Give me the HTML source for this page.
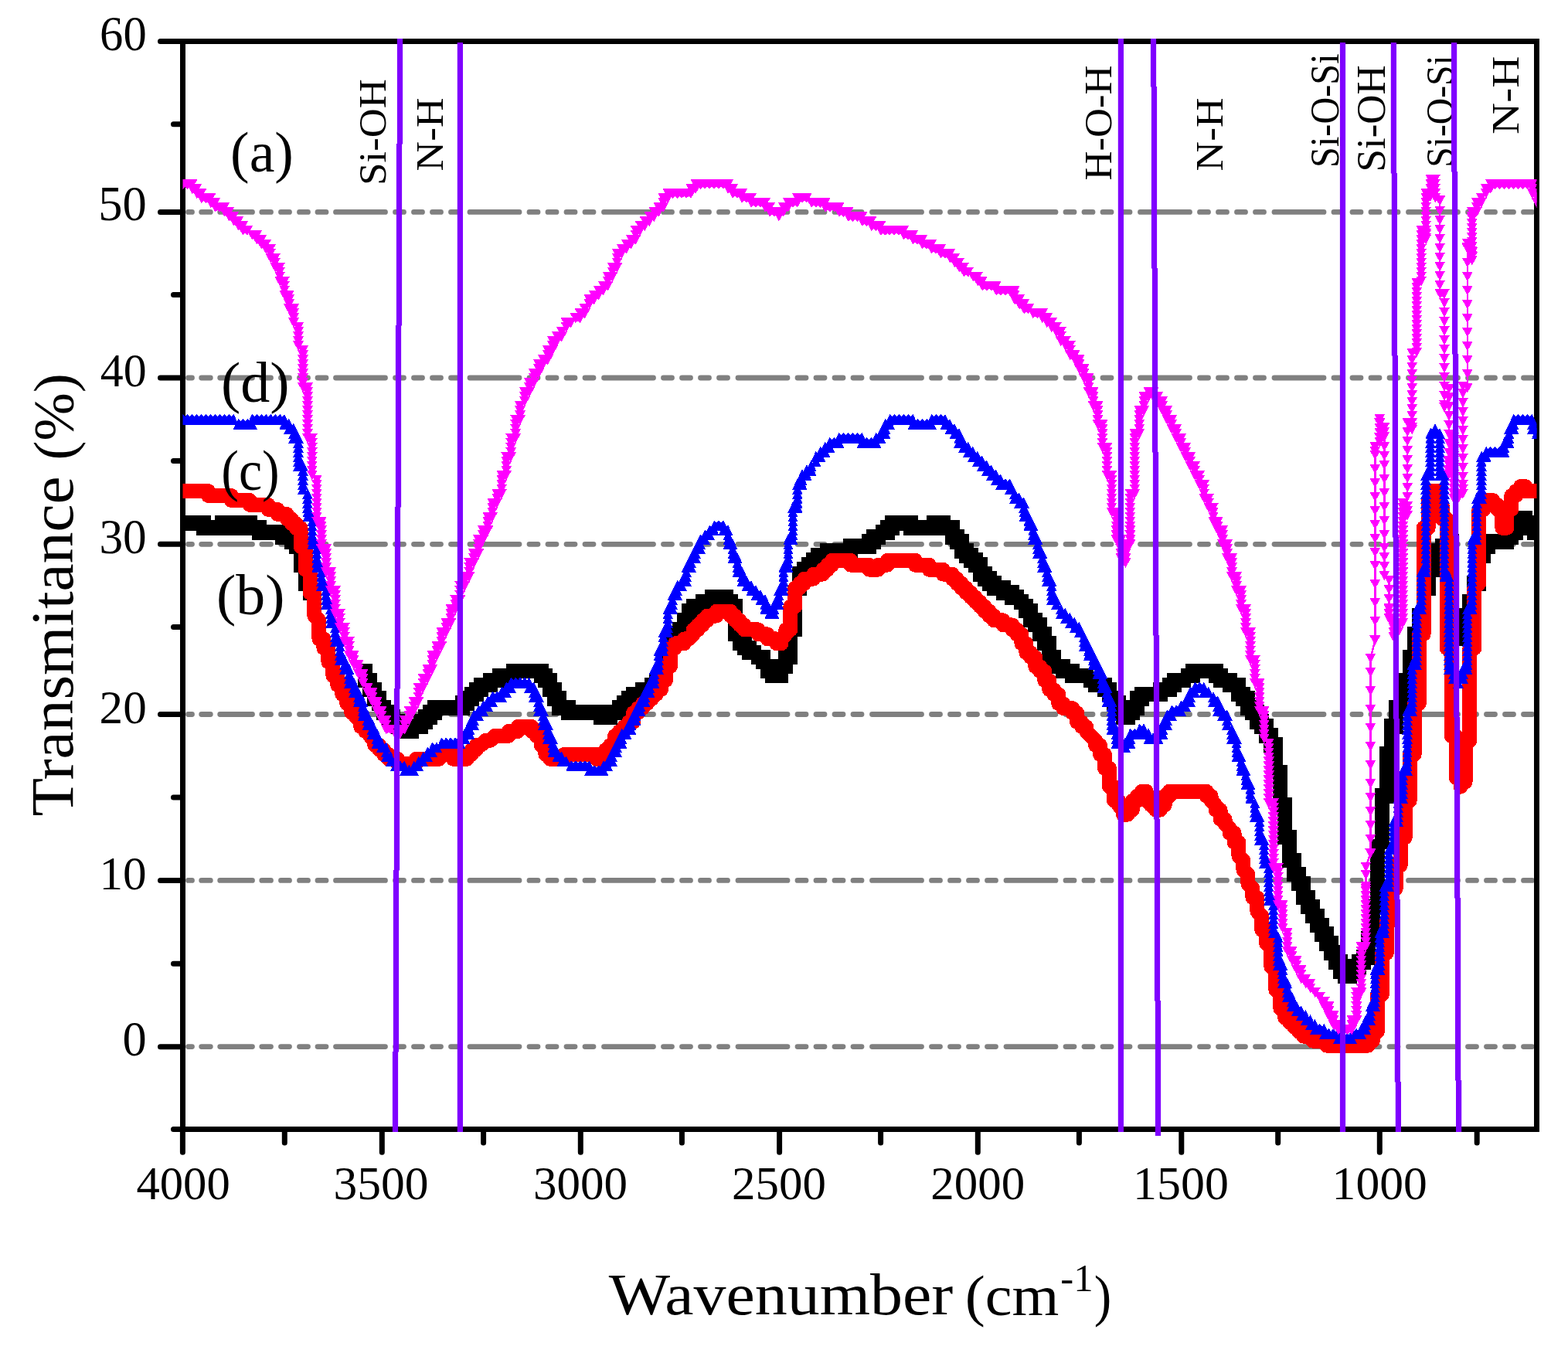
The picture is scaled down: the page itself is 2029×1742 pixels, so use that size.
<!DOCTYPE html>
<html lang="en"><head><meta charset="utf-8"><title>FTIR transmittance spectra</title>
<style>html,body{margin:0;padding:0;background:#fff}svg{display:block}text{font-family:"Liberation Serif","DejaVu Serif",serif;fill:#000}</style></head><body>
<svg xmlns="http://www.w3.org/2000/svg" width="2029" height="1742" viewBox="0 0 2029 1742">
<rect width="2029" height="1742" fill="#fff"/>
<defs><clipPath id="pc"><rect x="236.5" y="53.5" width="1752" height="1408"/></clipPath></defs>
<g clip-path="url(#pc)"><path d="M243.5,274.4H248.5M260.7,274.4H272.3M284.7,274.4H326.5M338.8,274.4H350.5M363.5,274.4H374.5M387.5,274.4H398.5M411,274.4H422M434.5,274.4H498.5M511.5,274.4H522.5M535.5,274.4H546.5M559.5,274.4H570.5M583.5,274.4H594.5M608,274.4H672M685,274.4H696M709,274.4H720M733,274.4H744M757,274.4H768M781.5,274.4H845.5M858.5,274.4H869.5M882.5,274.4H893.5M906.5,274.4H917.5M930.5,274.4H941.5M955,274.4H1019M1032,274.4H1043M1056,274.4H1067M1080,274.4H1091M1104,274.4H1115M1128.5,274.4H1192.5M1205.5,274.4H1216.5M1229.5,274.4H1240.5M1253.5,274.4H1264.5M1277.5,274.4H1288.5M1302,274.4H1366M1379,274.4H1390M1403,274.4H1414M1427,274.4H1438M1451,274.4H1462M1475.5,274.4H1539.5M1552.5,274.4H1563.5M1576.5,274.4H1587.5M1600.5,274.4H1611.5M1624.5,274.4H1635.5M1649,274.4H1713M1726,274.4H1737M1750,274.4H1761M1774,274.4H1785M1798,274.4H1809M1822.5,274.4H1886.5M1899.5,274.4H1910.5M1923.5,274.4H1934.5M1947.5,274.4H1958.5M1971.5,274.4H1982.5M243.5,489H248.5M260.7,489H272.3M284.7,489H326.5M338.8,489H350.5M363.5,489H374.5M387.5,489H398.5M411,489H422M434.5,489H498.5M511.5,489H522.5M535.5,489H546.5M559.5,489H570.5M583.5,489H594.5M608,489H672M685,489H696M709,489H720M733,489H744M757,489H768M781.5,489H845.5M858.5,489H869.5M882.5,489H893.5M906.5,489H917.5M930.5,489H941.5M955,489H1019M1032,489H1043M1056,489H1067M1080,489H1091M1104,489H1115M1128.5,489H1192.5M1205.5,489H1216.5M1229.5,489H1240.5M1253.5,489H1264.5M1277.5,489H1288.5M1302,489H1366M1379,489H1390M1403,489H1414M1427,489H1438M1451,489H1462M1475.5,489H1539.5M1552.5,489H1563.5M1576.5,489H1587.5M1600.5,489H1611.5M1624.5,489H1635.5M1649,489H1713M1726,489H1737M1750,489H1761M1774,489H1785M1798,489H1809M1822.5,489H1886.5M1899.5,489H1910.5M1923.5,489H1934.5M1947.5,489H1958.5M1971.5,489H1982.5M243.5,704.3H248.5M260.7,704.3H272.3M284.7,704.3H326.5M338.8,704.3H350.5M363.5,704.3H374.5M387.5,704.3H398.5M411,704.3H422M434.5,704.3H498.5M511.5,704.3H522.5M535.5,704.3H546.5M559.5,704.3H570.5M583.5,704.3H594.5M608,704.3H672M685,704.3H696M709,704.3H720M733,704.3H744M757,704.3H768M781.5,704.3H845.5M858.5,704.3H869.5M882.5,704.3H893.5M906.5,704.3H917.5M930.5,704.3H941.5M955,704.3H1019M1032,704.3H1043M1056,704.3H1067M1080,704.3H1091M1104,704.3H1115M1128.5,704.3H1192.5M1205.5,704.3H1216.5M1229.5,704.3H1240.5M1253.5,704.3H1264.5M1277.5,704.3H1288.5M1302,704.3H1366M1379,704.3H1390M1403,704.3H1414M1427,704.3H1438M1451,704.3H1462M1475.5,704.3H1539.5M1552.5,704.3H1563.5M1576.5,704.3H1587.5M1600.5,704.3H1611.5M1624.5,704.3H1635.5M1649,704.3H1713M1726,704.3H1737M1750,704.3H1761M1774,704.3H1785M1798,704.3H1809M1822.5,704.3H1886.5M1899.5,704.3H1910.5M1923.5,704.3H1934.5M1947.5,704.3H1958.5M1971.5,704.3H1982.5M243.5,924.5H248.5M260.7,924.5H272.3M284.7,924.5H326.5M338.8,924.5H350.5M363.5,924.5H374.5M387.5,924.5H398.5M411,924.5H422M434.5,924.5H498.5M511.5,924.5H522.5M535.5,924.5H546.5M559.5,924.5H570.5M583.5,924.5H594.5M608,924.5H672M685,924.5H696M709,924.5H720M733,924.5H744M757,924.5H768M781.5,924.5H845.5M858.5,924.5H869.5M882.5,924.5H893.5M906.5,924.5H917.5M930.5,924.5H941.5M955,924.5H1019M1032,924.5H1043M1056,924.5H1067M1080,924.5H1091M1104,924.5H1115M1128.5,924.5H1192.5M1205.5,924.5H1216.5M1229.5,924.5H1240.5M1253.5,924.5H1264.5M1277.5,924.5H1288.5M1302,924.5H1366M1379,924.5H1390M1403,924.5H1414M1427,924.5H1438M1451,924.5H1462M1475.5,924.5H1539.5M1552.5,924.5H1563.5M1576.5,924.5H1587.5M1600.5,924.5H1611.5M1624.5,924.5H1635.5M1649,924.5H1713M1726,924.5H1737M1750,924.5H1761M1774,924.5H1785M1798,924.5H1809M1822.5,924.5H1886.5M1899.5,924.5H1910.5M1923.5,924.5H1934.5M1947.5,924.5H1958.5M1971.5,924.5H1982.5M243.5,1139.4H248.5M260.7,1139.4H272.3M284.7,1139.4H326.5M338.8,1139.4H350.5M363.5,1139.4H374.5M387.5,1139.4H398.5M411,1139.4H422M434.5,1139.4H498.5M511.5,1139.4H522.5M535.5,1139.4H546.5M559.5,1139.4H570.5M583.5,1139.4H594.5M608,1139.4H672M685,1139.4H696M709,1139.4H720M733,1139.4H744M757,1139.4H768M781.5,1139.4H845.5M858.5,1139.4H869.5M882.5,1139.4H893.5M906.5,1139.4H917.5M930.5,1139.4H941.5M955,1139.4H1019M1032,1139.4H1043M1056,1139.4H1067M1080,1139.4H1091M1104,1139.4H1115M1128.5,1139.4H1192.5M1205.5,1139.4H1216.5M1229.5,1139.4H1240.5M1253.5,1139.4H1264.5M1277.5,1139.4H1288.5M1302,1139.4H1366M1379,1139.4H1390M1403,1139.4H1414M1427,1139.4H1438M1451,1139.4H1462M1475.5,1139.4H1539.5M1552.5,1139.4H1563.5M1576.5,1139.4H1587.5M1600.5,1139.4H1611.5M1624.5,1139.4H1635.5M1649,1139.4H1713M1726,1139.4H1737M1750,1139.4H1761M1774,1139.4H1785M1798,1139.4H1809M1822.5,1139.4H1886.5M1899.5,1139.4H1910.5M1923.5,1139.4H1934.5M1947.5,1139.4H1958.5M1971.5,1139.4H1982.5M243.5,1354.6H248.5M260.7,1354.6H272.3M284.7,1354.6H326.5M338.8,1354.6H350.5M363.5,1354.6H374.5M387.5,1354.6H398.5M411,1354.6H422M434.5,1354.6H498.5M511.5,1354.6H522.5M535.5,1354.6H546.5M559.5,1354.6H570.5M583.5,1354.6H594.5M608,1354.6H672M685,1354.6H696M709,1354.6H720M733,1354.6H744M757,1354.6H768M781.5,1354.6H845.5M858.5,1354.6H869.5M882.5,1354.6H893.5M906.5,1354.6H917.5M930.5,1354.6H941.5M955,1354.6H1019M1032,1354.6H1043M1056,1354.6H1067M1080,1354.6H1091M1104,1354.6H1115M1128.5,1354.6H1192.5M1205.5,1354.6H1216.5M1229.5,1354.6H1240.5M1253.5,1354.6H1264.5M1277.5,1354.6H1288.5M1302,1354.6H1366M1379,1354.6H1390M1403,1354.6H1414M1427,1354.6H1438M1451,1354.6H1462M1475.5,1354.6H1539.5M1552.5,1354.6H1563.5M1576.5,1354.6H1587.5M1600.5,1354.6H1611.5M1624.5,1354.6H1635.5M1649,1354.6H1713M1726,1354.6H1737M1750,1354.6H1761M1774,1354.6H1785M1798,1354.6H1809M1822.5,1354.6H1886.5M1899.5,1354.6H1910.5M1923.5,1354.6H1934.5M1947.5,1354.6H1958.5M1971.5,1354.6H1982.5" stroke="#808080" stroke-width="6.8" stroke-linecap="round" fill="none"/></g>
<g stroke="#000" stroke-width="7" fill="none" stroke-linecap="round">
<rect x="236.5" y="53.5" width="1752" height="1408" stroke-linejoin="miter"/>
<path d="M207.5,53.6H236.5M207.5,274.4H236.5M207.5,489H236.5M207.5,704.3H236.5M207.5,924.5H236.5M207.5,1139.5H236.5M207.5,1354.7H236.5M224.5,160.7H236.5M224.5,381.5H236.5M224.5,596.5H236.5M224.5,811.5H236.5M224.5,1032.1H236.5M224.5,1247.3H236.5M224.5,1461.6H236.5M236.4,1461.5V1491.3M494.3,1461.5V1491.3M751.3,1461.5V1491.3M1008.6,1461.5V1491.3M1265.3,1461.5V1491.3M1528.8,1461.5V1491.3M1785.3,1461.5V1491.3M368.3,1461.5V1479M625.6,1461.5V1479M882.4,1461.5V1479M1139.6,1461.5V1479M1396.4,1461.5V1479M1653.7,1461.5V1479M1911.2,1461.5V1479"/>
</g>
<g clip-path="url(#pc)" shape-rendering="crispEdges">
<path d="M224,667.2h19v19.6h-19zM230,667.2h19v19.6h-19zM236,667.2h19v19.6h-19zM242,667.2h19v19.6h-19zM247.9,667.2h19v19.6h-19zM253.9,667.2h19v19.6h-19zM253.9,673.2h19v19.6h-19zM259.9,673.2h19v19.6h-19zM265.9,673.2h19v19.6h-19zM271.9,673.2h19v19.6h-19zM277.8,673.2h19v19.6h-19zM277.8,667.2h19v19.6h-19zM283.8,667.2h19v19.6h-19zM289.8,667.2h19v19.6h-19zM289.8,673.2h19v19.6h-19zM295.8,673.2h19v19.6h-19zM295.8,667.2h19v19.6h-19zM301.8,667.2h19v19.6h-19zM307.7,667.2h19v19.6h-19zM313.7,667.2h19v19.6h-19zM313.7,673.2h19v19.6h-19zM319.7,673.2h19v19.6h-19zM325.7,673.2h19v19.6h-19zM325.7,679.2h19v19.6h-19zM331.7,679.2h19v19.6h-19zM337.6,679.2h19v19.6h-19zM343.6,679.2h19v19.6h-19zM349.6,679.2h19v19.6h-19zM355.6,679.2h19v19.6h-19zM355.6,685.1h19v19.6h-19zM361.6,685.1h19v19.6h-19zM367.5,685.1h19v19.6h-19zM367.5,691.1h19v19.6h-19zM373.5,691.1h19v19.6h-19zM373.5,697.1h19v19.6h-19zM379.5,697.1h19v19.6h-19zM379.5,703.1h19v19.6h-19zM379.5,709.1h19v19.6h-19zM379.5,715h19v19.6h-19zM379.5,721h19v19.6h-19zM385.5,721h19v19.6h-19zM385.5,727h19v19.6h-19zM385.5,733h19v19.6h-19zM385.5,739h19v19.6h-19zM385.5,744.9h19v19.6h-19zM391.5,744.9h19v19.6h-19zM391.5,750.9h19v19.6h-19zM391.5,756.9h19v19.6h-19zM463.2,858.6h19v19.6h-19zM463.2,864.5h19v19.6h-19zM463.2,870.5h19v19.6h-19zM469.2,870.5h19v19.6h-19zM469.2,876.5h19v19.6h-19zM469.2,882.5h19v19.6h-19zM475.2,882.5h19v19.6h-19zM475.2,888.5h19v19.6h-19zM475.2,894.4h19v19.6h-19zM481.2,894.4h19v19.6h-19zM481.2,900.4h19v19.6h-19zM487.1,906.4h19v19.6h-19zM487.1,912.4h19v19.6h-19zM493.1,912.4h19v19.6h-19zM493.1,918.4h19v19.6h-19zM499.1,918.4h19v19.6h-19zM499.1,924.3h19v19.6h-19zM505.1,924.3h19v19.6h-19zM505.1,930.3h19v19.6h-19zM511,930.3h19v19.6h-19zM517,930.3h19v19.6h-19zM517,936.3h19v19.6h-19zM523,936.3h19v19.6h-19zM523,930.3h19v19.6h-19zM529,930.3h19v19.6h-19zM535,930.3h19v19.6h-19zM535,924.3h19v19.6h-19zM541,924.3h19v19.6h-19zM541,918.4h19v19.6h-19zM546.9,918.4h19v19.6h-19zM546.9,912.4h19v19.6h-19zM552.9,912.4h19v19.6h-19zM552.9,906.4h19v19.6h-19zM558.9,906.4h19v19.6h-19zM564.9,906.4h19v19.6h-19zM570.9,906.4h19v19.6h-19zM576.8,906.4h19v19.6h-19zM582.8,906.4h19v19.6h-19zM588.8,906.4h19v19.6h-19zM588.8,900.4h19v19.6h-19zM594.8,900.4h19v19.6h-19zM594.8,894.4h19v19.6h-19zM600.8,894.4h19v19.6h-19zM600.8,888.5h19v19.6h-19zM606.7,888.5h19v19.6h-19zM606.7,882.5h19v19.6h-19zM612.7,882.5h19v19.6h-19zM612.7,876.5h19v19.6h-19zM618.7,876.5h19v19.6h-19zM624.7,876.5h19v19.6h-19zM624.7,870.5h19v19.6h-19zM630.7,870.5h19v19.6h-19zM636.6,870.5h19v19.6h-19zM636.6,864.5h19v19.6h-19zM642.6,864.5h19v19.6h-19zM648.6,864.5h19v19.6h-19zM654.6,864.5h19v19.6h-19zM654.6,858.6h19v19.6h-19zM660.6,858.6h19v19.6h-19zM666.5,858.6h19v19.6h-19zM672.5,858.6h19v19.6h-19zM678.5,858.6h19v19.6h-19zM684.5,858.6h19v19.6h-19zM690.5,858.6h19v19.6h-19zM690.5,864.5h19v19.6h-19zM696.4,864.5h19v19.6h-19zM696.4,870.5h19v19.6h-19zM702.4,870.5h19v19.6h-19zM702.4,876.5h19v19.6h-19zM702.4,882.5h19v19.6h-19zM708.4,882.5h19v19.6h-19zM708.4,888.5h19v19.6h-19zM708.4,894.4h19v19.6h-19zM714.4,894.4h19v19.6h-19zM714.4,900.4h19v19.6h-19zM714.4,906.4h19v19.6h-19zM720.4,906.4h19v19.6h-19zM726.3,906.4h19v19.6h-19zM726.3,912.4h19v19.6h-19zM732.3,912.4h19v19.6h-19zM738.3,912.4h19v19.6h-19zM744.3,912.4h19v19.6h-19zM750.2,912.4h19v19.6h-19zM756.2,912.4h19v19.6h-19zM762.2,912.4h19v19.6h-19zM768.2,912.4h19v19.6h-19zM768.2,918.4h19v19.6h-19zM774.2,918.4h19v19.6h-19zM780.2,918.4h19v19.6h-19zM780.2,912.4h19v19.6h-19zM786.1,912.4h19v19.6h-19zM792.1,912.4h19v19.6h-19zM792.1,906.4h19v19.6h-19zM798.1,906.4h19v19.6h-19zM798.1,900.4h19v19.6h-19zM804.1,900.4h19v19.6h-19zM804.1,894.4h19v19.6h-19zM810.1,894.4h19v19.6h-19zM810.1,888.5h19v19.6h-19zM816,888.5h19v19.6h-19zM822,888.5h19v19.6h-19zM822,882.5h19v19.6h-19zM828,882.5h19v19.6h-19zM834,882.5h19v19.6h-19zM834,876.5h19v19.6h-19zM840,876.5h19v19.6h-19zM840,870.5h19v19.6h-19zM845.9,870.5h19v19.6h-19zM845.9,864.5h19v19.6h-19zM845.9,858.6h19v19.6h-19zM851.9,858.6h19v19.6h-19zM851.9,852.6h19v19.6h-19zM851.9,846.6h19v19.6h-19zM851.9,840.6h19v19.6h-19zM857.9,840.6h19v19.6h-19zM857.9,834.6h19v19.6h-19zM857.9,828.7h19v19.6h-19zM857.9,822.7h19v19.6h-19zM863.9,822.7h19v19.6h-19zM863.9,816.7h19v19.6h-19zM863.9,810.7h19v19.6h-19zM869.9,810.7h19v19.6h-19zM869.9,804.7h19v19.6h-19zM875.8,804.7h19v19.6h-19zM875.8,798.8h19v19.6h-19zM875.8,792.8h19v19.6h-19zM881.8,792.8h19v19.6h-19zM881.8,786.8h19v19.6h-19zM881.8,780.8h19v19.6h-19zM887.8,780.8h19v19.6h-19zM887.8,774.8h19v19.6h-19zM893.8,774.8h19v19.6h-19zM899.8,774.8h19v19.6h-19zM899.8,768.9h19v19.6h-19zM905.7,768.9h19v19.6h-19zM911.7,768.9h19v19.6h-19zM911.7,762.9h19v19.6h-19zM917.7,762.9h19v19.6h-19zM923.7,762.9h19v19.6h-19zM929.7,762.9h19v19.6h-19zM929.7,768.9h19v19.6h-19zM935.6,768.9h19v19.6h-19zM935.6,774.8h19v19.6h-19zM941.6,774.8h19v19.6h-19zM941.6,780.8h19v19.6h-19zM941.6,786.8h19v19.6h-19zM941.6,792.8h19v19.6h-19zM941.6,798.8h19v19.6h-19zM941.6,804.7h19v19.6h-19zM941.6,810.7h19v19.6h-19zM947.6,810.7h19v19.6h-19zM947.6,816.7h19v19.6h-19zM947.6,822.7h19v19.6h-19zM953.6,822.7h19v19.6h-19zM953.6,828.7h19v19.6h-19zM959.6,828.7h19v19.6h-19zM959.6,834.6h19v19.6h-19zM965.5,834.6h19v19.6h-19zM971.5,840.6h19v19.6h-19zM977.5,840.6h19v19.6h-19zM977.5,846.6h19v19.6h-19zM983.5,852.6h19v19.6h-19zM983.5,858.6h19v19.6h-19zM989.5,858.6h19v19.6h-19zM989.5,864.5h19v19.6h-19zM995.4,864.5h19v19.6h-19zM1001.4,864.5h19v19.6h-19zM1001.4,858.6h19v19.6h-19zM1001.4,852.6h19v19.6h-19zM1007.4,852.6h19v19.6h-19zM1007.4,846.6h19v19.6h-19zM1007.4,840.6h19v19.6h-19zM1013.4,840.6h19v19.6h-19zM1013.4,834.6h19v19.6h-19zM1013.4,828.7h19v19.6h-19zM1013.4,822.7h19v19.6h-19zM1013.4,816.7h19v19.6h-19zM1013.4,810.7h19v19.6h-19zM1013.4,804.7h19v19.6h-19zM1019.3,804.7h19v19.6h-19zM1019.3,798.8h19v19.6h-19zM1019.3,792.8h19v19.6h-19zM1019.3,786.8h19v19.6h-19zM1019.3,780.8h19v19.6h-19zM1019.3,774.8h19v19.6h-19zM1019.3,768.9h19v19.6h-19zM1019.3,762.9h19v19.6h-19zM1019.3,756.9h19v19.6h-19zM1025.3,750.9h19v19.6h-19zM1025.3,744.9h19v19.6h-19zM1025.3,739h19v19.6h-19zM1025.3,733h19v19.6h-19zM1031.3,733h19v19.6h-19zM1031.3,727h19v19.6h-19zM1037.3,727h19v19.6h-19zM1037.3,721h19v19.6h-19zM1043.3,721h19v19.6h-19zM1043.3,715h19v19.6h-19zM1049.2,715h19v19.6h-19zM1049.2,709.1h19v19.6h-19zM1055.2,709.1h19v19.6h-19zM1061.2,709.1h19v19.6h-19zM1061.2,703.1h19v19.6h-19zM1067.2,703.1h19v19.6h-19zM1073.2,703.1h19v19.6h-19zM1079.2,703.1h19v19.6h-19zM1085.1,703.1h19v19.6h-19zM1091.1,703.1h19v19.6h-19zM1091.1,697.1h19v19.6h-19zM1097.1,697.1h19v19.6h-19zM1103.1,697.1h19v19.6h-19zM1109.1,697.1h19v19.6h-19zM1115,697.1h19v19.6h-19zM1115,691.1h19v19.6h-19zM1121,691.1h19v19.6h-19zM1121,685.1h19v19.6h-19zM1127,685.1h19v19.6h-19zM1133,679.2h19v19.6h-19zM1139,679.2h19v19.6h-19zM1139,673.2h19v19.6h-19zM1144.9,673.2h19v19.6h-19zM1144.9,667.2h19v19.6h-19zM1150.9,667.2h19v19.6h-19zM1156.9,667.2h19v19.6h-19zM1162.9,667.2h19v19.6h-19zM1168.8,667.2h19v19.6h-19zM1168.8,673.2h19v19.6h-19zM1174.8,673.2h19v19.6h-19zM1180.8,673.2h19v19.6h-19zM1186.8,673.2h19v19.6h-19zM1192.8,673.2h19v19.6h-19zM1198.8,673.2h19v19.6h-19zM1198.8,667.2h19v19.6h-19zM1204.7,667.2h19v19.6h-19zM1210.7,667.2h19v19.6h-19zM1210.7,673.2h19v19.6h-19zM1216.7,673.2h19v19.6h-19zM1222.7,673.2h19v19.6h-19zM1222.7,679.2h19v19.6h-19zM1222.7,685.1h19v19.6h-19zM1228.7,685.1h19v19.6h-19zM1228.7,691.1h19v19.6h-19zM1234.6,691.1h19v19.6h-19zM1234.6,697.1h19v19.6h-19zM1234.6,703.1h19v19.6h-19zM1240.6,703.1h19v19.6h-19zM1240.6,709.1h19v19.6h-19zM1246.6,709.1h19v19.6h-19zM1246.6,715h19v19.6h-19zM1252.6,715h19v19.6h-19zM1252.6,721h19v19.6h-19zM1258.6,721h19v19.6h-19zM1258.6,727h19v19.6h-19zM1258.6,733h19v19.6h-19zM1264.5,733h19v19.6h-19zM1264.5,739h19v19.6h-19zM1270.5,739h19v19.6h-19zM1270.5,744.9h19v19.6h-19zM1276.5,744.9h19v19.6h-19zM1276.5,750.9h19v19.6h-19zM1282.5,750.9h19v19.6h-19zM1288.5,750.9h19v19.6h-19zM1288.5,756.9h19v19.6h-19zM1294.4,756.9h19v19.6h-19zM1300.4,756.9h19v19.6h-19zM1300.4,762.9h19v19.6h-19zM1306.4,762.9h19v19.6h-19zM1312.4,768.9h19v19.6h-19zM1318.4,774.8h19v19.6h-19zM1318.4,780.8h19v19.6h-19zM1324.3,780.8h19v19.6h-19zM1324.3,786.8h19v19.6h-19zM1324.3,792.8h19v19.6h-19zM1330.3,792.8h19v19.6h-19zM1330.3,798.8h19v19.6h-19zM1336.3,798.8h19v19.6h-19zM1336.3,804.7h19v19.6h-19zM1336.3,810.7h19v19.6h-19zM1342.3,810.7h19v19.6h-19zM1342.3,816.7h19v19.6h-19zM1342.3,822.7h19v19.6h-19zM1348.2,822.7h19v19.6h-19zM1348.2,828.7h19v19.6h-19zM1348.2,834.6h19v19.6h-19zM1348.2,840.6h19v19.6h-19zM1354.2,840.6h19v19.6h-19zM1354.2,846.6h19v19.6h-19zM1354.2,852.6h19v19.6h-19zM1360.2,852.6h19v19.6h-19zM1366.2,852.6h19v19.6h-19zM1366.2,858.6h19v19.6h-19zM1372.2,858.6h19v19.6h-19zM1378.2,858.6h19v19.6h-19zM1378.2,864.5h19v19.6h-19zM1384.1,864.5h19v19.6h-19zM1390.1,864.5h19v19.6h-19zM1396.1,864.5h19v19.6h-19zM1402.1,870.5h19v19.6h-19zM1408.1,870.5h19v19.6h-19zM1408.1,876.5h19v19.6h-19zM1414,876.5h19v19.6h-19zM1420,876.5h19v19.6h-19zM1420,882.5h19v19.6h-19zM1426,882.5h19v19.6h-19zM1426,888.5h19v19.6h-19zM1432,894.4h19v19.6h-19zM1432,900.4h19v19.6h-19zM1438,900.4h19v19.6h-19zM1438,906.4h19v19.6h-19zM1438,912.4h19v19.6h-19zM1443.9,912.4h19v19.6h-19zM1443.9,918.4h19v19.6h-19zM1449.9,918.4h19v19.6h-19zM1449.9,912.4h19v19.6h-19zM1455.9,912.4h19v19.6h-19zM1455.9,906.4h19v19.6h-19zM1461.9,906.4h19v19.6h-19zM1461.9,900.4h19v19.6h-19zM1461.9,894.4h19v19.6h-19zM1467.9,894.4h19v19.6h-19zM1467.9,888.5h19v19.6h-19zM1473.8,888.5h19v19.6h-19zM1479.8,888.5h19v19.6h-19zM1485.8,888.5h19v19.6h-19zM1491.8,888.5h19v19.6h-19zM1491.8,882.5h19v19.6h-19zM1497.8,882.5h19v19.6h-19zM1503.7,882.5h19v19.6h-19zM1503.7,876.5h19v19.6h-19zM1509.7,876.5h19v19.6h-19zM1509.7,870.5h19v19.6h-19zM1515.7,870.5h19v19.6h-19zM1521.7,870.5h19v19.6h-19zM1527.7,864.5h19v19.6h-19zM1533.6,864.5h19v19.6h-19zM1533.6,858.6h19v19.6h-19zM1539.6,858.6h19v19.6h-19zM1545.6,858.6h19v19.6h-19zM1551.6,858.6h19v19.6h-19zM1557.6,858.6h19v19.6h-19zM1563.5,858.6h19v19.6h-19zM1563.5,864.5h19v19.6h-19zM1569.5,864.5h19v19.6h-19zM1569.5,870.5h19v19.6h-19zM1575.5,870.5h19v19.6h-19zM1581.5,870.5h19v19.6h-19zM1581.5,876.5h19v19.6h-19zM1587.5,876.5h19v19.6h-19zM1593.4,876.5h19v19.6h-19zM1593.4,882.5h19v19.6h-19zM1593.4,888.5h19v19.6h-19zM1599.4,888.5h19v19.6h-19zM1599.4,894.4h19v19.6h-19zM1605.4,894.4h19v19.6h-19zM1605.4,900.4h19v19.6h-19zM1605.4,906.4h19v19.6h-19zM1611.4,906.4h19v19.6h-19zM1611.4,912.4h19v19.6h-19zM1617.4,912.4h19v19.6h-19zM1617.4,918.4h19v19.6h-19zM1617.4,924.3h19v19.6h-19zM1623.3,924.3h19v19.6h-19zM1623.3,930.3h19v19.6h-19zM1629.3,930.3h19v19.6h-19zM1629.3,936.3h19v19.6h-19zM1629.3,942.3h19v19.6h-19zM1635.3,942.3h19v19.6h-19zM1635.3,948.3h19v19.6h-19zM1635.3,954.2h19v19.6h-19zM1641.3,954.2h19v19.6h-19zM1641.3,960.2h19v19.6h-19zM1641.3,966.2h19v19.6h-19zM1641.3,972.2h19v19.6h-19zM1641.3,978.2h19v19.6h-19zM1641.3,984.1h19v19.6h-19zM1647.2,990.1h19v19.6h-19zM1647.2,996.1h19v19.6h-19zM1647.2,1002.1h19v19.6h-19zM1647.2,1008.1h19v19.6h-19zM1647.2,1014h19v19.6h-19zM1647.2,1020h19v19.6h-19zM1647.2,1026h19v19.6h-19zM1647.2,1032h19v19.6h-19zM1653.2,1032h19v19.6h-19zM1653.2,1038h19v19.6h-19zM1653.2,1043.9h19v19.6h-19zM1653.2,1049.9h19v19.6h-19zM1653.2,1055.9h19v19.6h-19zM1653.2,1061.9h19v19.6h-19zM1653.2,1067.9h19v19.6h-19zM1653.2,1073.8h19v19.6h-19zM1659.2,1073.8h19v19.6h-19zM1659.2,1079.8h19v19.6h-19zM1659.2,1085.8h19v19.6h-19zM1659.2,1091.8h19v19.6h-19zM1659.2,1097.8h19v19.6h-19zM1659.2,1103.7h19v19.6h-19zM1665.2,1103.7h19v19.6h-19zM1665.2,1109.7h19v19.6h-19zM1665.2,1115.7h19v19.6h-19zM1665.2,1121.7h19v19.6h-19zM1671.2,1121.7h19v19.6h-19zM1671.2,1127.7h19v19.6h-19zM1671.2,1133.6h19v19.6h-19zM1677.2,1133.6h19v19.6h-19zM1677.2,1139.6h19v19.6h-19zM1677.2,1145.6h19v19.6h-19zM1677.2,1151.6h19v19.6h-19zM1683.1,1151.6h19v19.6h-19zM1683.1,1157.6h19v19.6h-19zM1683.1,1163.5h19v19.6h-19zM1689.1,1163.5h19v19.6h-19zM1689.1,1169.5h19v19.6h-19zM1689.1,1175.5h19v19.6h-19zM1695.1,1175.5h19v19.6h-19zM1695.1,1181.5h19v19.6h-19zM1695.1,1187.5h19v19.6h-19zM1701.1,1187.5h19v19.6h-19zM1701.1,1193.4h19v19.6h-19zM1701.1,1199.4h19v19.6h-19zM1707.1,1199.4h19v19.6h-19zM1707.1,1205.4h19v19.6h-19zM1707.1,1211.4h19v19.6h-19zM1713,1211.4h19v19.6h-19zM1713,1217.4h19v19.6h-19zM1713,1223.3h19v19.6h-19zM1719,1223.3h19v19.6h-19zM1719,1229.3h19v19.6h-19zM1719,1235.3h19v19.6h-19zM1725,1235.3h19v19.6h-19zM1725,1241.3h19v19.6h-19zM1725,1247.3h19v19.6h-19zM1731,1247.3h19v19.6h-19zM1731,1253.2h19v19.6h-19zM1737,1253.2h19v19.6h-19zM1737,1247.3h19v19.6h-19zM1742.9,1247.3h19v19.6h-19zM1742.9,1241.3h19v19.6h-19zM1748.9,1241.3h19v19.6h-19zM1748.9,1235.3h19v19.6h-19zM1754.9,1235.3h19v19.6h-19zM1754.9,1229.3h19v19.6h-19zM1760.9,1229.3h19v19.6h-19zM1760.9,1223.3h19v19.6h-19zM1760.9,1217.4h19v19.6h-19zM1760.9,1211.4h19v19.6h-19zM1760.9,1205.4h19v19.6h-19zM1766.9,1205.4h19v19.6h-19zM1766.9,1199.4h19v19.6h-19zM1766.9,1193.4h19v19.6h-19zM1766.9,1187.5h19v19.6h-19zM1766.9,1181.5h19v19.6h-19zM1766.9,1175.5h19v19.6h-19zM1766.9,1169.5h19v19.6h-19zM1766.9,1163.5h19v19.6h-19zM1772.8,1163.5h19v19.6h-19zM1772.8,1157.6h19v19.6h-19zM1772.8,1151.6h19v19.6h-19zM1772.8,1145.6h19v19.6h-19zM1772.8,1139.6h19v19.6h-19zM1772.8,1133.6h19v19.6h-19zM1772.8,1127.7h19v19.6h-19zM1772.8,1121.7h19v19.6h-19zM1772.8,1115.7h19v19.6h-19zM1772.8,1109.7h19v19.6h-19zM1772.8,1103.7h19v19.6h-19zM1772.8,1097.8h19v19.6h-19zM1772.8,1091.8h19v19.6h-19zM1772.8,1085.8h19v19.6h-19zM1778.8,1079.8h19v19.6h-19zM1778.8,1073.8h19v19.6h-19zM1778.8,1067.9h19v19.6h-19zM1778.8,1061.9h19v19.6h-19zM1778.8,1055.9h19v19.6h-19zM1778.8,1049.9h19v19.6h-19zM1778.8,1043.9h19v19.6h-19zM1778.8,1038h19v19.6h-19zM1778.8,1032h19v19.6h-19zM1778.8,1026h19v19.6h-19zM1778.8,1020h19v19.6h-19zM1784.8,1020h19v19.6h-19zM1784.8,1014h19v19.6h-19zM1784.8,1008.1h19v19.6h-19zM1784.8,1002.1h19v19.6h-19zM1784.8,996.1h19v19.6h-19zM1784.8,990.1h19v19.6h-19zM1784.8,984.1h19v19.6h-19zM1784.8,978.2h19v19.6h-19zM1784.8,972.2h19v19.6h-19zM1784.8,966.2h19v19.6h-19zM1790.8,966.2h19v19.6h-19zM1790.8,960.2h19v19.6h-19zM1790.8,954.2h19v19.6h-19zM1790.8,948.3h19v19.6h-19zM1790.8,942.3h19v19.6h-19zM1790.8,936.3h19v19.6h-19zM1790.8,930.3h19v19.6h-19zM1796.8,930.3h19v19.6h-19zM1796.8,924.3h19v19.6h-19zM1796.8,918.4h19v19.6h-19zM1796.8,912.4h19v19.6h-19zM1796.8,906.4h19v19.6h-19zM1802.7,906.4h19v19.6h-19zM1802.7,900.4h19v19.6h-19zM1802.7,894.4h19v19.6h-19zM1802.7,888.5h19v19.6h-19zM1808.7,888.5h19v19.6h-19zM1808.7,882.5h19v19.6h-19zM1808.7,876.5h19v19.6h-19zM1808.7,870.5h19v19.6h-19zM1814.7,870.5h19v19.6h-19zM1814.7,864.5h19v19.6h-19zM1814.7,858.6h19v19.6h-19zM1814.7,852.6h19v19.6h-19zM1814.7,846.6h19v19.6h-19zM1814.7,840.6h19v19.6h-19zM1820.7,840.6h19v19.6h-19zM1820.7,834.6h19v19.6h-19zM1820.7,828.7h19v19.6h-19zM1820.7,822.7h19v19.6h-19zM1820.7,816.7h19v19.6h-19zM1820.7,810.7h19v19.6h-19zM1826.7,810.7h19v19.6h-19zM1826.7,804.7h19v19.6h-19zM1826.7,798.8h19v19.6h-19zM1826.7,792.8h19v19.6h-19zM1826.7,786.8h19v19.6h-19zM1832.6,780.8h19v19.6h-19zM1832.6,774.8h19v19.6h-19zM1832.6,768.9h19v19.6h-19zM1832.6,762.9h19v19.6h-19zM1832.6,756.9h19v19.6h-19zM1832.6,750.9h19v19.6h-19zM1838.6,750.9h19v19.6h-19zM1838.6,744.9h19v19.6h-19zM1838.6,739h19v19.6h-19zM1838.6,733h19v19.6h-19zM1838.6,727h19v19.6h-19zM1844.6,727h19v19.6h-19zM1844.6,721h19v19.6h-19zM1844.6,715h19v19.6h-19zM1844.6,709.1h19v19.6h-19zM1850.6,709.1h19v19.6h-19zM1850.6,703.1h19v19.6h-19zM1856.6,703.1h19v19.6h-19zM1856.6,697.1h19v19.6h-19zM1862.5,697.1h19v19.6h-19zM1862.5,691.1h19v19.6h-19zM1868.5,691.1h19v19.6h-19zM1868.5,697.1h19v19.6h-19zM1868.5,703.1h19v19.6h-19zM1868.5,709.1h19v19.6h-19zM1868.5,715h19v19.6h-19zM1868.5,721h19v19.6h-19zM1868.5,727h19v19.6h-19zM1868.5,733h19v19.6h-19zM1868.5,739h19v19.6h-19zM1868.5,744.9h19v19.6h-19zM1868.5,750.9h19v19.6h-19zM1868.5,756.9h19v19.6h-19zM1868.5,762.9h19v19.6h-19zM1868.5,768.9h19v19.6h-19zM1868.5,774.8h19v19.6h-19zM1868.5,780.8h19v19.6h-19zM1868.5,786.8h19v19.6h-19zM1868.5,792.8h19v19.6h-19zM1868.5,798.8h19v19.6h-19zM1868.5,804.7h19v19.6h-19zM1868.5,810.7h19v19.6h-19zM1874.5,810.7h19v19.6h-19zM1874.5,816.7h19v19.6h-19zM1880.5,816.7h19v19.6h-19zM1886.5,816.7h19v19.6h-19zM1886.5,810.7h19v19.6h-19zM1886.5,804.7h19v19.6h-19zM1886.5,798.8h19v19.6h-19zM1886.5,792.8h19v19.6h-19zM1886.5,786.8h19v19.6h-19zM1892.4,780.8h19v19.6h-19zM1892.4,774.8h19v19.6h-19zM1892.4,768.9h19v19.6h-19zM1898.4,768.9h19v19.6h-19zM1898.4,762.9h19v19.6h-19zM1898.4,756.9h19v19.6h-19zM1898.4,750.9h19v19.6h-19zM1898.4,744.9h19v19.6h-19zM1904.4,744.9h19v19.6h-19zM1904.4,739h19v19.6h-19zM1904.4,733h19v19.6h-19zM1904.4,727h19v19.6h-19zM1904.4,721h19v19.6h-19zM1904.4,715h19v19.6h-19zM1904.4,709.1h19v19.6h-19zM1910.4,709.1h19v19.6h-19zM1910.4,703.1h19v19.6h-19zM1910.4,697.1h19v19.6h-19zM1916.4,697.1h19v19.6h-19zM1916.4,691.1h19v19.6h-19zM1922.3,691.1h19v19.6h-19zM1928.3,691.1h19v19.6h-19zM1934.3,691.1h19v19.6h-19zM1940.3,691.1h19v19.6h-19zM1940.3,685.1h19v19.6h-19zM1946.3,685.1h19v19.6h-19zM1952.2,679.2h19v19.6h-19zM1952.2,673.2h19v19.6h-19zM1952.2,667.2h19v19.6h-19zM1958.2,667.2h19v19.6h-19zM1958.2,661.2h19v19.6h-19zM1964.2,661.2h19v19.6h-19zM1964.2,667.2h19v19.6h-19zM1970.2,667.2h19v19.6h-19zM1970.2,673.2h19v19.6h-19zM1976.2,673.2h19v19.6h-19zM1976.2,679.2h19v19.6h-19z" fill="#000"/>
<polyline points="233.5,635.5 239.5,635.5 245.5,635.5 251.5,635.5 257.4,635.5 263.4,635.5 269.4,635.5 269.4,641.5 275.4,641.5 281.4,641.5 287.3,641.5 293.3,641.5 299.3,641.5 299.3,647.5 305.3,647.5 311.2,647.5 317.2,647.5 323.2,647.5 323.2,653.4 329.2,653.4 335.2,653.4 341.2,653.4 347.1,653.4 347.1,659.4 353.1,659.4 359.1,659.4 359.1,665.4 365.1,665.4 371.1,665.4 371.1,671.4 377,671.4 377,677.4 383,677.4 383,683.3 389,683.3 389,689.3 389,695.3 389,701.3 389,707.3 395,707.3 395,713.2 395,719.2 395,725.2 395,731.2 395,737.2 401,737.2 401,743.1 401,749.1 401,755.1 401,761.1 401,767.1 406.9,767.1 406.9,773 406.9,779 406.9,785 406.9,791 406.9,797 412.9,802.9 412.9,808.9 412.9,814.9 412.9,820.9 412.9,826.9 418.9,826.9 418.9,832.8 418.9,838.8 424.9,838.8 424.9,844.8 424.9,850.8 424.9,856.8 430.9,856.8 430.9,862.7 430.9,868.7 430.9,874.7 436.8,874.7 436.8,880.7 436.8,886.7 442.8,886.7 442.8,892.6 442.8,898.6 448.8,898.6 448.8,904.6 448.8,910.6 454.8,910.6 454.8,916.6 454.8,922.5 460.8,922.5 460.8,928.5 466.7,928.5 466.7,934.5 466.7,940.5 472.7,940.5 472.7,946.5 478.7,946.5 478.7,952.4 484.7,958.4 484.7,964.4 490.7,964.4 490.7,970.4 496.6,970.4 496.6,976.4 502.6,976.4 502.6,982.3 508.6,982.3 514.6,982.3 514.6,988.3 520.5,988.3 526.5,988.3 532.5,988.3 538.5,988.3 538.5,982.3 544.5,982.3 550.5,982.3 556.4,982.3 562.4,982.3 568.4,982.3 568.4,976.4 574.4,976.4 580.4,976.4 586.3,976.4 586.3,982.3 592.3,982.3 598.3,982.3 604.3,982.3 604.3,976.4 610.2,976.4 610.2,970.4 616.2,970.4 616.2,964.4 622.2,964.4 628.2,958.4 634.2,958.4 640.2,952.4 646.1,952.4 652.1,952.4 658.1,952.4 658.1,946.5 664.1,946.5 670.1,946.5 670.1,940.5 676,940.5 682,940.5 688,940.5 688,946.5 694,946.5 694,952.4 700,952.4 700,958.4 700,964.4 705.9,964.4 705.9,970.4 705.9,976.4 711.9,976.4 711.9,982.3 717.9,982.3 723.9,982.3 729.9,982.3 729.9,976.4 735.8,976.4 741.8,976.4 747.8,976.4 753.8,976.4 759.8,976.4 765.7,976.4 771.7,976.4 771.7,982.3 777.7,982.3 783.7,982.3 783.7,976.4 783.7,970.4 789.7,970.4 789.7,964.4 795.6,964.4 795.6,958.4 795.6,952.4 801.6,952.4 801.6,946.5 807.6,946.5 807.6,940.5 813.6,940.5 813.6,934.5 819.6,934.5 819.6,928.5 819.6,922.5 825.5,922.5 825.5,916.6 831.5,916.6 831.5,910.6 837.5,910.6 837.5,904.6 843.5,904.6 843.5,898.6 849.5,898.6 849.5,892.6 855.4,892.6 855.4,886.7 855.4,880.7 861.4,880.7 861.4,874.7 861.4,868.7 861.4,862.7 867.4,862.7 867.4,856.8 867.4,850.8 867.4,844.8 867.4,838.8 873.4,838.8 873.4,832.8 879.4,832.8 885.3,832.8 885.3,826.9 891.3,826.9 897.3,820.9 897.3,814.9 903.3,814.9 903.3,808.9 909.2,808.9 909.2,802.9 915.2,802.9 915.2,797 921.2,797 927.2,797 927.2,791 933.2,791 939.2,791 945.1,791 945.1,797 951.1,797 951.1,802.9 957.1,802.9 957.1,808.9 963.1,808.9 963.1,814.9 969.1,814.9 975,814.9 981,814.9 981,820.9 987,820.9 993,820.9 993,826.9 999,826.9 1004.9,826.9 1004.9,832.8 1010.9,832.8 1010.9,826.9 1016.9,820.9 1016.9,814.9 1022.9,814.9 1022.9,808.9 1022.9,802.9 1022.9,797 1022.9,791 1022.9,785 1028.8,785 1028.8,779 1028.8,773 1028.8,767.1 1028.8,761.1 1034.8,761.1 1034.8,755.1 1040.8,755.1 1040.8,749.1 1046.8,749.1 1052.8,749.1 1052.8,743.1 1058.8,743.1 1064.7,743.1 1064.7,737.2 1070.7,737.2 1070.7,731.2 1076.7,731.2 1076.7,725.2 1082.7,725.2 1088.7,725.2 1094.6,725.2 1100.6,725.2 1100.6,731.2 1106.6,731.2 1112.6,731.2 1118.6,731.2 1124.5,731.2 1124.5,737.2 1130.5,737.2 1136.5,737.2 1136.5,731.2 1142.5,731.2 1148.5,731.2 1148.5,725.2 1154.4,725.2 1160.4,725.2 1166.4,725.2 1172.4,725.2 1178.3,725.2 1184.3,725.2 1184.3,731.2 1190.3,731.2 1196.3,731.2 1202.3,731.2 1202.3,737.2 1208.2,737.2 1214.2,737.2 1220.2,737.2 1220.2,743.1 1226.2,743.1 1232.2,743.1 1232.2,749.1 1238.2,749.1 1238.2,755.1 1244.1,755.1 1244.1,761.1 1250.1,761.1 1250.1,767.1 1256.1,767.1 1256.1,773 1262.1,773 1262.1,779 1268.1,779 1268.1,785 1274,785 1274,791 1280,791 1280,797 1286,797 1286,802.9 1292,802.9 1298,802.9 1298,808.9 1303.9,808.9 1309.9,808.9 1309.9,814.9 1315.9,814.9 1315.9,820.9 1321.9,820.9 1321.9,826.9 1321.9,832.8 1327.9,832.8 1327.9,838.8 1327.9,844.8 1333.8,844.8 1333.8,850.8 1339.8,850.8 1339.8,856.8 1339.8,862.7 1345.8,862.7 1345.8,868.7 1351.8,868.7 1351.8,874.7 1351.8,880.7 1357.8,880.7 1357.8,886.7 1357.8,892.6 1363.7,892.6 1363.7,898.6 1369.7,898.6 1369.7,904.6 1369.7,910.6 1375.7,910.6 1375.7,916.6 1381.7,916.6 1387.7,916.6 1387.7,922.5 1393.6,922.5 1393.6,928.5 1393.6,934.5 1399.6,934.5 1399.6,940.5 1405.6,940.5 1405.6,946.5 1411.6,952.4 1417.6,958.4 1417.6,964.4 1423.5,964.4 1423.5,970.4 1423.5,976.4 1429.5,976.4 1429.5,982.3 1429.5,988.3 1429.5,994.3 1435.5,994.3 1435.5,1000.3 1435.5,1006.3 1435.5,1012.2 1435.5,1018.2 1441.5,1018.2 1441.5,1024.2 1441.5,1030.2 1441.5,1036.2 1447.5,1036.2 1447.5,1042.1 1453.4,1048.1 1453.4,1054.1 1459.4,1054.1 1459.4,1048.1 1465.4,1048.1 1465.4,1042.1 1465.4,1036.2 1471.4,1036.2 1471.4,1030.2 1477.4,1030.2 1477.4,1024.2 1483.3,1024.2 1483.3,1030.2 1483.3,1036.2 1489.3,1036.2 1489.3,1042.1 1495.3,1042.1 1495.3,1048.1 1501.3,1048.1 1501.3,1042.1 1507.2,1042.1 1507.2,1036.2 1507.2,1030.2 1513.2,1030.2 1513.2,1024.2 1519.2,1024.2 1525.2,1024.2 1531.2,1024.2 1537.2,1024.2 1543.1,1024.2 1549.1,1024.2 1555.1,1024.2 1561.1,1024.2 1561.1,1030.2 1567.1,1030.2 1567.1,1036.2 1573,1042.1 1573,1048.1 1579,1048.1 1579,1054.1 1579,1060.1 1585,1060.1 1585,1066.1 1591,1072 1591,1078 1597,1078 1597,1084 1597,1090 1602.9,1090 1602.9,1096 1602.9,1101.9 1602.9,1107.9 1608.9,1113.9 1608.9,1119.9 1608.9,1125.9 1614.9,1131.8 1614.9,1137.8 1614.9,1143.8 1620.9,1149.8 1620.9,1155.8 1620.9,1161.7 1626.9,1161.7 1626.9,1167.7 1626.9,1173.7 1626.9,1179.7 1632.8,1185.7 1632.8,1191.6 1632.8,1197.6 1632.8,1203.6 1638.8,1203.6 1638.8,1209.6 1638.8,1215.6 1638.8,1221.5 1644.8,1221.5 1644.8,1227.5 1644.8,1233.5 1644.8,1239.5 1644.8,1245.5 1644.8,1251.4 1650.8,1251.4 1650.8,1257.4 1650.8,1263.4 1650.8,1269.4 1650.8,1275.4 1650.8,1281.3 1656.8,1281.3 1656.8,1287.3 1656.8,1293.3 1656.8,1299.3 1656.8,1305.3 1662.7,1305.3 1662.7,1311.2 1662.7,1317.2 1668.7,1317.2 1668.7,1323.2 1674.7,1323.2 1674.7,1329.2 1680.7,1329.2 1680.7,1335.2 1686.7,1335.2 1686.7,1341.1 1692.6,1341.1 1698.6,1341.1 1698.6,1347.1 1704.6,1347.1 1710.6,1347.1 1716.6,1347.1 1716.6,1353.1 1722.5,1353.1 1728.5,1353.1 1734.5,1353.1 1740.5,1353.1 1746.5,1353.1 1752.4,1353.1 1758.4,1353.1 1764.4,1353.1 1770.4,1353.1 1770.4,1347.1 1776.4,1347.1 1776.4,1341.1 1776.4,1335.2 1782.3,1335.2 1782.3,1329.2 1782.3,1323.2 1782.3,1317.2 1782.3,1311.2 1782.3,1305.3 1782.3,1299.3 1782.3,1293.3 1782.3,1287.3 1788.3,1287.3 1788.3,1281.3 1788.3,1275.4 1788.3,1269.4 1788.3,1263.4 1788.3,1257.4 1788.3,1251.4 1788.3,1245.5 1788.3,1239.5 1788.3,1233.5 1794.3,1233.5 1794.3,1227.5 1794.3,1221.5 1794.3,1215.6 1794.3,1209.6 1794.3,1203.6 1794.3,1197.6 1794.3,1191.6 1800.3,1191.6 1800.3,1185.7 1800.3,1179.7 1800.3,1173.7 1800.3,1167.7 1800.3,1161.7 1800.3,1155.8 1800.3,1149.8 1806.3,1149.8 1806.3,1143.8 1806.3,1137.8 1806.3,1131.8 1806.3,1125.9 1806.3,1119.9 1812.2,1119.9 1812.2,1113.9 1812.2,1107.9 1812.2,1101.9 1812.2,1096 1812.2,1090 1812.2,1084 1818.2,1084 1818.2,1078 1818.2,1072 1818.2,1066.1 1818.2,1060.1 1818.2,1054.1 1818.2,1048.1 1818.2,1042.1 1818.2,1036.2 1824.2,1036.2 1824.2,1030.2 1824.2,1024.2 1824.2,1018.2 1824.2,1012.2 1824.2,1006.3 1824.2,1000.3 1824.2,994.3 1824.2,988.3 1824.2,982.3 1824.2,976.4 1830.2,976.4 1830.2,970.4 1830.2,964.4 1830.2,958.4 1830.2,952.4 1830.2,946.5 1830.2,940.5 1830.2,934.5 1830.2,928.5 1830.2,922.5 1830.2,916.6 1830.2,910.6 1836.2,910.6 1836.2,904.6 1836.2,898.6 1836.2,892.6 1836.2,886.7 1836.2,880.7 1836.2,874.7 1836.2,868.7 1836.2,862.7 1836.2,856.8 1836.2,850.8 1836.2,844.8 1836.2,838.8 1836.2,832.8 1836.2,826.9 1836.2,820.9 1842.1,820.9 1842.1,814.9 1842.1,808.9 1842.1,802.9 1842.1,797 1842.1,791 1842.1,785 1842.1,779 1842.1,773 1842.1,767.1 1842.1,761.1 1842.1,755.1 1842.1,749.1 1842.1,743.1 1842.1,737.2 1842.1,731.2 1842.1,725.2 1842.1,719.2 1842.1,713.2 1842.1,707.3 1842.1,701.3 1842.1,695.3 1842.1,689.3 1842.1,683.3 1848.1,683.3 1848.1,677.4 1848.1,671.4 1848.1,665.4 1848.1,659.4 1848.1,653.4 1848.1,647.5 1854.1,647.5 1854.1,641.5 1854.1,635.5 1860.1,635.5 1860.1,641.5 1860.1,647.5 1866.1,653.4 1866.1,659.4 1866.1,665.4 1866.1,671.4 1872,671.4 1872,677.4 1872,683.3 1872,689.3 1872,695.3 1872,701.3 1872,707.3 1872,713.2 1872,719.2 1872,725.2 1872,731.2 1872,737.2 1872,743.1 1872,749.1 1872,755.1 1872,761.1 1872,767.1 1872,773 1872,779 1872,785 1872,791 1872,797 1872,802.9 1872,808.9 1872,814.9 1872,820.9 1872,826.9 1872,832.8 1872,838.8 1878,838.8 1878,844.8 1878,850.8 1878,856.8 1878,862.7 1878,868.7 1878,874.7 1878,880.7 1878,886.7 1878,892.6 1878,898.6 1878,904.6 1878,910.6 1878,916.6 1878,922.5 1878,928.5 1878,934.5 1878,940.5 1878,946.5 1878,952.4 1884,952.4 1884,958.4 1884,964.4 1884,970.4 1884,976.4 1884,982.3 1884,988.3 1884,994.3 1884,1000.3 1884,1006.3 1890,1006.3 1890,1012.2 1890,1018.2 1890,1012.2 1896,1012.2 1896,1006.3 1896,1000.3 1896,994.3 1896,988.3 1896,982.3 1896,976.4 1896,970.4 1896,964.4 1896,958.4 1901.9,958.4 1901.9,952.4 1901.9,946.5 1901.9,940.5 1901.9,934.5 1901.9,928.5 1901.9,922.5 1901.9,916.6 1901.9,910.6 1901.9,904.6 1901.9,898.6 1901.9,892.6 1901.9,886.7 1901.9,880.7 1901.9,874.7 1901.9,868.7 1901.9,862.7 1901.9,856.8 1901.9,850.8 1901.9,844.8 1901.9,838.8 1907.9,838.8 1907.9,832.8 1907.9,826.9 1907.9,820.9 1907.9,814.9 1907.9,808.9 1907.9,802.9 1907.9,797 1907.9,791 1907.9,785 1907.9,779 1907.9,773 1907.9,767.1 1907.9,761.1 1913.9,755.1 1913.9,749.1 1913.9,743.1 1913.9,737.2 1913.9,731.2 1913.9,725.2 1913.9,719.2 1913.9,713.2 1913.9,707.3 1913.9,701.3 1913.9,695.3 1913.9,689.3 1913.9,683.3 1913.9,677.4 1913.9,671.4 1913.9,665.4 1913.9,659.4 1919.9,659.4 1919.9,653.4 1925.9,647.5 1931.8,647.5 1931.8,653.4 1937.8,653.4 1937.8,659.4 1943.8,659.4 1943.8,665.4 1943.8,671.4 1943.8,677.4 1943.8,683.3 1949.8,683.3 1949.8,677.4 1949.8,671.4 1949.8,665.4 1949.8,659.4 1955.8,659.4 1955.8,653.4 1955.8,647.5 1955.8,641.5 1961.7,641.5 1961.7,635.5 1967.7,635.5 1967.7,629.5 1973.7,629.5 1973.7,635.5 1979.7,635.5 1985.7,635.5" fill="none" stroke="#f00" stroke-width="19" stroke-linejoin="round" stroke-linecap="round"/>
<polyline points="236.5,542.9 242.5,542.9 248.5,542.9 254.4,542.9 260.4,542.9 266.4,542.9 272.4,542.9 278.4,542.9 284.3,542.9 290.3,542.9 296.3,542.9 302.3,542.9 308.3,548.9 314.2,548.9 320.2,548.9 326.2,548.9 326.2,542.9 332.2,542.9 338.2,542.9 344.1,542.9 350.1,542.9 356.1,542.9 362.1,542.9 368.1,542.9 368.1,548.9 374,548.9 374,554.9 380,554.9 380,560.8 380,566.8 386,566.8 386,572.8 386,578.8 386,584.8 386,590.7 386,596.7 386,602.7 392,602.7 392,608.7 392,614.7 392,620.6 392,626.6 392,632.6 398,638.6 398,644.6 398,650.5 398,656.5 398,662.5 398,668.5 403.9,668.5 403.9,674.5 403.9,680.4 403.9,686.4 403.9,692.4 403.9,698.4 403.9,704.4 409.9,704.4 409.9,710.3 409.9,716.3 409.9,722.3 409.9,728.3 409.9,734.3 415.9,734.3 415.9,740.2 415.9,746.2 415.9,752.2 415.9,758.2 421.9,758.2 421.9,764.2 421.9,770.1 421.9,776.1 421.9,782.1 427.9,782.1 427.9,788.1 427.9,794.1 427.9,800 427.9,806 433.8,806 433.8,812 433.8,818 433.8,824 433.8,829.9 439.8,829.9 439.8,835.9 439.8,841.9 439.8,847.9 439.8,853.9 445.8,853.9 445.8,859.8 445.8,865.8 451.8,865.8 451.8,871.8 451.8,877.8 451.8,883.8 457.8,883.8 457.8,889.7 457.8,895.7 463.7,895.7 463.7,901.7 463.7,907.7 469.7,907.7 469.7,913.7 469.7,919.6 469.7,925.6 475.7,925.6 475.7,931.6 475.7,937.6 481.7,937.6 481.7,943.6 481.7,949.5 487.7,949.5 487.7,955.5 487.7,961.5 493.6,961.5 493.6,967.5 499.6,967.5 499.6,973.5 499.6,979.4 505.6,979.4 505.6,985.4 511.6,985.4 511.6,991.4 517.6,991.4 523.5,991.4 523.5,997.4 529.5,997.4 535.5,997.4 535.5,991.4 541.5,991.4 541.5,985.4 547.5,985.4 547.5,979.4 553.4,979.4 553.4,973.5 559.4,973.5 559.4,967.5 565.4,967.5 571.4,961.5 577.4,961.5 583.3,961.5 589.3,961.5 595.3,961.5 595.3,955.5 601.3,955.5 601.3,949.5 607.3,949.5 607.3,943.6 607.3,937.6 613.2,937.6 613.2,931.6 613.2,925.6 619.2,925.6 619.2,919.6 625.2,919.6 625.2,913.7 631.2,913.7 631.2,907.7 637.2,907.7 637.2,901.7 643.1,901.7 649.1,901.7 649.1,895.7 655.1,895.7 655.1,889.7 661.1,889.7 661.1,883.8 667.1,883.8 673,883.8 679,883.8 685,883.8 685,889.7 691,889.7 691,895.7 691,901.7 697,901.7 697,907.7 697,913.7 697,919.6 702.9,919.6 702.9,925.6 702.9,931.6 702.9,937.6 708.9,937.6 708.9,943.6 708.9,949.5 708.9,955.5 714.9,955.5 714.9,961.5 714.9,967.5 714.9,973.5 720.9,973.5 720.9,979.4 726.9,979.4 726.9,985.4 732.8,985.4 738.8,991.4 744.8,991.4 750.8,991.4 756.8,991.4 762.7,991.4 762.7,997.4 768.7,997.4 774.7,997.4 780.7,997.4 780.7,991.4 786.7,991.4 786.7,985.4 792.6,985.4 792.6,979.4 792.6,973.5 798.6,973.5 798.6,967.5 798.6,961.5 804.6,961.5 804.6,955.5 804.6,949.5 810.6,949.5 810.6,943.6 816.6,943.6 816.6,937.6 816.6,931.6 822.5,931.6 822.5,925.6 822.5,919.6 828.5,919.6 828.5,913.7 828.5,907.7 834.5,907.7 834.5,901.7 834.5,895.7 840.5,895.7 840.5,889.7 840.5,883.8 846.5,883.8 846.5,877.8 846.5,871.8 846.5,865.8 852.4,865.8 852.4,859.8 852.4,853.9 852.4,847.9 852.4,841.9 858.4,841.9 858.4,835.9 858.4,829.9 858.4,824 858.4,818 864.4,818 864.4,812 864.4,806 864.4,800 864.4,794.1 864.4,788.1 870.4,788.1 870.4,782.1 870.4,776.1 870.4,770.1 876.4,770.1 876.4,764.2 876.4,758.2 882.3,758.2 882.3,752.2 888.3,752.2 888.3,746.2 888.3,740.2 888.3,734.3 894.3,734.3 894.3,728.3 894.3,722.3 900.3,722.3 900.3,716.3 900.3,710.3 906.3,710.3 906.3,704.4 906.3,698.4 912.2,698.4 912.2,692.4 918.2,692.4 918.2,686.4 924.2,686.4 924.2,680.4 930.2,680.4 936.2,680.4 936.2,686.4 942.1,686.4 942.1,692.4 942.1,698.4 942.1,704.4 948.1,704.4 948.1,710.3 948.1,716.3 948.1,722.3 954.1,722.3 954.1,728.3 954.1,734.3 954.1,740.2 960.1,740.2 960.1,746.2 960.1,752.2 966.1,752.2 966.1,758.2 972,758.2 972,764.2 978,764.2 978,770.1 984,770.1 984,776.1 990,776.1 990,782.1 990,788.1 996,788.1 996,794.1 1001.9,794.1 1001.9,788.1 1001.9,782.1 1007.9,782.1 1007.9,776.1 1007.9,770.1 1007.9,764.2 1013.9,764.2 1013.9,758.2 1013.9,752.2 1013.9,746.2 1013.9,740.2 1013.9,734.3 1019.9,734.3 1019.9,728.3 1019.9,722.3 1019.9,716.3 1019.9,710.3 1019.9,704.4 1019.9,698.4 1025.9,698.4 1025.9,692.4 1025.9,686.4 1025.9,680.4 1025.9,674.5 1025.9,668.5 1025.9,662.5 1025.9,656.5 1031.8,656.5 1031.8,650.5 1031.8,644.6 1031.8,638.6 1031.8,632.6 1031.8,626.6 1037.8,626.6 1037.8,620.6 1037.8,614.7 1043.8,614.7 1043.8,608.7 1049.8,608.7 1049.8,602.7 1055.8,596.7 1055.8,590.7 1061.7,590.7 1061.7,584.8 1067.7,584.8 1067.7,578.8 1073.7,578.8 1073.7,572.8 1079.7,572.8 1085.7,572.8 1085.7,566.8 1091.6,566.8 1097.6,566.8 1103.6,566.8 1109.6,566.8 1115.6,566.8 1115.6,572.8 1121.5,572.8 1127.5,572.8 1133.5,572.8 1133.5,566.8 1139.5,566.8 1139.5,560.8 1145.5,560.8 1145.5,554.9 1145.5,548.9 1151.4,548.9 1151.4,542.9 1157.4,542.9 1163.4,542.9 1169.4,542.9 1175.4,542.9 1181.3,542.9 1181.3,548.9 1187.3,548.9 1193.3,548.9 1199.3,548.9 1205.3,548.9 1205.3,542.9 1211.2,542.9 1217.2,542.9 1223.2,542.9 1223.2,548.9 1229.2,548.9 1229.2,554.9 1235.2,554.9 1235.2,560.8 1241.1,560.8 1241.1,566.8 1241.1,572.8 1247.1,572.8 1247.1,578.8 1253.1,578.8 1253.1,584.8 1259.1,584.8 1259.1,590.7 1265.1,590.7 1265.1,596.7 1271,596.7 1271,602.7 1277,602.7 1277,608.7 1283,608.7 1283,614.7 1289,614.7 1289,620.6 1295,620.6 1295,626.6 1300.9,626.6 1306.9,626.6 1306.9,632.6 1312.9,638.6 1312.9,644.6 1318.9,644.6 1318.9,650.5 1324.9,650.5 1324.9,656.5 1324.9,662.5 1324.9,668.5 1330.8,668.5 1330.8,674.5 1330.8,680.4 1336.8,680.4 1336.8,686.4 1336.8,692.4 1336.8,698.4 1342.8,698.4 1342.8,704.4 1342.8,710.3 1342.8,716.3 1348.8,716.3 1348.8,722.3 1348.8,728.3 1348.8,734.3 1354.8,734.3 1354.8,740.2 1354.8,746.2 1354.8,752.2 1360.7,752.2 1360.7,758.2 1360.7,764.2 1360.7,770.1 1360.7,776.1 1366.7,776.1 1366.7,782.1 1372.7,788.1 1372.7,794.1 1378.7,794.1 1378.7,800 1384.7,800 1384.7,806 1390.6,806 1390.6,812 1396.6,812 1396.6,818 1402.6,824 1402.6,829.9 1402.6,835.9 1408.6,835.9 1408.6,841.9 1408.6,847.9 1414.6,847.9 1414.6,853.9 1414.6,859.8 1420.5,859.8 1420.5,865.8 1420.5,871.8 1426.5,871.8 1426.5,877.8 1426.5,883.8 1426.5,889.7 1432.5,889.7 1432.5,895.7 1432.5,901.7 1432.5,907.7 1438.5,907.7 1438.5,913.7 1438.5,919.6 1438.5,925.6 1438.5,931.6 1438.5,937.6 1438.5,943.6 1444.5,943.6 1444.5,949.5 1444.5,955.5 1444.5,961.5 1450.4,961.5 1456.4,961.5 1456.4,967.5 1456.4,961.5 1462.4,961.5 1462.4,955.5 1462.4,949.5 1468.4,949.5 1474.4,949.5 1474.4,943.6 1480.3,943.6 1480.3,949.5 1486.3,949.5 1486.3,955.5 1492.3,955.5 1498.3,955.5 1498.3,949.5 1504.3,949.5 1504.3,943.6 1504.3,937.6 1510.2,937.6 1510.2,931.6 1510.2,925.6 1516.2,925.6 1516.2,919.6 1522.2,919.6 1528.2,919.6 1528.2,913.7 1534.2,913.7 1534.2,907.7 1540.1,907.7 1540.1,901.7 1540.1,895.7 1546.1,895.7 1546.1,889.7 1552.1,889.7 1558.1,889.7 1558.1,895.7 1564.1,895.7 1570,901.7 1570,907.7 1576,907.7 1576,913.7 1576,919.6 1582,919.6 1582,925.6 1588,925.6 1588,931.6 1588,937.6 1594,943.6 1594,949.5 1594,955.5 1599.9,955.5 1599.9,961.5 1599.9,967.5 1599.9,973.5 1599.9,979.4 1605.9,979.4 1605.9,985.4 1605.9,991.4 1605.9,997.4 1611.9,997.4 1611.9,1003.4 1611.9,1009.3 1611.9,1015.3 1617.9,1015.3 1617.9,1021.3 1617.9,1027.3 1617.9,1033.3 1623.9,1039.2 1623.9,1045.2 1623.9,1051.2 1623.9,1057.2 1629.8,1057.2 1629.8,1063.2 1629.8,1069.1 1629.8,1075.1 1629.8,1081.1 1629.8,1087.1 1635.8,1087.1 1635.8,1093.1 1635.8,1099 1635.8,1105 1635.8,1111 1635.8,1117 1641.8,1117 1641.8,1123 1641.8,1128.9 1641.8,1134.9 1641.8,1140.9 1641.8,1146.9 1641.8,1152.9 1641.8,1158.8 1641.8,1164.8 1647.8,1164.8 1647.8,1170.8 1647.8,1176.8 1647.8,1182.8 1647.8,1188.7 1647.8,1194.7 1647.8,1200.7 1647.8,1206.7 1653.8,1212.7 1653.8,1218.6 1653.8,1224.6 1653.8,1230.6 1653.8,1236.6 1653.8,1242.6 1653.8,1248.5 1659.7,1248.5 1659.7,1254.5 1659.7,1260.5 1659.7,1266.5 1659.7,1272.5 1665.7,1272.5 1665.7,1278.4 1665.7,1284.4 1665.7,1290.4 1671.7,1290.4 1671.7,1296.4 1671.7,1302.4 1677.7,1302.4 1677.7,1308.3 1683.7,1308.3 1683.7,1314.3 1689.6,1314.3 1689.6,1320.3 1695.6,1320.3 1695.6,1326.3 1701.6,1326.3 1701.6,1332.3 1707.6,1332.3 1713.6,1332.3 1713.6,1338.2 1719.5,1338.2 1725.5,1338.2 1731.5,1338.2 1731.5,1344.2 1737.5,1344.2 1743.5,1344.2 1749.4,1344.2 1749.4,1338.2 1755.4,1338.2 1761.4,1338.2 1761.4,1332.3 1767.4,1332.3 1767.4,1326.3 1767.4,1320.3 1773.4,1320.3 1773.4,1314.3 1773.4,1308.3 1773.4,1302.4 1779.3,1302.4 1779.3,1296.4 1779.3,1290.4 1779.3,1284.4 1779.3,1278.4 1779.3,1272.5 1779.3,1266.5 1779.3,1260.5 1779.3,1254.5 1785.3,1254.5 1785.3,1248.5 1785.3,1242.6 1785.3,1236.6 1785.3,1230.6 1785.3,1224.6 1785.3,1218.6 1785.3,1212.7 1785.3,1206.7 1791.3,1206.7 1791.3,1200.7 1791.3,1194.7 1791.3,1188.7 1791.3,1182.8 1791.3,1176.8 1791.3,1170.8 1791.3,1164.8 1791.3,1158.8 1791.3,1152.9 1791.3,1146.9 1797.3,1146.9 1797.3,1140.9 1797.3,1134.9 1797.3,1128.9 1797.3,1123 1797.3,1117 1797.3,1111 1797.3,1105 1797.3,1099 1803.3,1099 1803.3,1093.1 1803.3,1087.1 1803.3,1081.1 1803.3,1075.1 1803.3,1069.1 1803.3,1063.2 1809.2,1063.2 1809.2,1057.2 1809.2,1051.2 1809.2,1045.2 1809.2,1039.2 1809.2,1033.3 1815.2,1033.3 1815.2,1027.3 1815.2,1021.3 1815.2,1015.3 1815.2,1009.3 1815.2,1003.4 1815.2,997.4 1821.2,997.4 1821.2,991.4 1821.2,985.4 1821.2,979.4 1821.2,973.5 1821.2,967.5 1821.2,961.5 1821.2,955.5 1821.2,949.5 1821.2,943.6 1821.2,937.6 1821.2,931.6 1821.2,925.6 1821.2,919.6 1827.2,919.6 1827.2,913.7 1827.2,907.7 1827.2,901.7 1827.2,895.7 1827.2,889.7 1827.2,883.8 1827.2,877.8 1827.2,871.8 1827.2,865.8 1827.2,859.8 1833.2,859.8 1833.2,853.9 1833.2,847.9 1833.2,841.9 1833.2,835.9 1833.2,829.9 1833.2,824 1833.2,818 1833.2,812 1833.2,806 1833.2,800 1833.2,794.1 1833.2,788.1 1839.1,788.1 1839.1,782.1 1839.1,776.1 1839.1,770.1 1839.1,764.2 1839.1,758.2 1839.1,752.2 1839.1,746.2 1839.1,740.2 1845.1,740.2 1845.1,734.3 1845.1,728.3 1845.1,722.3 1845.1,716.3 1845.1,710.3 1845.1,704.4 1845.1,698.4 1845.1,692.4 1845.1,686.4 1845.1,680.4 1845.1,674.5 1845.1,668.5 1845.1,662.5 1845.1,656.5 1845.1,650.5 1845.1,644.6 1845.1,638.6 1845.1,632.6 1845.1,626.6 1845.1,620.6 1845.1,614.7 1851.1,614.7 1851.1,608.7 1851.1,602.7 1851.1,596.7 1851.1,590.7 1851.1,584.8 1851.1,578.8 1851.1,572.8 1851.1,566.8 1851.1,560.8 1857.1,560.8 1857.1,554.9 1857.1,560.8 1863.1,560.8 1863.1,566.8 1863.1,572.8 1863.1,578.8 1863.1,584.8 1863.1,590.7 1863.1,596.7 1863.1,602.7 1863.1,608.7 1863.1,614.7 1869,614.7 1869,620.6 1869,626.6 1869,632.6 1869,638.6 1869,644.6 1869,650.5 1869,656.5 1869,662.5 1869,668.5 1869,674.5 1869,680.4 1869,686.4 1869,692.4 1869,698.4 1869,704.4 1869,710.3 1869,716.3 1869,722.3 1869,728.3 1869,734.3 1869,740.2 1869,746.2 1875,746.2 1875,752.2 1875,758.2 1875,764.2 1875,770.1 1875,776.1 1875,782.1 1875,788.1 1875,794.1 1875,800 1875,806 1875,812 1875,818 1875,824 1875,829.9 1875,835.9 1875,841.9 1875,847.9 1875,853.9 1875,859.8 1875,865.8 1881,865.8 1881,871.8 1881,877.8 1887,877.8 1887,883.8 1887,877.8 1893,877.8 1893,871.8 1893,865.8 1898.9,865.8 1898.9,859.8 1898.9,853.9 1898.9,847.9 1898.9,841.9 1898.9,835.9 1898.9,829.9 1898.9,824 1898.9,818 1898.9,812 1898.9,806 1898.9,800 1898.9,794.1 1898.9,788.1 1904.9,788.1 1904.9,782.1 1904.9,776.1 1904.9,770.1 1904.9,764.2 1904.9,758.2 1904.9,752.2 1904.9,746.2 1904.9,740.2 1904.9,734.3 1904.9,728.3 1904.9,722.3 1904.9,716.3 1904.9,710.3 1904.9,704.4 1904.9,698.4 1910.9,698.4 1910.9,692.4 1910.9,686.4 1910.9,680.4 1910.9,674.5 1910.9,668.5 1910.9,662.5 1910.9,656.5 1910.9,650.5 1910.9,644.6 1916.9,644.6 1916.9,638.6 1916.9,632.6 1916.9,626.6 1916.9,620.6 1916.9,614.7 1916.9,608.7 1916.9,602.7 1916.9,596.7 1916.9,590.7 1922.9,590.7 1922.9,584.8 1928.8,584.8 1934.8,584.8 1940.8,584.8 1946.8,584.8 1946.8,578.8 1946.8,572.8 1952.8,572.8 1952.8,566.8 1952.8,560.8 1952.8,554.9 1958.7,554.9 1958.7,548.9 1958.7,542.9 1964.7,542.9 1970.7,542.9 1976.7,542.9 1982.7,542.9 1982.7,548.9 1982.7,554.9 1988.6,554.9 1988.6,560.8" fill="none" stroke="#00f" stroke-width="2.5"/>
<path d="M236.5,535.9l6.7,13.9h-13.4zM242.5,535.9l6.7,13.9h-13.4zM248.5,535.9l6.7,13.9h-13.4zM254.4,535.9l6.7,13.9h-13.4zM260.4,535.9l6.7,13.9h-13.4zM266.4,535.9l6.7,13.9h-13.4zM272.4,535.9l6.7,13.9h-13.4zM278.4,535.9l6.7,13.9h-13.4zM284.3,535.9l6.7,13.9h-13.4zM290.3,535.9l6.7,13.9h-13.4zM296.3,535.9l6.7,13.9h-13.4zM302.3,535.9l6.7,13.9h-13.4zM308.3,541.9l6.7,13.9h-13.4zM314.2,541.9l6.7,13.9h-13.4zM320.2,541.9l6.7,13.9h-13.4zM326.2,541.9l6.7,13.9h-13.4zM326.2,535.9l6.7,13.9h-13.4zM332.2,535.9l6.7,13.9h-13.4zM338.2,535.9l6.7,13.9h-13.4zM344.1,535.9l6.7,13.9h-13.4zM350.1,535.9l6.7,13.9h-13.4zM356.1,535.9l6.7,13.9h-13.4zM362.1,535.9l6.7,13.9h-13.4zM368.1,535.9l6.7,13.9h-13.4zM368.1,541.9l6.7,13.9h-13.4zM374,541.9l6.7,13.9h-13.4zM374,547.9l6.7,13.9h-13.4zM380,547.9l6.7,13.9h-13.4zM380,553.9l6.7,13.9h-13.4zM380,559.9l6.7,13.9h-13.4zM386,559.9l6.7,13.9h-13.4zM386,565.8l6.7,13.9h-13.4zM386,571.8l6.7,13.9h-13.4zM386,577.8l6.7,13.9h-13.4zM386,583.8l6.7,13.9h-13.4zM386,589.8l6.7,13.9h-13.4zM386,595.7l6.7,13.9h-13.4zM392,595.7l6.7,13.9h-13.4zM392,601.7l6.7,13.9h-13.4zM392,607.7l6.7,13.9h-13.4zM392,613.7l6.7,13.9h-13.4zM392,619.7l6.7,13.9h-13.4zM392,625.6l6.7,13.9h-13.4zM398,631.6l6.7,13.9h-13.4zM398,637.6l6.7,13.9h-13.4zM398,643.6l6.7,13.9h-13.4zM398,649.6l6.7,13.9h-13.4zM398,655.5l6.7,13.9h-13.4zM398,661.5l6.7,13.9h-13.4zM403.9,661.5l6.7,13.9h-13.4zM403.9,667.5l6.7,13.9h-13.4zM403.9,673.5l6.7,13.9h-13.4zM403.9,679.5l6.7,13.9h-13.4zM403.9,685.4l6.7,13.9h-13.4zM403.9,691.4l6.7,13.9h-13.4zM403.9,697.4l6.7,13.9h-13.4zM409.9,697.4l6.7,13.9h-13.4zM409.9,703.4l6.7,13.9h-13.4zM409.9,709.4l6.7,13.9h-13.4zM409.9,715.3l6.7,13.9h-13.4zM409.9,721.3l6.7,13.9h-13.4zM409.9,727.3l6.7,13.9h-13.4zM415.9,727.3l6.7,13.9h-13.4zM415.9,733.3l6.7,13.9h-13.4zM415.9,739.3l6.7,13.9h-13.4zM415.9,745.2l6.7,13.9h-13.4zM415.9,751.2l6.7,13.9h-13.4zM421.9,751.2l6.7,13.9h-13.4zM421.9,757.2l6.7,13.9h-13.4zM421.9,763.2l6.7,13.9h-13.4zM421.9,769.2l6.7,13.9h-13.4zM421.9,775.1l6.7,13.9h-13.4zM427.9,775.1l6.7,13.9h-13.4zM427.9,781.1l6.7,13.9h-13.4zM427.9,787.1l6.7,13.9h-13.4zM427.9,793.1l6.7,13.9h-13.4zM427.9,799.1l6.7,13.9h-13.4zM433.8,799.1l6.7,13.9h-13.4zM433.8,805l6.7,13.9h-13.4zM433.8,811l6.7,13.9h-13.4zM433.8,817l6.7,13.9h-13.4zM433.8,823l6.7,13.9h-13.4zM439.8,823l6.7,13.9h-13.4zM439.8,829l6.7,13.9h-13.4zM439.8,834.9l6.7,13.9h-13.4zM439.8,840.9l6.7,13.9h-13.4zM439.8,846.9l6.7,13.9h-13.4zM445.8,846.9l6.7,13.9h-13.4zM445.8,852.9l6.7,13.9h-13.4zM445.8,858.9l6.7,13.9h-13.4zM451.8,858.9l6.7,13.9h-13.4zM451.8,864.8l6.7,13.9h-13.4zM451.8,870.8l6.7,13.9h-13.4zM451.8,876.8l6.7,13.9h-13.4zM457.8,876.8l6.7,13.9h-13.4zM457.8,882.8l6.7,13.9h-13.4zM457.8,888.8l6.7,13.9h-13.4zM463.7,888.8l6.7,13.9h-13.4zM463.7,894.8l6.7,13.9h-13.4zM463.7,900.7l6.7,13.9h-13.4zM469.7,900.7l6.7,13.9h-13.4zM469.7,906.7l6.7,13.9h-13.4zM469.7,912.7l6.7,13.9h-13.4zM469.7,918.7l6.7,13.9h-13.4zM475.7,918.7l6.7,13.9h-13.4zM475.7,924.6l6.7,13.9h-13.4zM475.7,930.6l6.7,13.9h-13.4zM481.7,930.6l6.7,13.9h-13.4zM481.7,936.6l6.7,13.9h-13.4zM481.7,942.6l6.7,13.9h-13.4zM487.7,942.6l6.7,13.9h-13.4zM487.7,948.6l6.7,13.9h-13.4zM487.7,954.5l6.7,13.9h-13.4zM493.6,954.5l6.7,13.9h-13.4zM493.6,960.5l6.7,13.9h-13.4zM499.6,960.5l6.7,13.9h-13.4zM499.6,966.5l6.7,13.9h-13.4zM499.6,972.5l6.7,13.9h-13.4zM505.6,972.5l6.7,13.9h-13.4zM505.6,978.5l6.7,13.9h-13.4zM511.6,978.5l6.7,13.9h-13.4zM511.6,984.5l6.7,13.9h-13.4zM517.6,984.5l6.7,13.9h-13.4zM523.5,984.5l6.7,13.9h-13.4zM523.5,990.4l6.7,13.9h-13.4zM529.5,990.4l6.7,13.9h-13.4zM535.5,990.4l6.7,13.9h-13.4zM535.5,984.5l6.7,13.9h-13.4zM541.5,984.5l6.7,13.9h-13.4zM541.5,978.5l6.7,13.9h-13.4zM547.5,978.5l6.7,13.9h-13.4zM547.5,972.5l6.7,13.9h-13.4zM553.4,972.5l6.7,13.9h-13.4zM553.4,966.5l6.7,13.9h-13.4zM559.4,966.5l6.7,13.9h-13.4zM559.4,960.5l6.7,13.9h-13.4zM565.4,960.5l6.7,13.9h-13.4zM571.4,954.5l6.7,13.9h-13.4zM577.4,954.5l6.7,13.9h-13.4zM583.3,954.5l6.7,13.9h-13.4zM589.3,954.5l6.7,13.9h-13.4zM595.3,954.5l6.7,13.9h-13.4zM595.3,948.6l6.7,13.9h-13.4zM601.3,948.6l6.7,13.9h-13.4zM601.3,942.6l6.7,13.9h-13.4zM607.3,942.6l6.7,13.9h-13.4zM607.3,936.6l6.7,13.9h-13.4zM607.3,930.6l6.7,13.9h-13.4zM613.2,930.6l6.7,13.9h-13.4zM613.2,924.6l6.7,13.9h-13.4zM613.2,918.7l6.7,13.9h-13.4zM619.2,918.7l6.7,13.9h-13.4zM619.2,912.7l6.7,13.9h-13.4zM625.2,912.7l6.7,13.9h-13.4zM625.2,906.7l6.7,13.9h-13.4zM631.2,906.7l6.7,13.9h-13.4zM631.2,900.7l6.7,13.9h-13.4zM637.2,900.7l6.7,13.9h-13.4zM637.2,894.8l6.7,13.9h-13.4zM643.1,894.8l6.7,13.9h-13.4zM649.1,894.8l6.7,13.9h-13.4zM649.1,888.8l6.7,13.9h-13.4zM655.1,888.8l6.7,13.9h-13.4zM655.1,882.8l6.7,13.9h-13.4zM661.1,882.8l6.7,13.9h-13.4zM661.1,876.8l6.7,13.9h-13.4zM667.1,876.8l6.7,13.9h-13.4zM673,876.8l6.7,13.9h-13.4zM679,876.8l6.7,13.9h-13.4zM685,876.8l6.7,13.9h-13.4zM685,882.8l6.7,13.9h-13.4zM691,882.8l6.7,13.9h-13.4zM691,888.8l6.7,13.9h-13.4zM691,894.8l6.7,13.9h-13.4zM697,894.8l6.7,13.9h-13.4zM697,900.7l6.7,13.9h-13.4zM697,906.7l6.7,13.9h-13.4zM697,912.7l6.7,13.9h-13.4zM702.9,912.7l6.7,13.9h-13.4zM702.9,918.7l6.7,13.9h-13.4zM702.9,924.6l6.7,13.9h-13.4zM702.9,930.6l6.7,13.9h-13.4zM708.9,930.6l6.7,13.9h-13.4zM708.9,936.6l6.7,13.9h-13.4zM708.9,942.6l6.7,13.9h-13.4zM708.9,948.6l6.7,13.9h-13.4zM714.9,948.6l6.7,13.9h-13.4zM714.9,954.5l6.7,13.9h-13.4zM714.9,960.5l6.7,13.9h-13.4zM714.9,966.5l6.7,13.9h-13.4zM720.9,966.5l6.7,13.9h-13.4zM720.9,972.5l6.7,13.9h-13.4zM726.9,972.5l6.7,13.9h-13.4zM726.9,978.5l6.7,13.9h-13.4zM732.8,978.5l6.7,13.9h-13.4zM738.8,984.5l6.7,13.9h-13.4zM744.8,984.5l6.7,13.9h-13.4zM750.8,984.5l6.7,13.9h-13.4zM756.8,984.5l6.7,13.9h-13.4zM762.7,984.5l6.7,13.9h-13.4zM762.7,990.4l6.7,13.9h-13.4zM768.7,990.4l6.7,13.9h-13.4zM774.7,990.4l6.7,13.9h-13.4zM780.7,990.4l6.7,13.9h-13.4zM780.7,984.5l6.7,13.9h-13.4zM786.7,984.5l6.7,13.9h-13.4zM786.7,978.5l6.7,13.9h-13.4zM792.6,978.5l6.7,13.9h-13.4zM792.6,972.5l6.7,13.9h-13.4zM792.6,966.5l6.7,13.9h-13.4zM798.6,966.5l6.7,13.9h-13.4zM798.6,960.5l6.7,13.9h-13.4zM798.6,954.5l6.7,13.9h-13.4zM804.6,954.5l6.7,13.9h-13.4zM804.6,948.6l6.7,13.9h-13.4zM804.6,942.6l6.7,13.9h-13.4zM810.6,942.6l6.7,13.9h-13.4zM810.6,936.6l6.7,13.9h-13.4zM816.6,936.6l6.7,13.9h-13.4zM816.6,930.6l6.7,13.9h-13.4zM816.6,924.6l6.7,13.9h-13.4zM822.5,924.6l6.7,13.9h-13.4zM822.5,918.7l6.7,13.9h-13.4zM822.5,912.7l6.7,13.9h-13.4zM828.5,912.7l6.7,13.9h-13.4zM828.5,906.7l6.7,13.9h-13.4zM828.5,900.7l6.7,13.9h-13.4zM834.5,900.7l6.7,13.9h-13.4zM834.5,894.8l6.7,13.9h-13.4zM834.5,888.8l6.7,13.9h-13.4zM840.5,888.8l6.7,13.9h-13.4zM840.5,882.8l6.7,13.9h-13.4zM840.5,876.8l6.7,13.9h-13.4zM846.5,876.8l6.7,13.9h-13.4zM846.5,870.8l6.7,13.9h-13.4zM846.5,864.8l6.7,13.9h-13.4zM846.5,858.9l6.7,13.9h-13.4zM852.4,858.9l6.7,13.9h-13.4zM852.4,852.9l6.7,13.9h-13.4zM852.4,846.9l6.7,13.9h-13.4zM852.4,840.9l6.7,13.9h-13.4zM852.4,834.9l6.7,13.9h-13.4zM858.4,834.9l6.7,13.9h-13.4zM858.4,829l6.7,13.9h-13.4zM858.4,823l6.7,13.9h-13.4zM858.4,817l6.7,13.9h-13.4zM858.4,811l6.7,13.9h-13.4zM864.4,811l6.7,13.9h-13.4zM864.4,805l6.7,13.9h-13.4zM864.4,799.1l6.7,13.9h-13.4zM864.4,793.1l6.7,13.9h-13.4zM864.4,787.1l6.7,13.9h-13.4zM864.4,781.1l6.7,13.9h-13.4zM870.4,781.1l6.7,13.9h-13.4zM870.4,775.1l6.7,13.9h-13.4zM870.4,769.2l6.7,13.9h-13.4zM870.4,763.2l6.7,13.9h-13.4zM876.4,763.2l6.7,13.9h-13.4zM876.4,757.2l6.7,13.9h-13.4zM876.4,751.2l6.7,13.9h-13.4zM882.3,751.2l6.7,13.9h-13.4zM882.3,745.2l6.7,13.9h-13.4zM888.3,745.2l6.7,13.9h-13.4zM888.3,739.3l6.7,13.9h-13.4zM888.3,733.3l6.7,13.9h-13.4zM888.3,727.3l6.7,13.9h-13.4zM894.3,727.3l6.7,13.9h-13.4zM894.3,721.3l6.7,13.9h-13.4zM894.3,715.3l6.7,13.9h-13.4zM900.3,715.3l6.7,13.9h-13.4zM900.3,709.4l6.7,13.9h-13.4zM900.3,703.4l6.7,13.9h-13.4zM906.3,703.4l6.7,13.9h-13.4zM906.3,697.4l6.7,13.9h-13.4zM906.3,691.4l6.7,13.9h-13.4zM912.2,691.4l6.7,13.9h-13.4zM912.2,685.4l6.7,13.9h-13.4zM918.2,685.4l6.7,13.9h-13.4zM918.2,679.5l6.7,13.9h-13.4zM924.2,679.5l6.7,13.9h-13.4zM924.2,673.5l6.7,13.9h-13.4zM930.2,673.5l6.7,13.9h-13.4zM936.2,673.5l6.7,13.9h-13.4zM936.2,679.5l6.7,13.9h-13.4zM942.1,679.5l6.7,13.9h-13.4zM942.1,685.4l6.7,13.9h-13.4zM942.1,691.4l6.7,13.9h-13.4zM942.1,697.4l6.7,13.9h-13.4zM948.1,697.4l6.7,13.9h-13.4zM948.1,703.4l6.7,13.9h-13.4zM948.1,709.4l6.7,13.9h-13.4zM948.1,715.3l6.7,13.9h-13.4zM954.1,715.3l6.7,13.9h-13.4zM954.1,721.3l6.7,13.9h-13.4zM954.1,727.3l6.7,13.9h-13.4zM954.1,733.3l6.7,13.9h-13.4zM960.1,733.3l6.7,13.9h-13.4zM960.1,739.3l6.7,13.9h-13.4zM960.1,745.2l6.7,13.9h-13.4zM966.1,745.2l6.7,13.9h-13.4zM966.1,751.2l6.7,13.9h-13.4zM972,751.2l6.7,13.9h-13.4zM972,757.2l6.7,13.9h-13.4zM978,757.2l6.7,13.9h-13.4zM978,763.2l6.7,13.9h-13.4zM984,763.2l6.7,13.9h-13.4zM984,769.2l6.7,13.9h-13.4zM990,769.2l6.7,13.9h-13.4zM990,775.1l6.7,13.9h-13.4zM990,781.1l6.7,13.9h-13.4zM996,781.1l6.7,13.9h-13.4zM996,787.1l6.7,13.9h-13.4zM1001.9,787.1l6.7,13.9h-13.4zM1001.9,781.1l6.7,13.9h-13.4zM1001.9,775.1l6.7,13.9h-13.4zM1007.9,775.1l6.7,13.9h-13.4zM1007.9,769.2l6.7,13.9h-13.4zM1007.9,763.2l6.7,13.9h-13.4zM1007.9,757.2l6.7,13.9h-13.4zM1013.9,757.2l6.7,13.9h-13.4zM1013.9,751.2l6.7,13.9h-13.4zM1013.9,745.2l6.7,13.9h-13.4zM1013.9,739.3l6.7,13.9h-13.4zM1013.9,733.3l6.7,13.9h-13.4zM1013.9,727.3l6.7,13.9h-13.4zM1019.9,727.3l6.7,13.9h-13.4zM1019.9,721.3l6.7,13.9h-13.4zM1019.9,715.3l6.7,13.9h-13.4zM1019.9,709.4l6.7,13.9h-13.4zM1019.9,703.4l6.7,13.9h-13.4zM1019.9,697.4l6.7,13.9h-13.4zM1019.9,691.4l6.7,13.9h-13.4zM1025.9,691.4l6.7,13.9h-13.4zM1025.9,685.4l6.7,13.9h-13.4zM1025.9,679.5l6.7,13.9h-13.4zM1025.9,673.5l6.7,13.9h-13.4zM1025.9,667.5l6.7,13.9h-13.4zM1025.9,661.5l6.7,13.9h-13.4zM1025.9,655.5l6.7,13.9h-13.4zM1025.9,649.6l6.7,13.9h-13.4zM1031.8,649.6l6.7,13.9h-13.4zM1031.8,643.6l6.7,13.9h-13.4zM1031.8,637.6l6.7,13.9h-13.4zM1031.8,631.6l6.7,13.9h-13.4zM1031.8,625.6l6.7,13.9h-13.4zM1031.8,619.7l6.7,13.9h-13.4zM1037.8,619.7l6.7,13.9h-13.4zM1037.8,613.7l6.7,13.9h-13.4zM1037.8,607.7l6.7,13.9h-13.4zM1043.8,607.7l6.7,13.9h-13.4zM1043.8,601.7l6.7,13.9h-13.4zM1049.8,601.7l6.7,13.9h-13.4zM1049.8,595.7l6.7,13.9h-13.4zM1055.8,589.8l6.7,13.9h-13.4zM1055.8,583.8l6.7,13.9h-13.4zM1061.7,583.8l6.7,13.9h-13.4zM1061.7,577.8l6.7,13.9h-13.4zM1067.7,577.8l6.7,13.9h-13.4zM1067.7,571.8l6.7,13.9h-13.4zM1073.7,571.8l6.7,13.9h-13.4zM1073.7,565.8l6.7,13.9h-13.4zM1079.7,565.8l6.7,13.9h-13.4zM1085.7,565.8l6.7,13.9h-13.4zM1085.7,559.9l6.7,13.9h-13.4zM1091.6,559.9l6.7,13.9h-13.4zM1097.6,559.9l6.7,13.9h-13.4zM1103.6,559.9l6.7,13.9h-13.4zM1109.6,559.9l6.7,13.9h-13.4zM1115.6,559.9l6.7,13.9h-13.4zM1115.6,565.8l6.7,13.9h-13.4zM1121.5,565.8l6.7,13.9h-13.4zM1127.5,565.8l6.7,13.9h-13.4zM1133.5,565.8l6.7,13.9h-13.4zM1133.5,559.9l6.7,13.9h-13.4zM1139.5,559.9l6.7,13.9h-13.4zM1139.5,553.9l6.7,13.9h-13.4zM1145.5,553.9l6.7,13.9h-13.4zM1145.5,547.9l6.7,13.9h-13.4zM1145.5,541.9l6.7,13.9h-13.4zM1151.4,541.9l6.7,13.9h-13.4zM1151.4,535.9l6.7,13.9h-13.4zM1157.4,535.9l6.7,13.9h-13.4zM1163.4,535.9l6.7,13.9h-13.4zM1169.4,535.9l6.7,13.9h-13.4zM1175.4,535.9l6.7,13.9h-13.4zM1181.3,535.9l6.7,13.9h-13.4zM1181.3,541.9l6.7,13.9h-13.4zM1187.3,541.9l6.7,13.9h-13.4zM1193.3,541.9l6.7,13.9h-13.4zM1199.3,541.9l6.7,13.9h-13.4zM1205.3,541.9l6.7,13.9h-13.4zM1205.3,535.9l6.7,13.9h-13.4zM1211.2,535.9l6.7,13.9h-13.4zM1217.2,535.9l6.7,13.9h-13.4zM1223.2,535.9l6.7,13.9h-13.4zM1223.2,541.9l6.7,13.9h-13.4zM1229.2,541.9l6.7,13.9h-13.4zM1229.2,547.9l6.7,13.9h-13.4zM1235.2,547.9l6.7,13.9h-13.4zM1235.2,553.9l6.7,13.9h-13.4zM1241.1,553.9l6.7,13.9h-13.4zM1241.1,559.9l6.7,13.9h-13.4zM1241.1,565.8l6.7,13.9h-13.4zM1247.1,565.8l6.7,13.9h-13.4zM1247.1,571.8l6.7,13.9h-13.4zM1253.1,571.8l6.7,13.9h-13.4zM1253.1,577.8l6.7,13.9h-13.4zM1259.1,577.8l6.7,13.9h-13.4zM1259.1,583.8l6.7,13.9h-13.4zM1265.1,583.8l6.7,13.9h-13.4zM1265.1,589.8l6.7,13.9h-13.4zM1271,589.8l6.7,13.9h-13.4zM1271,595.7l6.7,13.9h-13.4zM1277,595.7l6.7,13.9h-13.4zM1277,601.7l6.7,13.9h-13.4zM1283,601.7l6.7,13.9h-13.4zM1283,607.7l6.7,13.9h-13.4zM1289,607.7l6.7,13.9h-13.4zM1289,613.7l6.7,13.9h-13.4zM1295,613.7l6.7,13.9h-13.4zM1295,619.7l6.7,13.9h-13.4zM1300.9,619.7l6.7,13.9h-13.4zM1306.9,619.7l6.7,13.9h-13.4zM1306.9,625.6l6.7,13.9h-13.4zM1312.9,631.6l6.7,13.9h-13.4zM1312.9,637.6l6.7,13.9h-13.4zM1318.9,637.6l6.7,13.9h-13.4zM1318.9,643.6l6.7,13.9h-13.4zM1324.9,643.6l6.7,13.9h-13.4zM1324.9,649.6l6.7,13.9h-13.4zM1324.9,655.5l6.7,13.9h-13.4zM1324.9,661.5l6.7,13.9h-13.4zM1330.8,661.5l6.7,13.9h-13.4zM1330.8,667.5l6.7,13.9h-13.4zM1330.8,673.5l6.7,13.9h-13.4zM1336.8,673.5l6.7,13.9h-13.4zM1336.8,679.5l6.7,13.9h-13.4zM1336.8,685.4l6.7,13.9h-13.4zM1336.8,691.4l6.7,13.9h-13.4zM1342.8,691.4l6.7,13.9h-13.4zM1342.8,697.4l6.7,13.9h-13.4zM1342.8,703.4l6.7,13.9h-13.4zM1342.8,709.4l6.7,13.9h-13.4zM1348.8,709.4l6.7,13.9h-13.4zM1348.8,715.3l6.7,13.9h-13.4zM1348.8,721.3l6.7,13.9h-13.4zM1348.8,727.3l6.7,13.9h-13.4zM1354.8,727.3l6.7,13.9h-13.4zM1354.8,733.3l6.7,13.9h-13.4zM1354.8,739.3l6.7,13.9h-13.4zM1354.8,745.2l6.7,13.9h-13.4zM1360.7,745.2l6.7,13.9h-13.4zM1360.7,751.2l6.7,13.9h-13.4zM1360.7,757.2l6.7,13.9h-13.4zM1360.7,763.2l6.7,13.9h-13.4zM1360.7,769.2l6.7,13.9h-13.4zM1366.7,769.2l6.7,13.9h-13.4zM1366.7,775.1l6.7,13.9h-13.4zM1372.7,781.1l6.7,13.9h-13.4zM1372.7,787.1l6.7,13.9h-13.4zM1378.7,787.1l6.7,13.9h-13.4zM1378.7,793.1l6.7,13.9h-13.4zM1384.7,793.1l6.7,13.9h-13.4zM1384.7,799.1l6.7,13.9h-13.4zM1390.6,799.1l6.7,13.9h-13.4zM1390.6,805l6.7,13.9h-13.4zM1396.6,805l6.7,13.9h-13.4zM1396.6,811l6.7,13.9h-13.4zM1402.6,817l6.7,13.9h-13.4zM1402.6,823l6.7,13.9h-13.4zM1402.6,829l6.7,13.9h-13.4zM1408.6,829l6.7,13.9h-13.4zM1408.6,834.9l6.7,13.9h-13.4zM1408.6,840.9l6.7,13.9h-13.4zM1414.6,840.9l6.7,13.9h-13.4zM1414.6,846.9l6.7,13.9h-13.4zM1414.6,852.9l6.7,13.9h-13.4zM1420.5,852.9l6.7,13.9h-13.4zM1420.5,858.9l6.7,13.9h-13.4zM1420.5,864.8l6.7,13.9h-13.4zM1426.5,864.8l6.7,13.9h-13.4zM1426.5,870.8l6.7,13.9h-13.4zM1426.5,876.8l6.7,13.9h-13.4zM1426.5,882.8l6.7,13.9h-13.4zM1432.5,882.8l6.7,13.9h-13.4zM1432.5,888.8l6.7,13.9h-13.4zM1432.5,894.8l6.7,13.9h-13.4zM1432.5,900.7l6.7,13.9h-13.4zM1438.5,900.7l6.7,13.9h-13.4zM1438.5,906.7l6.7,13.9h-13.4zM1438.5,912.7l6.7,13.9h-13.4zM1438.5,918.7l6.7,13.9h-13.4zM1438.5,924.6l6.7,13.9h-13.4zM1438.5,930.6l6.7,13.9h-13.4zM1438.5,936.6l6.7,13.9h-13.4zM1444.5,936.6l6.7,13.9h-13.4zM1444.5,942.6l6.7,13.9h-13.4zM1444.5,948.6l6.7,13.9h-13.4zM1444.5,954.5l6.7,13.9h-13.4zM1450.4,954.5l6.7,13.9h-13.4zM1456.4,954.5l6.7,13.9h-13.4zM1456.4,960.5l6.7,13.9h-13.4zM1456.4,954.5l6.7,13.9h-13.4zM1462.4,954.5l6.7,13.9h-13.4zM1462.4,948.6l6.7,13.9h-13.4zM1462.4,942.6l6.7,13.9h-13.4zM1468.4,942.6l6.7,13.9h-13.4zM1474.4,942.6l6.7,13.9h-13.4zM1474.4,936.6l6.7,13.9h-13.4zM1480.3,936.6l6.7,13.9h-13.4zM1480.3,942.6l6.7,13.9h-13.4zM1486.3,942.6l6.7,13.9h-13.4zM1486.3,948.6l6.7,13.9h-13.4zM1492.3,948.6l6.7,13.9h-13.4zM1498.3,948.6l6.7,13.9h-13.4zM1498.3,942.6l6.7,13.9h-13.4zM1504.3,942.6l6.7,13.9h-13.4zM1504.3,936.6l6.7,13.9h-13.4zM1504.3,930.6l6.7,13.9h-13.4zM1510.2,930.6l6.7,13.9h-13.4zM1510.2,924.6l6.7,13.9h-13.4zM1510.2,918.7l6.7,13.9h-13.4zM1516.2,918.7l6.7,13.9h-13.4zM1516.2,912.7l6.7,13.9h-13.4zM1522.2,912.7l6.7,13.9h-13.4zM1528.2,912.7l6.7,13.9h-13.4zM1528.2,906.7l6.7,13.9h-13.4zM1534.2,906.7l6.7,13.9h-13.4zM1534.2,900.7l6.7,13.9h-13.4zM1540.1,900.7l6.7,13.9h-13.4zM1540.1,894.8l6.7,13.9h-13.4zM1540.1,888.8l6.7,13.9h-13.4zM1546.1,888.8l6.7,13.9h-13.4zM1546.1,882.8l6.7,13.9h-13.4zM1552.1,882.8l6.7,13.9h-13.4zM1558.1,882.8l6.7,13.9h-13.4zM1558.1,888.8l6.7,13.9h-13.4zM1564.1,888.8l6.7,13.9h-13.4zM1570,894.8l6.7,13.9h-13.4zM1570,900.7l6.7,13.9h-13.4zM1576,900.7l6.7,13.9h-13.4zM1576,906.7l6.7,13.9h-13.4zM1576,912.7l6.7,13.9h-13.4zM1582,912.7l6.7,13.9h-13.4zM1582,918.7l6.7,13.9h-13.4zM1588,918.7l6.7,13.9h-13.4zM1588,924.6l6.7,13.9h-13.4zM1588,930.6l6.7,13.9h-13.4zM1594,936.6l6.7,13.9h-13.4zM1594,942.6l6.7,13.9h-13.4zM1594,948.6l6.7,13.9h-13.4zM1599.9,948.6l6.7,13.9h-13.4zM1599.9,954.5l6.7,13.9h-13.4zM1599.9,960.5l6.7,13.9h-13.4zM1599.9,966.5l6.7,13.9h-13.4zM1599.9,972.5l6.7,13.9h-13.4zM1605.9,972.5l6.7,13.9h-13.4zM1605.9,978.5l6.7,13.9h-13.4zM1605.9,984.5l6.7,13.9h-13.4zM1605.9,990.4l6.7,13.9h-13.4zM1611.9,990.4l6.7,13.9h-13.4zM1611.9,996.4l6.7,13.9h-13.4zM1611.9,1002.4l6.7,13.9h-13.4zM1611.9,1008.4l6.7,13.9h-13.4zM1617.9,1008.4l6.7,13.9h-13.4zM1617.9,1014.3l6.7,13.9h-13.4zM1617.9,1020.3l6.7,13.9h-13.4zM1617.9,1026.3l6.7,13.9h-13.4zM1623.9,1032.3l6.7,13.9h-13.4zM1623.9,1038.3l6.7,13.9h-13.4zM1623.9,1044.2l6.7,13.9h-13.4zM1623.9,1050.2l6.7,13.9h-13.4zM1629.8,1050.2l6.7,13.9h-13.4zM1629.8,1056.2l6.7,13.9h-13.4zM1629.8,1062.2l6.7,13.9h-13.4zM1629.8,1068.2l6.7,13.9h-13.4zM1629.8,1074.1l6.7,13.9h-13.4zM1629.8,1080.1l6.7,13.9h-13.4zM1635.8,1080.1l6.7,13.9h-13.4zM1635.8,1086.1l6.7,13.9h-13.4zM1635.8,1092.1l6.7,13.9h-13.4zM1635.8,1098.1l6.7,13.9h-13.4zM1635.8,1104l6.7,13.9h-13.4zM1635.8,1110l6.7,13.9h-13.4zM1641.8,1110l6.7,13.9h-13.4zM1641.8,1116l6.7,13.9h-13.4zM1641.8,1122l6.7,13.9h-13.4zM1641.8,1128l6.7,13.9h-13.4zM1641.8,1134l6.7,13.9h-13.4zM1641.8,1139.9l6.7,13.9h-13.4zM1641.8,1145.9l6.7,13.9h-13.4zM1641.8,1151.9l6.7,13.9h-13.4zM1641.8,1157.9l6.7,13.9h-13.4zM1647.8,1157.9l6.7,13.9h-13.4zM1647.8,1163.9l6.7,13.9h-13.4zM1647.8,1169.8l6.7,13.9h-13.4zM1647.8,1175.8l6.7,13.9h-13.4zM1647.8,1181.8l6.7,13.9h-13.4zM1647.8,1187.8l6.7,13.9h-13.4zM1647.8,1193.8l6.7,13.9h-13.4zM1647.8,1199.7l6.7,13.9h-13.4zM1653.8,1205.7l6.7,13.9h-13.4zM1653.8,1211.7l6.7,13.9h-13.4zM1653.8,1217.7l6.7,13.9h-13.4zM1653.8,1223.6l6.7,13.9h-13.4zM1653.8,1229.6l6.7,13.9h-13.4zM1653.8,1235.6l6.7,13.9h-13.4zM1653.8,1241.6l6.7,13.9h-13.4zM1659.7,1241.6l6.7,13.9h-13.4zM1659.7,1247.6l6.7,13.9h-13.4zM1659.7,1253.5l6.7,13.9h-13.4zM1659.7,1259.5l6.7,13.9h-13.4zM1659.7,1265.5l6.7,13.9h-13.4zM1665.7,1265.5l6.7,13.9h-13.4zM1665.7,1271.5l6.7,13.9h-13.4zM1665.7,1277.5l6.7,13.9h-13.4zM1665.7,1283.5l6.7,13.9h-13.4zM1671.7,1283.5l6.7,13.9h-13.4zM1671.7,1289.4l6.7,13.9h-13.4zM1671.7,1295.4l6.7,13.9h-13.4zM1677.7,1295.4l6.7,13.9h-13.4zM1677.7,1301.4l6.7,13.9h-13.4zM1683.7,1301.4l6.7,13.9h-13.4zM1683.7,1307.4l6.7,13.9h-13.4zM1689.6,1307.4l6.7,13.9h-13.4zM1689.6,1313.4l6.7,13.9h-13.4zM1695.6,1313.4l6.7,13.9h-13.4zM1695.6,1319.3l6.7,13.9h-13.4zM1701.6,1319.3l6.7,13.9h-13.4zM1701.6,1325.3l6.7,13.9h-13.4zM1707.6,1325.3l6.7,13.9h-13.4zM1713.6,1325.3l6.7,13.9h-13.4zM1713.6,1331.3l6.7,13.9h-13.4zM1719.5,1331.3l6.7,13.9h-13.4zM1725.5,1331.3l6.7,13.9h-13.4zM1731.5,1331.3l6.7,13.9h-13.4zM1731.5,1337.3l6.7,13.9h-13.4zM1737.5,1337.3l6.7,13.9h-13.4zM1743.5,1337.3l6.7,13.9h-13.4zM1749.4,1337.3l6.7,13.9h-13.4zM1749.4,1331.3l6.7,13.9h-13.4zM1755.4,1331.3l6.7,13.9h-13.4zM1761.4,1331.3l6.7,13.9h-13.4zM1761.4,1325.3l6.7,13.9h-13.4zM1767.4,1325.3l6.7,13.9h-13.4zM1767.4,1319.3l6.7,13.9h-13.4zM1767.4,1313.4l6.7,13.9h-13.4zM1773.4,1313.4l6.7,13.9h-13.4zM1773.4,1307.4l6.7,13.9h-13.4zM1773.4,1301.4l6.7,13.9h-13.4zM1773.4,1295.4l6.7,13.9h-13.4zM1779.3,1295.4l6.7,13.9h-13.4zM1779.3,1289.4l6.7,13.9h-13.4zM1779.3,1283.5l6.7,13.9h-13.4zM1779.3,1277.5l6.7,13.9h-13.4zM1779.3,1271.5l6.7,13.9h-13.4zM1779.3,1265.5l6.7,13.9h-13.4zM1779.3,1259.5l6.7,13.9h-13.4zM1779.3,1253.5l6.7,13.9h-13.4zM1779.3,1247.6l6.7,13.9h-13.4zM1785.3,1247.6l6.7,13.9h-13.4zM1785.3,1241.6l6.7,13.9h-13.4zM1785.3,1235.6l6.7,13.9h-13.4zM1785.3,1229.6l6.7,13.9h-13.4zM1785.3,1223.6l6.7,13.9h-13.4zM1785.3,1217.7l6.7,13.9h-13.4zM1785.3,1211.7l6.7,13.9h-13.4zM1785.3,1205.7l6.7,13.9h-13.4zM1785.3,1199.7l6.7,13.9h-13.4zM1791.3,1199.7l6.7,13.9h-13.4zM1791.3,1193.8l6.7,13.9h-13.4zM1791.3,1187.8l6.7,13.9h-13.4zM1791.3,1181.8l6.7,13.9h-13.4zM1791.3,1175.8l6.7,13.9h-13.4zM1791.3,1169.8l6.7,13.9h-13.4zM1791.3,1163.9l6.7,13.9h-13.4zM1791.3,1157.9l6.7,13.9h-13.4zM1791.3,1151.9l6.7,13.9h-13.4zM1791.3,1145.9l6.7,13.9h-13.4zM1791.3,1139.9l6.7,13.9h-13.4zM1797.3,1139.9l6.7,13.9h-13.4zM1797.3,1134l6.7,13.9h-13.4zM1797.3,1128l6.7,13.9h-13.4zM1797.3,1122l6.7,13.9h-13.4zM1797.3,1116l6.7,13.9h-13.4zM1797.3,1110l6.7,13.9h-13.4zM1797.3,1104l6.7,13.9h-13.4zM1797.3,1098.1l6.7,13.9h-13.4zM1797.3,1092.1l6.7,13.9h-13.4zM1803.3,1092.1l6.7,13.9h-13.4zM1803.3,1086.1l6.7,13.9h-13.4zM1803.3,1080.1l6.7,13.9h-13.4zM1803.3,1074.1l6.7,13.9h-13.4zM1803.3,1068.2l6.7,13.9h-13.4zM1803.3,1062.2l6.7,13.9h-13.4zM1803.3,1056.2l6.7,13.9h-13.4zM1809.2,1056.2l6.7,13.9h-13.4zM1809.2,1050.2l6.7,13.9h-13.4zM1809.2,1044.2l6.7,13.9h-13.4zM1809.2,1038.3l6.7,13.9h-13.4zM1809.2,1032.3l6.7,13.9h-13.4zM1809.2,1026.3l6.7,13.9h-13.4zM1815.2,1026.3l6.7,13.9h-13.4zM1815.2,1020.3l6.7,13.9h-13.4zM1815.2,1014.3l6.7,13.9h-13.4zM1815.2,1008.4l6.7,13.9h-13.4zM1815.2,1002.4l6.7,13.9h-13.4zM1815.2,996.4l6.7,13.9h-13.4zM1815.2,990.4l6.7,13.9h-13.4zM1821.2,990.4l6.7,13.9h-13.4zM1821.2,984.5l6.7,13.9h-13.4zM1821.2,978.5l6.7,13.9h-13.4zM1821.2,972.5l6.7,13.9h-13.4zM1821.2,966.5l6.7,13.9h-13.4zM1821.2,960.5l6.7,13.9h-13.4zM1821.2,954.5l6.7,13.9h-13.4zM1821.2,948.6l6.7,13.9h-13.4zM1821.2,942.6l6.7,13.9h-13.4zM1821.2,936.6l6.7,13.9h-13.4zM1821.2,930.6l6.7,13.9h-13.4zM1821.2,924.6l6.7,13.9h-13.4zM1821.2,918.7l6.7,13.9h-13.4zM1821.2,912.7l6.7,13.9h-13.4zM1827.2,912.7l6.7,13.9h-13.4zM1827.2,906.7l6.7,13.9h-13.4zM1827.2,900.7l6.7,13.9h-13.4zM1827.2,894.8l6.7,13.9h-13.4zM1827.2,888.8l6.7,13.9h-13.4zM1827.2,882.8l6.7,13.9h-13.4zM1827.2,876.8l6.7,13.9h-13.4zM1827.2,870.8l6.7,13.9h-13.4zM1827.2,864.8l6.7,13.9h-13.4zM1827.2,858.9l6.7,13.9h-13.4zM1827.2,852.9l6.7,13.9h-13.4zM1833.2,852.9l6.7,13.9h-13.4zM1833.2,846.9l6.7,13.9h-13.4zM1833.2,840.9l6.7,13.9h-13.4zM1833.2,834.9l6.7,13.9h-13.4zM1833.2,829l6.7,13.9h-13.4zM1833.2,823l6.7,13.9h-13.4zM1833.2,817l6.7,13.9h-13.4zM1833.2,811l6.7,13.9h-13.4zM1833.2,805l6.7,13.9h-13.4zM1833.2,799.1l6.7,13.9h-13.4zM1833.2,793.1l6.7,13.9h-13.4zM1833.2,787.1l6.7,13.9h-13.4zM1833.2,781.1l6.7,13.9h-13.4zM1839.1,781.1l6.7,13.9h-13.4zM1839.1,775.1l6.7,13.9h-13.4zM1839.1,769.2l6.7,13.9h-13.4zM1839.1,763.2l6.7,13.9h-13.4zM1839.1,757.2l6.7,13.9h-13.4zM1839.1,751.2l6.7,13.9h-13.4zM1839.1,745.2l6.7,13.9h-13.4zM1839.1,739.3l6.7,13.9h-13.4zM1839.1,733.3l6.7,13.9h-13.4zM1845.1,733.3l6.7,13.9h-13.4zM1845.1,727.3l6.7,13.9h-13.4zM1845.1,721.3l6.7,13.9h-13.4zM1845.1,715.3l6.7,13.9h-13.4zM1845.1,709.4l6.7,13.9h-13.4zM1845.1,703.4l6.7,13.9h-13.4zM1845.1,697.4l6.7,13.9h-13.4zM1845.1,691.4l6.7,13.9h-13.4zM1845.1,685.4l6.7,13.9h-13.4zM1845.1,679.5l6.7,13.9h-13.4zM1845.1,673.5l6.7,13.9h-13.4zM1845.1,667.5l6.7,13.9h-13.4zM1845.1,661.5l6.7,13.9h-13.4zM1845.1,655.5l6.7,13.9h-13.4zM1845.1,649.6l6.7,13.9h-13.4zM1845.1,643.6l6.7,13.9h-13.4zM1845.1,637.6l6.7,13.9h-13.4zM1845.1,631.6l6.7,13.9h-13.4zM1845.1,625.6l6.7,13.9h-13.4zM1845.1,619.7l6.7,13.9h-13.4zM1845.1,613.7l6.7,13.9h-13.4zM1845.1,607.7l6.7,13.9h-13.4zM1851.1,607.7l6.7,13.9h-13.4zM1851.1,601.7l6.7,13.9h-13.4zM1851.1,595.7l6.7,13.9h-13.4zM1851.1,589.8l6.7,13.9h-13.4zM1851.1,583.8l6.7,13.9h-13.4zM1851.1,577.8l6.7,13.9h-13.4zM1851.1,571.8l6.7,13.9h-13.4zM1851.1,565.8l6.7,13.9h-13.4zM1851.1,559.9l6.7,13.9h-13.4zM1851.1,553.9l6.7,13.9h-13.4zM1857.1,553.9l6.7,13.9h-13.4zM1857.1,547.9l6.7,13.9h-13.4zM1857.1,553.9l6.7,13.9h-13.4zM1863.1,553.9l6.7,13.9h-13.4zM1863.1,559.9l6.7,13.9h-13.4zM1863.1,565.8l6.7,13.9h-13.4zM1863.1,571.8l6.7,13.9h-13.4zM1863.1,577.8l6.7,13.9h-13.4zM1863.1,583.8l6.7,13.9h-13.4zM1863.1,589.8l6.7,13.9h-13.4zM1863.1,595.7l6.7,13.9h-13.4zM1863.1,601.7l6.7,13.9h-13.4zM1863.1,607.7l6.7,13.9h-13.4zM1869,607.7l6.7,13.9h-13.4zM1869,613.7l6.7,13.9h-13.4zM1869,619.7l6.7,13.9h-13.4zM1869,625.6l6.7,13.9h-13.4zM1869,631.6l6.7,13.9h-13.4zM1869,637.6l6.7,13.9h-13.4zM1869,643.6l6.7,13.9h-13.4zM1869,649.6l6.7,13.9h-13.4zM1869,655.5l6.7,13.9h-13.4zM1869,661.5l6.7,13.9h-13.4zM1869,667.5l6.7,13.9h-13.4zM1869,673.5l6.7,13.9h-13.4zM1869,679.5l6.7,13.9h-13.4zM1869,685.4l6.7,13.9h-13.4zM1869,691.4l6.7,13.9h-13.4zM1869,697.4l6.7,13.9h-13.4zM1869,703.4l6.7,13.9h-13.4zM1869,709.4l6.7,13.9h-13.4zM1869,715.3l6.7,13.9h-13.4zM1869,721.3l6.7,13.9h-13.4zM1869,727.3l6.7,13.9h-13.4zM1869,733.3l6.7,13.9h-13.4zM1869,739.3l6.7,13.9h-13.4zM1875,739.3l6.7,13.9h-13.4zM1875,745.2l6.7,13.9h-13.4zM1875,751.2l6.7,13.9h-13.4zM1875,757.2l6.7,13.9h-13.4zM1875,763.2l6.7,13.9h-13.4zM1875,769.2l6.7,13.9h-13.4zM1875,775.1l6.7,13.9h-13.4zM1875,781.1l6.7,13.9h-13.4zM1875,787.1l6.7,13.9h-13.4zM1875,793.1l6.7,13.9h-13.4zM1875,799.1l6.7,13.9h-13.4zM1875,805l6.7,13.9h-13.4zM1875,811l6.7,13.9h-13.4zM1875,817l6.7,13.9h-13.4zM1875,823l6.7,13.9h-13.4zM1875,829l6.7,13.9h-13.4zM1875,834.9l6.7,13.9h-13.4zM1875,840.9l6.7,13.9h-13.4zM1875,846.9l6.7,13.9h-13.4zM1875,852.9l6.7,13.9h-13.4zM1875,858.9l6.7,13.9h-13.4zM1881,858.9l6.7,13.9h-13.4zM1881,864.8l6.7,13.9h-13.4zM1881,870.8l6.7,13.9h-13.4zM1887,870.8l6.7,13.9h-13.4zM1887,876.8l6.7,13.9h-13.4zM1887,870.8l6.7,13.9h-13.4zM1893,870.8l6.7,13.9h-13.4zM1893,864.8l6.7,13.9h-13.4zM1893,858.9l6.7,13.9h-13.4zM1898.9,858.9l6.7,13.9h-13.4zM1898.9,852.9l6.7,13.9h-13.4zM1898.9,846.9l6.7,13.9h-13.4zM1898.9,840.9l6.7,13.9h-13.4zM1898.9,834.9l6.7,13.9h-13.4zM1898.9,829l6.7,13.9h-13.4zM1898.9,823l6.7,13.9h-13.4zM1898.9,817l6.7,13.9h-13.4zM1898.9,811l6.7,13.9h-13.4zM1898.9,805l6.7,13.9h-13.4zM1898.9,799.1l6.7,13.9h-13.4zM1898.9,793.1l6.7,13.9h-13.4zM1898.9,787.1l6.7,13.9h-13.4zM1898.9,781.1l6.7,13.9h-13.4zM1904.9,781.1l6.7,13.9h-13.4zM1904.9,775.1l6.7,13.9h-13.4zM1904.9,769.2l6.7,13.9h-13.4zM1904.9,763.2l6.7,13.9h-13.4zM1904.9,757.2l6.7,13.9h-13.4zM1904.9,751.2l6.7,13.9h-13.4zM1904.9,745.2l6.7,13.9h-13.4zM1904.9,739.3l6.7,13.9h-13.4zM1904.9,733.3l6.7,13.9h-13.4zM1904.9,727.3l6.7,13.9h-13.4zM1904.9,721.3l6.7,13.9h-13.4zM1904.9,715.3l6.7,13.9h-13.4zM1904.9,709.4l6.7,13.9h-13.4zM1904.9,703.4l6.7,13.9h-13.4zM1904.9,697.4l6.7,13.9h-13.4zM1904.9,691.4l6.7,13.9h-13.4zM1910.9,691.4l6.7,13.9h-13.4zM1910.9,685.4l6.7,13.9h-13.4zM1910.9,679.5l6.7,13.9h-13.4zM1910.9,673.5l6.7,13.9h-13.4zM1910.9,667.5l6.7,13.9h-13.4zM1910.9,661.5l6.7,13.9h-13.4zM1910.9,655.5l6.7,13.9h-13.4zM1910.9,649.6l6.7,13.9h-13.4zM1910.9,643.6l6.7,13.9h-13.4zM1910.9,637.6l6.7,13.9h-13.4zM1916.9,637.6l6.7,13.9h-13.4zM1916.9,631.6l6.7,13.9h-13.4zM1916.9,625.6l6.7,13.9h-13.4zM1916.9,619.7l6.7,13.9h-13.4zM1916.9,613.7l6.7,13.9h-13.4zM1916.9,607.7l6.7,13.9h-13.4zM1916.9,601.7l6.7,13.9h-13.4zM1916.9,595.7l6.7,13.9h-13.4zM1916.9,589.8l6.7,13.9h-13.4zM1916.9,583.8l6.7,13.9h-13.4zM1922.9,583.8l6.7,13.9h-13.4zM1922.9,577.8l6.7,13.9h-13.4zM1928.8,577.8l6.7,13.9h-13.4zM1934.8,577.8l6.7,13.9h-13.4zM1940.8,577.8l6.7,13.9h-13.4zM1946.8,577.8l6.7,13.9h-13.4zM1946.8,571.8l6.7,13.9h-13.4zM1946.8,565.8l6.7,13.9h-13.4zM1952.8,565.8l6.7,13.9h-13.4zM1952.8,559.9l6.7,13.9h-13.4zM1952.8,553.9l6.7,13.9h-13.4zM1952.8,547.9l6.7,13.9h-13.4zM1958.7,547.9l6.7,13.9h-13.4zM1958.7,541.9l6.7,13.9h-13.4zM1958.7,535.9l6.7,13.9h-13.4zM1964.7,535.9l6.7,13.9h-13.4zM1970.7,535.9l6.7,13.9h-13.4zM1976.7,535.9l6.7,13.9h-13.4zM1982.7,535.9l6.7,13.9h-13.4zM1982.7,541.9l6.7,13.9h-13.4zM1982.7,547.9l6.7,13.9h-13.4zM1988.6,547.9l6.7,13.9h-13.4zM1988.6,553.9l6.7,13.9h-13.4zM236.5,535.9L249.2,549.9H229.8zM242.5,535.9L249.2,549.9H229.8zM242.5,535.9L255.2,549.9H235.8zM248.5,535.9L255.2,549.9H235.8zM248.5,535.9L261.1,549.9H241.8zM254.4,535.9L261.1,549.9H241.8zM254.4,535.9L267.1,549.9H247.7zM260.4,535.9L267.1,549.9H247.7zM260.4,535.9L273.1,549.9H253.7zM266.4,535.9L273.1,549.9H253.7zM266.4,535.9L279.1,549.9H259.7zM272.4,535.9L279.1,549.9H259.7zM272.4,535.9L285.1,549.9H265.7zM278.4,535.9L285.1,549.9H265.7zM278.4,535.9L291,549.9H271.7zM284.3,535.9L291,549.9H271.7zM284.3,535.9L297,549.9H277.6zM290.3,535.9L297,549.9H277.6zM290.3,535.9L303,549.9H283.6zM296.3,535.9L303,549.9H283.6zM296.3,535.9L309,549.9H289.6zM302.3,535.9L309,549.9H289.6zM308.3,541.9L320.9,555.8H301.6zM314.2,541.9L320.9,555.8H301.6zM314.2,541.9L326.9,555.8H307.5zM320.2,541.9L326.9,555.8H307.5zM320.2,541.9L332.9,555.8H313.5zM326.2,541.9L332.9,555.8H313.5zM326.2,535.9L338.9,549.9H319.5zM332.2,535.9L338.9,549.9H319.5zM332.2,535.9L344.9,549.9H325.5zM338.2,535.9L344.9,549.9H325.5zM338.2,535.9L350.8,549.9H331.5zM344.1,535.9L350.8,549.9H331.5zM344.1,535.9L356.8,549.9H337.4zM350.1,535.9L356.8,549.9H337.4zM350.1,535.9L362.8,549.9H343.4zM356.1,535.9L362.8,549.9H343.4zM356.1,535.9L368.8,549.9H349.4zM362.1,535.9L368.8,549.9H349.4zM362.1,535.9L374.8,549.9H355.4zM368.1,535.9L374.8,549.9H355.4zM368.1,541.9L380.7,555.8H361.4zM374,541.9L380.7,555.8H361.4zM374,547.9L386.7,561.8H367.3zM380,547.9L386.7,561.8H367.3zM380,559.9L392.7,573.8H373.3zM386,559.9L392.7,573.8H373.3zM386,595.7L398.7,609.6H379.3zM392,595.7L398.7,609.6H379.3zM398,661.5L410.6,675.4H391.3zM403.9,661.5L410.6,675.4H391.3zM403.9,697.4L416.6,711.3H397.2zM409.9,697.4L416.6,711.3H397.2zM409.9,727.3L422.6,741.2H403.2zM415.9,727.3L422.6,741.2H403.2zM415.9,751.2L428.6,765.1H409.2zM421.9,751.2L428.6,765.1H409.2zM421.9,775.1L434.6,789.1H415.2zM427.9,775.1L434.6,789.1H415.2zM427.9,799.1L440.5,813H421.2zM433.8,799.1L440.5,813H421.2zM433.8,823L446.5,836.9H427.1zM439.8,823L446.5,836.9H427.1zM439.8,846.9L452.5,860.8H433.1zM445.8,846.9L452.5,860.8H433.1zM445.8,858.9L458.5,872.8H439.1zM451.8,858.9L458.5,872.8H439.1zM451.8,876.8L464.5,890.7H445.1zM457.8,876.8L464.5,890.7H445.1zM457.8,888.8L470.4,902.7H451.1zM463.7,888.8L470.4,902.7H451.1zM463.7,900.7L476.4,914.6H457zM469.7,900.7L476.4,914.6H457zM469.7,918.7L482.4,932.6H463zM475.7,918.7L482.4,932.6H463zM475.7,930.6L488.4,944.5H469zM481.7,930.6L488.4,944.5H469zM481.7,942.6L494.4,956.5H475zM487.7,942.6L494.4,956.5H475zM487.7,954.5L500.3,968.5H481zM493.6,954.5L500.3,968.5H481zM493.6,960.5L506.3,974.4H486.9zM499.6,960.5L506.3,974.4H486.9zM499.6,972.5L512.3,986.4H492.9zM505.6,972.5L512.3,986.4H492.9zM505.6,978.5L518.3,992.4H498.9zM511.6,978.5L518.3,992.4H498.9zM511.6,984.5L524.3,998.4H504.9zM517.6,984.5L524.3,998.4H504.9zM517.6,984.5L530.2,998.4H510.9zM523.5,984.5L530.2,998.4H510.9zM523.5,990.4L536.2,1004.3H516.8zM529.5,990.4L536.2,1004.3H516.8zM529.5,990.4L542.2,1004.3H522.8zM535.5,990.4L542.2,1004.3H522.8zM535.5,984.5L548.2,998.4H528.8zM541.5,984.5L548.2,998.4H528.8zM541.5,978.5L554.2,992.4H534.8zM547.5,978.5L554.2,992.4H534.8zM547.5,972.5L560.1,986.4H540.8zM553.4,972.5L560.1,986.4H540.8zM553.4,966.5L566.1,980.4H546.7zM559.4,966.5L566.1,980.4H546.7zM559.4,960.5L572.1,974.4H552.7zM565.4,960.5L572.1,974.4H552.7zM571.4,954.5L584.1,968.5H564.7zM577.4,954.5L584.1,968.5H564.7zM577.4,954.5L590,968.5H570.7zM583.3,954.5L590,968.5H570.7zM583.3,954.5L596,968.5H576.6zM589.3,954.5L596,968.5H576.6zM589.3,954.5L602,968.5H582.6zM595.3,954.5L602,968.5H582.6zM595.3,948.6L608,962.5H588.6zM601.3,948.6L608,962.5H588.6zM601.3,942.6L614,956.5H594.6zM607.3,942.6L614,956.5H594.6zM607.3,930.6L619.9,944.5H600.6zM613.2,930.6L619.9,944.5H600.6zM613.2,918.7L625.9,932.6H606.5zM619.2,918.7L625.9,932.6H606.5zM619.2,912.7L631.9,926.6H612.5zM625.2,912.7L631.9,926.6H612.5zM625.2,906.7L637.9,920.6H618.5zM631.2,906.7L637.9,920.6H618.5zM631.2,900.7L643.9,914.6H624.5zM637.2,900.7L643.9,914.6H624.5zM637.2,894.8L649.8,908.7H630.5zM643.1,894.8L649.8,908.7H630.5zM643.1,894.8L655.8,908.7H636.4zM649.1,894.8L655.8,908.7H636.4zM649.1,888.8L661.8,902.7H642.4zM655.1,888.8L661.8,902.7H642.4zM655.1,882.8L667.8,896.7H648.4zM661.1,882.8L667.8,896.7H648.4zM661.1,876.8L673.8,890.7H654.4zM667.1,876.8L673.8,890.7H654.4zM667.1,876.8L679.7,890.7H660.4zM673,876.8L679.7,890.7H660.4zM673,876.8L685.7,890.7H666.3zM679,876.8L685.7,890.7H666.3zM679,876.8L691.7,890.7H672.3zM685,876.8L691.7,890.7H672.3zM685,882.8L697.7,896.7H678.3zM691,882.8L697.7,896.7H678.3zM691,894.8L703.7,908.7H684.3zM697,894.8L703.7,908.7H684.3zM697,912.7L709.6,926.6H690.3zM702.9,912.7L709.6,926.6H690.3zM702.9,930.6L715.6,944.5H696.2zM708.9,930.6L715.6,944.5H696.2zM708.9,948.6L721.6,962.5H702.2zM714.9,948.6L721.6,962.5H702.2zM714.9,966.5L727.6,980.4H708.2zM720.9,966.5L727.6,980.4H708.2zM720.9,972.5L733.6,986.4H714.2zM726.9,972.5L733.6,986.4H714.2zM726.9,978.5L739.5,992.4H720.2zM732.8,978.5L739.5,992.4H720.2zM738.8,984.5L751.5,998.4H732.1zM744.8,984.5L751.5,998.4H732.1zM744.8,984.5L757.5,998.4H738.1zM750.8,984.5L757.5,998.4H738.1zM750.8,984.5L763.5,998.4H744.1zM756.8,984.5L763.5,998.4H744.1zM756.8,984.5L769.4,998.4H750.1zM762.7,984.5L769.4,998.4H750.1zM762.7,990.4L775.4,1004.3H756zM768.7,990.4L775.4,1004.3H756zM768.7,990.4L781.4,1004.3H762zM774.7,990.4L781.4,1004.3H762zM774.7,990.4L787.4,1004.3H768zM780.7,990.4L787.4,1004.3H768zM780.7,984.5L793.4,998.4H774zM786.7,984.5L793.4,998.4H774zM786.7,978.5L799.3,992.4H780zM792.6,978.5L799.3,992.4H780zM792.6,966.5L805.3,980.4H785.9zM798.6,966.5L805.3,980.4H785.9zM798.6,954.5L811.3,968.5H791.9zM804.6,954.5L811.3,968.5H791.9zM804.6,942.6L817.3,956.5H797.9zM810.6,942.6L817.3,956.5H797.9zM810.6,936.6L823.3,950.5H803.9zM816.6,936.6L823.3,950.5H803.9zM816.6,924.6L829.2,938.6H809.9zM822.5,924.6L829.2,938.6H809.9zM822.5,912.7L835.2,926.6H815.8zM828.5,912.7L835.2,926.6H815.8zM828.5,900.7L841.2,914.6H821.8zM834.5,900.7L841.2,914.6H821.8zM834.5,888.8L847.2,902.7H827.8zM840.5,888.8L847.2,902.7H827.8zM840.5,876.8L853.2,890.7H833.8zM846.5,876.8L853.2,890.7H833.8zM846.5,858.9L859.1,872.8H839.8zM852.4,858.9L859.1,872.8H839.8zM852.4,834.9L865.1,848.9H845.7zM858.4,834.9L865.1,848.9H845.7zM858.4,811L871.1,824.9H851.7zM864.4,811L871.1,824.9H851.7zM864.4,781.1L877.1,795H857.7zM870.4,781.1L877.1,795H857.7zM870.4,763.2L883.1,777.1H863.7zM876.4,763.2L883.1,777.1H863.7zM876.4,751.2L889,765.1H869.7zM882.3,751.2L889,765.1H869.7zM882.3,745.2L895,759.2H875.6zM888.3,745.2L895,759.2H875.6zM888.3,727.3L901,741.2H881.6zM894.3,727.3L901,741.2H881.6zM894.3,715.3L907,729.2H887.6zM900.3,715.3L907,729.2H887.6zM900.3,703.4L913,717.3H893.6zM906.3,703.4L913,717.3H893.6zM906.3,691.4L918.9,705.3H899.6zM912.2,691.4L918.9,705.3H899.6zM912.2,685.4L924.9,699.4H905.5zM918.2,685.4L924.9,699.4H905.5zM918.2,679.5L930.9,693.4H911.5zM924.2,679.5L930.9,693.4H911.5zM924.2,673.5L936.9,687.4H917.5zM930.2,673.5L936.9,687.4H917.5zM930.2,673.5L942.9,687.4H923.5zM936.2,673.5L942.9,687.4H923.5zM936.2,679.5L948.8,693.4H929.5zM942.1,679.5L948.8,693.4H929.5zM942.1,697.4L954.8,711.3H935.4zM948.1,697.4L954.8,711.3H935.4zM948.1,715.3L960.8,729.2H941.4zM954.1,715.3L960.8,729.2H941.4zM954.1,733.3L966.8,747.2H947.4zM960.1,733.3L966.8,747.2H947.4zM960.1,745.2L972.8,759.2H953.4zM966.1,745.2L972.8,759.2H953.4zM966.1,751.2L978.7,765.1H959.4zM972,751.2L978.7,765.1H959.4zM972,757.2L984.7,771.1H965.3zM978,757.2L984.7,771.1H965.3zM978,763.2L990.7,777.1H971.3zM984,763.2L990.7,777.1H971.3zM984,769.2L996.7,783.1H977.3zM990,769.2L996.7,783.1H977.3zM990,781.1L1002.7,795H983.3zM996,781.1L1002.7,795H983.3zM996,787.1L1008.6,801H989.3zM1001.9,787.1L1008.6,801H989.3zM1001.9,775.1L1014.6,789.1H995.2zM1007.9,775.1L1014.6,789.1H995.2zM1007.9,757.2L1020.6,771.1H1001.2zM1013.9,757.2L1020.6,771.1H1001.2zM1013.9,727.3L1026.6,741.2H1007.2zM1019.9,727.3L1026.6,741.2H1007.2zM1019.9,691.4L1032.6,705.3H1013.2zM1025.9,691.4L1032.6,705.3H1013.2zM1025.9,649.6L1038.5,663.5H1019.2zM1031.8,649.6L1038.5,663.5H1019.2zM1031.8,619.7L1044.5,633.6H1025.1zM1037.8,619.7L1044.5,633.6H1025.1zM1037.8,607.7L1050.5,621.6H1031.1zM1043.8,607.7L1050.5,621.6H1031.1zM1043.8,601.7L1056.5,615.6H1037.1zM1049.8,601.7L1056.5,615.6H1037.1zM1055.8,583.8L1068.4,597.7H1049.1zM1061.7,583.8L1068.4,597.7H1049.1zM1061.7,577.8L1074.4,591.7H1055zM1067.7,577.8L1074.4,591.7H1055zM1067.7,571.8L1080.4,585.7H1061zM1073.7,571.8L1080.4,585.7H1061zM1073.7,565.8L1086.4,579.8H1067zM1079.7,565.8L1086.4,579.8H1067zM1079.7,565.8L1092.4,579.8H1073zM1085.7,565.8L1092.4,579.8H1073zM1085.7,559.9L1098.3,573.8H1079zM1091.6,559.9L1098.3,573.8H1079zM1091.6,559.9L1104.3,573.8H1084.9zM1097.6,559.9L1104.3,573.8H1084.9zM1097.6,559.9L1110.3,573.8H1090.9zM1103.6,559.9L1110.3,573.8H1090.9zM1103.6,559.9L1116.3,573.8H1096.9zM1109.6,559.9L1116.3,573.8H1096.9zM1109.6,559.9L1122.3,573.8H1102.9zM1115.6,559.9L1122.3,573.8H1102.9zM1115.6,565.8L1128.2,579.8H1108.9zM1121.5,565.8L1128.2,579.8H1108.9zM1121.5,565.8L1134.2,579.8H1114.8zM1127.5,565.8L1134.2,579.8H1114.8zM1127.5,565.8L1140.2,579.8H1120.8zM1133.5,565.8L1140.2,579.8H1120.8zM1133.5,559.9L1146.2,573.8H1126.8zM1139.5,559.9L1146.2,573.8H1126.8zM1139.5,553.9L1152.2,567.8H1132.8zM1145.5,553.9L1152.2,567.8H1132.8zM1145.5,541.9L1158.1,555.8H1138.8zM1151.4,541.9L1158.1,555.8H1138.8zM1151.4,535.9L1164.1,549.9H1144.7zM1157.4,535.9L1164.1,549.9H1144.7zM1157.4,535.9L1170.1,549.9H1150.7zM1163.4,535.9L1170.1,549.9H1150.7zM1163.4,535.9L1176.1,549.9H1156.7zM1169.4,535.9L1176.1,549.9H1156.7zM1169.4,535.9L1182.1,549.9H1162.7zM1175.4,535.9L1182.1,549.9H1162.7zM1175.4,535.9L1188,549.9H1168.7zM1181.3,535.9L1188,549.9H1168.7zM1181.3,541.9L1194,555.8H1174.6zM1187.3,541.9L1194,555.8H1174.6zM1187.3,541.9L1200,555.8H1180.6zM1193.3,541.9L1200,555.8H1180.6zM1193.3,541.9L1206,555.8H1186.6zM1199.3,541.9L1206,555.8H1186.6zM1199.3,541.9L1212,555.8H1192.6zM1205.3,541.9L1212,555.8H1192.6zM1205.3,535.9L1217.9,549.9H1198.6zM1211.2,535.9L1217.9,549.9H1198.6zM1211.2,535.9L1223.9,549.9H1204.5zM1217.2,535.9L1223.9,549.9H1204.5zM1217.2,535.9L1229.9,549.9H1210.5zM1223.2,535.9L1229.9,549.9H1210.5zM1223.2,541.9L1235.9,555.8H1216.5zM1229.2,541.9L1235.9,555.8H1216.5zM1229.2,547.9L1241.9,561.8H1222.5zM1235.2,547.9L1241.9,561.8H1222.5zM1235.2,553.9L1247.8,567.8H1228.5zM1241.1,553.9L1247.8,567.8H1228.5zM1241.1,565.8L1253.8,579.8H1234.4zM1247.1,565.8L1253.8,579.8H1234.4zM1247.1,571.8L1259.8,585.7H1240.4zM1253.1,571.8L1259.8,585.7H1240.4zM1253.1,577.8L1265.8,591.7H1246.4zM1259.1,577.8L1265.8,591.7H1246.4zM1259.1,583.8L1271.8,597.7H1252.4zM1265.1,583.8L1271.8,597.7H1252.4zM1265.1,589.8L1277.7,603.7H1258.4zM1271,589.8L1277.7,603.7H1258.4zM1271,595.7L1283.7,609.6H1264.3zM1277,595.7L1283.7,609.6H1264.3zM1277,601.7L1289.7,615.6H1270.3zM1283,601.7L1289.7,615.6H1270.3zM1283,607.7L1295.7,621.6H1276.3zM1289,607.7L1295.7,621.6H1276.3zM1289,613.7L1301.7,627.6H1282.3zM1295,613.7L1301.7,627.6H1282.3zM1295,619.7L1307.6,633.6H1288.3zM1300.9,619.7L1307.6,633.6H1288.3zM1300.9,619.7L1313.6,633.6H1294.2zM1306.9,619.7L1313.6,633.6H1294.2zM1312.9,637.6L1325.6,651.5H1306.2zM1318.9,637.6L1325.6,651.5H1306.2zM1318.9,643.6L1331.6,657.5H1312.2zM1324.9,643.6L1331.6,657.5H1312.2zM1324.9,661.5L1337.5,675.4H1318.2zM1330.8,661.5L1337.5,675.4H1318.2zM1330.8,673.5L1343.5,687.4H1324.1zM1336.8,673.5L1343.5,687.4H1324.1zM1336.8,691.4L1349.5,705.3H1330.1zM1342.8,691.4L1349.5,705.3H1330.1zM1342.8,709.4L1355.5,723.3H1336.1zM1348.8,709.4L1355.5,723.3H1336.1zM1348.8,727.3L1361.5,741.2H1342.1zM1354.8,727.3L1361.5,741.2H1342.1zM1354.8,745.2L1367.4,759.2H1348.1zM1360.7,745.2L1367.4,759.2H1348.1zM1360.7,769.2L1373.4,783.1H1354zM1366.7,769.2L1373.4,783.1H1354zM1372.7,787.1L1385.4,801H1366zM1378.7,787.1L1385.4,801H1366zM1378.7,793.1L1391.4,807H1372zM1384.7,793.1L1391.4,807H1372zM1384.7,799.1L1397.3,813H1378zM1390.6,799.1L1397.3,813H1378zM1390.6,805L1403.3,819H1383.9zM1396.6,805L1403.3,819H1383.9zM1402.6,829L1415.3,842.9H1395.9zM1408.6,829L1415.3,842.9H1395.9zM1408.6,840.9L1421.3,854.8H1401.9zM1414.6,840.9L1421.3,854.8H1401.9zM1414.6,852.9L1427.2,866.8H1407.9zM1420.5,852.9L1427.2,866.8H1407.9zM1420.5,864.8L1433.2,878.8H1413.8zM1426.5,864.8L1433.2,878.8H1413.8zM1426.5,882.8L1439.2,896.7H1419.8zM1432.5,882.8L1439.2,896.7H1419.8zM1432.5,900.7L1445.2,914.6H1425.8zM1438.5,900.7L1445.2,914.6H1425.8zM1438.5,936.6L1451.2,950.5H1431.8zM1444.5,936.6L1451.2,950.5H1431.8zM1444.5,954.5L1457.1,968.5H1437.8zM1450.4,954.5L1457.1,968.5H1437.8zM1450.4,954.5L1463.1,968.5H1443.7zM1456.4,954.5L1463.1,968.5H1443.7zM1456.4,954.5L1469.1,968.5H1449.7zM1462.4,954.5L1469.1,968.5H1449.7zM1462.4,942.6L1475.1,956.5H1455.7zM1468.4,942.6L1475.1,956.5H1455.7zM1468.4,942.6L1481.1,956.5H1461.7zM1474.4,942.6L1481.1,956.5H1461.7zM1474.4,936.6L1487,950.5H1467.7zM1480.3,936.6L1487,950.5H1467.7zM1480.3,942.6L1493,956.5H1473.6zM1486.3,942.6L1493,956.5H1473.6zM1486.3,948.6L1499,962.5H1479.6zM1492.3,948.6L1499,962.5H1479.6zM1492.3,948.6L1505,962.5H1485.6zM1498.3,948.6L1505,962.5H1485.6zM1498.3,942.6L1511,956.5H1491.6zM1504.3,942.6L1511,956.5H1491.6zM1504.3,930.6L1516.9,944.5H1497.6zM1510.2,930.6L1516.9,944.5H1497.6zM1510.2,918.7L1522.9,932.6H1503.5zM1516.2,918.7L1522.9,932.6H1503.5zM1516.2,912.7L1528.9,926.6H1509.5zM1522.2,912.7L1528.9,926.6H1509.5zM1522.2,912.7L1534.9,926.6H1515.5zM1528.2,912.7L1534.9,926.6H1515.5zM1528.2,906.7L1540.9,920.6H1521.5zM1534.2,906.7L1540.9,920.6H1521.5zM1534.2,900.7L1546.8,914.6H1527.5zM1540.1,900.7L1546.8,914.6H1527.5zM1540.1,888.8L1552.8,902.7H1533.4zM1546.1,888.8L1552.8,902.7H1533.4zM1546.1,882.8L1558.8,896.7H1539.4zM1552.1,882.8L1558.8,896.7H1539.4zM1552.1,882.8L1564.8,896.7H1545.4zM1558.1,882.8L1564.8,896.7H1545.4zM1558.1,888.8L1570.8,902.7H1551.4zM1564.1,888.8L1570.8,902.7H1551.4zM1570,900.7L1582.7,914.6H1563.3zM1576,900.7L1582.7,914.6H1563.3zM1576,912.7L1588.7,926.6H1569.3zM1582,912.7L1588.7,926.6H1569.3zM1582,918.7L1594.7,932.6H1575.3zM1588,918.7L1594.7,932.6H1575.3zM1594,948.6L1606.6,962.5H1587.3zM1599.9,948.6L1606.6,962.5H1587.3zM1599.9,972.5L1612.6,986.4H1593.2zM1605.9,972.5L1612.6,986.4H1593.2zM1605.9,990.4L1618.6,1004.3H1599.2zM1611.9,990.4L1618.6,1004.3H1599.2zM1611.9,1008.4L1624.6,1022.3H1605.2zM1617.9,1008.4L1624.6,1022.3H1605.2zM1623.9,1050.2L1636.5,1064.1H1617.2zM1629.8,1050.2L1636.5,1064.1H1617.2zM1629.8,1080.1L1642.5,1094H1623.1zM1635.8,1080.1L1642.5,1094H1623.1zM1635.8,1110L1648.5,1123.9H1629.1zM1641.8,1110L1648.5,1123.9H1629.1zM1641.8,1157.9L1654.5,1171.8H1635.1zM1647.8,1157.9L1654.5,1171.8H1635.1zM1653.8,1241.6L1666.4,1255.5H1647.1zM1659.7,1241.6L1666.4,1255.5H1647.1zM1659.7,1265.5L1672.4,1279.4H1653zM1665.7,1265.5L1672.4,1279.4H1653zM1665.7,1283.5L1678.4,1297.4H1659zM1671.7,1283.5L1678.4,1297.4H1659zM1671.7,1295.4L1684.4,1309.3H1665zM1677.7,1295.4L1684.4,1309.3H1665zM1677.7,1301.4L1690.4,1315.3H1671zM1683.7,1301.4L1690.4,1315.3H1671zM1683.7,1307.4L1696.3,1321.3H1677zM1689.6,1307.4L1696.3,1321.3H1677zM1689.6,1313.4L1702.3,1327.3H1682.9zM1695.6,1313.4L1702.3,1327.3H1682.9zM1695.6,1319.3L1708.3,1333.2H1688.9zM1701.6,1319.3L1708.3,1333.2H1688.9zM1701.6,1325.3L1714.3,1339.2H1694.9zM1707.6,1325.3L1714.3,1339.2H1694.9zM1707.6,1325.3L1720.3,1339.2H1700.9zM1713.6,1325.3L1720.3,1339.2H1700.9zM1713.6,1331.3L1726.2,1345.2H1706.9zM1719.5,1331.3L1726.2,1345.2H1706.9zM1719.5,1331.3L1732.2,1345.2H1712.8zM1725.5,1331.3L1732.2,1345.2H1712.8zM1725.5,1331.3L1738.2,1345.2H1718.8zM1731.5,1331.3L1738.2,1345.2H1718.8zM1731.5,1337.3L1744.2,1351.2H1724.8zM1737.5,1337.3L1744.2,1351.2H1724.8zM1737.5,1337.3L1750.2,1351.2H1730.8zM1743.5,1337.3L1750.2,1351.2H1730.8zM1743.5,1337.3L1756.1,1351.2H1736.8zM1749.4,1337.3L1756.1,1351.2H1736.8zM1749.4,1331.3L1762.1,1345.2H1742.7zM1755.4,1331.3L1762.1,1345.2H1742.7zM1755.4,1331.3L1768.1,1345.2H1748.7zM1761.4,1331.3L1768.1,1345.2H1748.7zM1761.4,1325.3L1774.1,1339.2H1754.7zM1767.4,1325.3L1774.1,1339.2H1754.7zM1767.4,1313.4L1780.1,1327.3H1760.7zM1773.4,1313.4L1780.1,1327.3H1760.7zM1773.4,1295.4L1786,1309.3H1766.7zM1779.3,1295.4L1786,1309.3H1766.7zM1779.3,1247.6L1792,1261.5H1772.6zM1785.3,1247.6L1792,1261.5H1772.6zM1785.3,1199.7L1798,1213.6H1778.6zM1791.3,1199.7L1798,1213.6H1778.6zM1791.3,1139.9L1804,1153.8H1784.6zM1797.3,1139.9L1804,1153.8H1784.6zM1797.3,1092.1L1810,1106H1790.6zM1803.3,1092.1L1810,1106H1790.6zM1803.3,1056.2L1815.9,1070.1H1796.6zM1809.2,1056.2L1815.9,1070.1H1796.6zM1809.2,1026.3L1821.9,1040.2H1802.5zM1815.2,1026.3L1821.9,1040.2H1802.5zM1815.2,990.4L1827.9,1004.3H1808.5zM1821.2,990.4L1827.9,1004.3H1808.5zM1821.2,912.7L1833.9,926.6H1814.5zM1827.2,912.7L1833.9,926.6H1814.5zM1827.2,852.9L1839.9,866.8H1820.5zM1833.2,852.9L1839.9,866.8H1820.5zM1833.2,781.1L1845.8,795H1826.5zM1839.1,781.1L1845.8,795H1826.5zM1839.1,733.3L1851.8,747.2H1832.4zM1845.1,733.3L1851.8,747.2H1832.4zM1845.1,607.7L1857.8,621.6H1838.4zM1851.1,607.7L1857.8,621.6H1838.4zM1851.1,553.9L1863.8,567.8H1844.4zM1857.1,553.9L1863.8,567.8H1844.4zM1857.1,553.9L1869.8,567.8H1850.4zM1863.1,553.9L1869.8,567.8H1850.4zM1863.1,607.7L1875.7,621.6H1856.4zM1869,607.7L1875.7,621.6H1856.4zM1869,739.3L1881.7,753.2H1862.3zM1875,739.3L1881.7,753.2H1862.3zM1875,858.9L1887.7,872.8H1868.3zM1881,858.9L1887.7,872.8H1868.3zM1881,870.8L1893.7,884.7H1874.3zM1887,870.8L1893.7,884.7H1874.3zM1887,870.8L1899.7,884.7H1880.3zM1893,870.8L1899.7,884.7H1880.3zM1893,858.9L1905.6,872.8H1886.3zM1898.9,858.9L1905.6,872.8H1886.3zM1898.9,781.1L1911.6,795H1892.2zM1904.9,781.1L1911.6,795H1892.2zM1904.9,691.4L1917.6,705.3H1898.2zM1910.9,691.4L1917.6,705.3H1898.2zM1910.9,637.6L1923.6,651.5H1904.2zM1916.9,637.6L1923.6,651.5H1904.2zM1916.9,583.8L1929.6,597.7H1910.2zM1922.9,583.8L1929.6,597.7H1910.2zM1922.9,577.8L1935.5,591.7H1916.2zM1928.8,577.8L1935.5,591.7H1916.2zM1928.8,577.8L1941.5,591.7H1922.1zM1934.8,577.8L1941.5,591.7H1922.1zM1934.8,577.8L1947.5,591.7H1928.1zM1940.8,577.8L1947.5,591.7H1928.1zM1940.8,577.8L1953.5,591.7H1934.1zM1946.8,577.8L1953.5,591.7H1934.1zM1946.8,565.8L1959.5,579.8H1940.1zM1952.8,565.8L1959.5,579.8H1940.1zM1952.8,547.9L1965.4,561.8H1946.1zM1958.7,547.9L1965.4,561.8H1946.1zM1958.7,535.9L1971.4,549.9H1952zM1964.7,535.9L1971.4,549.9H1952zM1964.7,535.9L1977.4,549.9H1958zM1970.7,535.9L1977.4,549.9H1958zM1970.7,535.9L1983.4,549.9H1964zM1976.7,535.9L1983.4,549.9H1964zM1976.7,535.9L1989.4,549.9H1970zM1982.7,535.9L1989.4,549.9H1970zM1982.7,547.9L1995.3,561.8H1976zM1988.6,547.9L1995.3,561.8H1976z" fill="#00f"/>
<polyline points="236.5,238.3 242.5,238.3 248.5,238.3 248.5,244.3 254.4,244.3 254.4,250.3 260.4,250.3 260.4,256.3 266.4,256.3 272.4,256.3 272.4,262.3 278.4,262.3 278.4,268.2 284.3,268.2 290.3,268.2 290.3,274.2 296.3,274.2 296.3,280.2 302.3,280.2 302.3,286.2 308.3,286.2 308.3,292.2 314.2,292.2 314.2,298.1 320.2,298.1 326.2,304.1 332.2,304.1 332.2,310.1 338.2,310.1 338.2,316.1 344.1,316.1 344.1,322.1 350.1,322.1 350.1,328.1 350.1,334 356.1,334 356.1,340 356.1,346 362.1,346 362.1,352 362.1,357.9 362.1,363.9 368.1,363.9 368.1,369.9 368.1,375.9 368.1,381.9 374,381.9 374,387.9 374,393.8 374,399.8 380,399.8 380,405.8 380,411.8 380,417.8 386,423.7 386,429.7 386,435.7 386,441.7 386,447.6 392,453.6 392,459.6 392,465.6 392,471.6 392,477.6 392,483.5 392,489.5 392,495.5 392,501.5 398,501.5 398,507.5 398,513.4 398,519.4 398,525.4 398,531.4 398,537.4 398,543.3 398,549.3 398,555.3 398,561.3 398,567.2 403.9,567.2 403.9,573.2 403.9,579.2 403.9,585.2 403.9,591.2 403.9,597.1 403.9,603.1 403.9,609.1 403.9,615.1 409.9,621.1 409.9,627.1 409.9,633 409.9,639 409.9,645 409.9,651 409.9,657 409.9,662.9 409.9,668.9 409.9,674.9 415.9,674.9 415.9,680.9 415.9,686.9 415.9,692.8 415.9,698.8 415.9,704.8 415.9,710.8 421.9,710.8 421.9,716.8 421.9,722.7 421.9,728.7 421.9,734.7 421.9,740.7 427.9,740.7 427.9,746.6 427.9,752.6 427.9,758.6 427.9,764.6 433.8,764.6 433.8,770.6 433.8,776.6 433.8,782.5 433.8,788.5 433.8,794.5 439.8,794.5 439.8,800.5 439.8,806.5 439.8,812.4 445.8,812.4 445.8,818.4 445.8,824.4 445.8,830.4 451.8,830.4 451.8,836.4 451.8,842.3 451.8,848.3 457.8,848.3 457.8,854.3 457.8,860.3 463.7,860.3 463.7,866.3 463.7,872.2 469.7,872.2 469.7,878.2 469.7,884.2 475.7,890.2 475.7,896.2 481.7,896.2 481.7,902.1 481.7,908.1 487.7,908.1 487.7,914.1 487.7,920.1 493.6,920.1 493.6,926.1 493.6,932 499.6,932 499.6,938 499.6,944 505.6,944 511.6,950 517.6,950 517.6,944 523.5,944 523.5,938 523.5,932 529.5,932 529.5,926.1 529.5,920.1 535.5,920.1 535.5,914.1 535.5,908.1 541.5,908.1 541.5,902.1 541.5,896.2 541.5,890.2 547.5,890.2 547.5,884.2 547.5,878.2 553.4,878.2 553.4,872.2 553.4,866.3 559.4,866.3 559.4,860.3 559.4,854.3 559.4,848.3 565.4,848.3 565.4,842.3 565.4,836.4 571.4,836.4 571.4,830.4 571.4,824.4 571.4,818.4 577.4,818.4 577.4,812.4 577.4,806.5 583.3,806.5 583.3,800.5 583.3,794.5 583.3,788.5 589.3,788.5 589.3,782.5 589.3,776.6 595.3,776.6 595.3,770.6 595.3,764.6 595.3,758.6 601.3,758.6 601.3,752.6 601.3,746.6 607.3,746.6 607.3,740.7 607.3,734.7 607.3,728.7 613.2,728.7 613.2,722.7 613.2,716.8 619.2,716.8 619.2,710.8 619.2,704.8 619.2,698.8 625.2,698.8 625.2,692.8 625.2,686.9 631.2,686.9 631.2,680.9 631.2,674.9 631.2,668.9 637.2,668.9 637.2,662.9 637.2,657 637.2,651 643.1,651 643.1,645 643.1,639 649.1,639 649.1,633 649.1,627.1 649.1,621.1 649.1,615.1 655.1,615.1 655.1,609.1 655.1,603.1 655.1,597.1 655.1,591.2 661.1,591.2 661.1,585.2 661.1,579.2 661.1,573.2 661.1,567.2 667.1,567.2 667.1,561.3 667.1,555.3 667.1,549.3 667.1,543.3 673,543.3 673,537.4 673,531.4 673,525.4 679,519.4 679,513.4 679,507.5 685,507.5 685,501.5 685,495.5 691,495.5 691,489.5 691,483.5 697,483.5 697,477.6 697,471.6 702.9,471.6 702.9,465.6 708.9,465.6 708.9,459.6 708.9,453.6 714.9,453.6 714.9,447.6 714.9,441.7 720.9,441.7 720.9,435.7 726.9,435.7 726.9,429.7 732.8,423.7 732.8,417.8 738.8,417.8 744.8,411.8 750.8,411.8 750.8,405.8 756.8,405.8 756.8,399.8 762.7,393.8 762.7,387.9 768.7,387.9 768.7,381.9 774.7,381.9 774.7,375.9 780.7,375.9 780.7,369.9 786.7,369.9 786.7,363.9 786.7,357.9 792.6,357.9 792.6,352 792.6,346 798.6,346 798.6,340 798.6,334 798.6,328.1 804.6,328.1 804.6,322.1 810.6,322.1 810.6,316.1 816.6,316.1 816.6,310.1 822.5,310.1 822.5,304.1 822.5,298.1 828.5,298.1 828.5,292.2 834.5,292.2 834.5,286.2 840.5,286.2 840.5,280.2 846.5,280.2 846.5,274.2 852.4,274.2 852.4,268.2 858.4,268.2 858.4,262.3 858.4,256.3 864.4,256.3 864.4,250.3 870.4,250.3 876.4,250.3 882.3,250.3 888.3,250.3 894.3,250.3 894.3,244.3 900.3,244.3 900.3,238.3 906.3,238.3 912.2,238.3 918.2,238.3 924.2,238.3 930.2,238.3 936.2,238.3 942.1,238.3 942.1,244.3 948.1,244.3 948.1,250.3 954.1,250.3 960.1,250.3 960.1,256.3 966.1,256.3 972,256.3 972,262.3 978,262.3 984,262.3 990,262.3 990,268.2 996,268.2 996,274.2 1001.9,274.2 1007.9,274.2 1007.9,280.2 1007.9,274.2 1013.9,274.2 1013.9,268.2 1019.9,268.2 1019.9,262.3 1025.9,262.3 1031.8,262.3 1031.8,256.3 1037.8,256.3 1043.8,256.3 1049.8,262.3 1055.8,262.3 1061.7,262.3 1067.7,262.3 1067.7,268.2 1073.7,268.2 1079.7,268.2 1085.7,268.2 1085.7,274.2 1091.6,274.2 1097.6,274.2 1097.6,280.2 1103.6,280.2 1109.6,280.2 1115.6,280.2 1115.6,286.2 1121.5,286.2 1127.5,286.2 1127.5,292.2 1133.5,292.2 1139.5,292.2 1139.5,298.1 1145.5,298.1 1151.4,298.1 1157.4,298.1 1163.4,298.1 1169.4,298.1 1169.4,304.1 1175.4,304.1 1181.3,304.1 1181.3,310.1 1187.3,310.1 1193.3,310.1 1193.3,316.1 1199.3,316.1 1205.3,316.1 1205.3,322.1 1211.2,322.1 1217.2,322.1 1217.2,328.1 1223.2,328.1 1229.2,328.1 1229.2,334 1235.2,334 1235.2,340 1241.1,340 1241.1,346 1247.1,346 1247.1,352 1253.1,352 1259.1,357.9 1265.1,357.9 1265.1,363.9 1271,363.9 1271,369.9 1277,369.9 1283,369.9 1289,369.9 1289,375.9 1295,375.9 1300.9,375.9 1306.9,375.9 1312.9,375.9 1312.9,381.9 1312.9,387.9 1318.9,387.9 1318.9,393.8 1324.9,393.8 1324.9,399.8 1330.8,399.8 1336.8,405.8 1342.8,405.8 1348.8,405.8 1348.8,411.8 1354.8,411.8 1354.8,417.8 1360.7,417.8 1360.7,423.7 1366.7,423.7 1366.7,429.7 1372.7,429.7 1372.7,435.7 1372.7,441.7 1378.7,441.7 1378.7,447.6 1384.7,447.6 1384.7,453.6 1384.7,459.6 1390.6,459.6 1390.6,465.6 1396.6,465.6 1396.6,471.6 1396.6,477.6 1402.6,477.6 1402.6,483.5 1402.6,489.5 1408.6,489.5 1408.6,495.5 1408.6,501.5 1408.6,507.5 1414.6,507.5 1414.6,513.4 1414.6,519.4 1414.6,525.4 1420.5,525.4 1420.5,531.4 1420.5,537.4 1420.5,543.3 1420.5,549.3 1426.5,549.3 1426.5,555.3 1426.5,561.3 1426.5,567.2 1426.5,573.2 1426.5,579.2 1432.5,579.2 1432.5,585.2 1432.5,591.2 1432.5,597.1 1432.5,603.1 1432.5,609.1 1432.5,615.1 1438.5,615.1 1438.5,621.1 1438.5,627.1 1438.5,633 1438.5,639 1438.5,645 1438.5,651 1438.5,657 1438.5,662.9 1444.5,662.9 1444.5,668.9 1444.5,674.9 1444.5,680.9 1444.5,686.9 1444.5,692.8 1444.5,698.8 1450.4,698.8 1450.4,704.8 1450.4,710.8 1450.4,716.8 1450.4,722.7 1456.4,722.7 1456.4,728.7 1456.4,722.7 1456.4,716.8 1456.4,710.8 1456.4,704.8 1462.4,704.8 1462.4,698.8 1462.4,692.8 1462.4,686.9 1462.4,680.9 1462.4,674.9 1462.4,668.9 1462.4,662.9 1462.4,657 1462.4,651 1462.4,645 1462.4,639 1468.4,639 1468.4,633 1468.4,627.1 1468.4,621.1 1468.4,615.1 1468.4,609.1 1468.4,603.1 1468.4,597.1 1468.4,591.2 1468.4,585.2 1468.4,579.2 1468.4,573.2 1468.4,567.2 1468.4,561.3 1474.4,561.3 1474.4,555.3 1474.4,549.3 1474.4,543.3 1474.4,537.4 1474.4,531.4 1480.3,531.4 1480.3,525.4 1480.3,519.4 1480.3,513.4 1486.3,513.4 1486.3,507.5 1492.3,507.5 1492.3,513.4 1498.3,513.4 1498.3,519.4 1504.3,519.4 1504.3,525.4 1504.3,531.4 1510.2,531.4 1510.2,537.4 1510.2,543.3 1516.2,543.3 1516.2,549.3 1516.2,555.3 1522.2,555.3 1522.2,561.3 1522.2,567.2 1528.2,567.2 1528.2,573.2 1528.2,579.2 1534.2,579.2 1534.2,585.2 1534.2,591.2 1540.1,591.2 1540.1,597.1 1540.1,603.1 1546.1,603.1 1546.1,609.1 1546.1,615.1 1552.1,615.1 1552.1,621.1 1552.1,627.1 1558.1,627.1 1558.1,633 1558.1,639 1558.1,645 1564.1,645 1564.1,651 1564.1,657 1570,657 1570,662.9 1570,668.9 1570,674.9 1576,674.9 1576,680.9 1576,686.9 1582,686.9 1582,692.8 1582,698.8 1582,704.8 1588,704.8 1588,710.8 1588,716.8 1588,722.7 1594,722.7 1594,728.7 1594,734.7 1594,740.7 1594,746.6 1599.9,746.6 1599.9,752.6 1599.9,758.6 1599.9,764.6 1605.9,764.6 1605.9,770.6 1605.9,776.6 1605.9,782.5 1605.9,788.5 1611.9,788.5 1611.9,794.5 1611.9,800.5 1611.9,806.5 1611.9,812.4 1611.9,818.4 1617.9,818.4 1617.9,824.4 1617.9,830.4 1617.9,836.4 1617.9,842.3 1617.9,848.3 1617.9,854.3 1623.9,854.3 1623.9,860.3 1623.9,866.3 1623.9,872.2 1623.9,878.2 1623.9,884.2 1629.8,884.2 1629.8,890.2 1629.8,896.2 1629.8,902.1 1629.8,908.1 1629.8,914.1 1629.8,920.1 1635.8,920.1 1635.8,926.1 1635.8,932 1635.8,938 1635.8,944 1635.8,950 1635.8,956 1641.8,961.9 1641.8,967.9 1641.8,973.9 1641.8,979.9 1641.8,985.9 1641.8,991.8 1641.8,997.8 1641.8,1003.8 1641.8,1009.8 1641.8,1015.8 1641.8,1021.7 1641.8,1027.7 1641.8,1033.7 1641.8,1039.7 1647.8,1039.7 1647.8,1045.7 1647.8,1051.6 1647.8,1057.6 1647.8,1063.6 1647.8,1069.6 1647.8,1075.5 1647.8,1081.5 1647.8,1087.5 1647.8,1093.5 1647.8,1099.5 1647.8,1105.5 1647.8,1111.4 1647.8,1117.4 1647.8,1123.4 1653.8,1123.4 1653.8,1129.4 1653.8,1135.4 1653.8,1141.3 1653.8,1147.3 1653.8,1153.3 1653.8,1159.3 1653.8,1165.2 1653.8,1171.2 1659.7,1171.2 1659.7,1177.2 1659.7,1183.2 1659.7,1189.2 1659.7,1195.2 1659.7,1201.1 1665.7,1207.1 1665.7,1213.1 1665.7,1219.1 1665.7,1225 1665.7,1231 1671.7,1231 1671.7,1237 1671.7,1243 1677.7,1243 1677.7,1249 1677.7,1255 1683.7,1255 1683.7,1260.9 1683.7,1266.9 1689.6,1266.9 1689.6,1272.9 1695.6,1272.9 1695.6,1278.9 1701.6,1284.8 1707.6,1290.8 1713.6,1296.8 1713.6,1302.8 1719.5,1302.8 1719.5,1308.8 1719.5,1314.8 1725.5,1314.8 1725.5,1320.7 1725.5,1326.7 1731.5,1326.7 1731.5,1332.7 1737.5,1332.7 1743.5,1332.7 1749.4,1332.7 1749.4,1326.7 1749.4,1320.7 1755.4,1320.7 1755.4,1314.8 1755.4,1308.8 1755.4,1302.8 1755.4,1296.8 1755.4,1290.8 1755.4,1284.8 1761.4,1284.8 1761.4,1278.9 1761.4,1272.9 1761.4,1266.9 1761.4,1260.9 1761.4,1255 1761.4,1249 1761.4,1243 1761.4,1237 1761.4,1231 1761.4,1225 1767.4,1225 1767.4,1219.1 1767.4,1213.1 1767.4,1207.1 1767.4,1201.1 1767.4,1195.2 1767.4,1189.2 1767.4,1183.2 1767.4,1177.2 1767.4,1171.2 1767.4,1165.2 1767.4,1159.3 1767.4,1153.3 1767.4,1147.3 1767.4,1150 1767.4,1132 1767.4,1122 1773.4,1104.8 1773.4,1086 1773.4,1068 1773.4,1050 1773.4,1032 1773.4,1014 1773.4,990 1773.4,966 1773.4,942 1773.4,918 1773.4,894 1773.4,870 1773.4,852 1779.3,828.8 1779.3,804 1779.3,780 1779.3,756 1779.3,732 1779.3,715 1779.3,697 1779.3,679 1779.3,661 1779.3,643 1779.3,625 1779.3,607 1779.3,589 1779.3,584 1779.3,578.3 1785.3,572.5 1785.3,566.8 1785.3,560 1785.3,554 1785.3,548 1785.3,542 1785.3,547.8 1791.3,553.6 1791.3,559.4 1791.3,565.2 1791.3,578 1791.3,590 1791.3,602 1791.3,620 1791.3,638 1791.3,656 1791.3,674 1791.3,692 1791.3,709 1791.3,721 1791.3,733 1791.3,745 1797.3,751 1797.3,763 1797.3,775 1797.3,787 1797.3,788.5 1797.3,794.5 1797.3,800.5 1803.3,800.5 1803.3,806.5 1803.3,812.4 1803.3,818.4 1803.3,824.4 1803.3,818.4 1809.2,818.4 1809.2,812.4 1809.2,806.5 1815.2,806.5 1815.2,800.5 1815.2,794.5 1815.2,788.5 1815.2,782.5 1815.2,776.6 1815.2,770.6 1815.2,764.6 1815.2,758.6 1815.2,752.6 1815.2,746.6 1815.2,740.7 1815.2,734.7 1815.2,728.7 1815.2,722.7 1815.2,716.8 1815.2,710.8 1815.2,704.8 1815.2,698.8 1815.2,692.8 1815.2,686.9 1815.2,680.9 1815.2,674.9 1815.2,668.9 1815.2,662.9 1815.2,657 1815.2,651 1821.2,661.3 1821.2,667 1821.2,655 1821.2,643 1821.2,631 1821.2,619 1821.2,607 1821.2,595 1821.2,583 1821.2,571 1821.2,559 1821.2,547 1827.2,553 1827.2,556 1827.2,547 1827.2,538 1827.2,529 1827.2,520 1827.2,511 1827.2,502 1827.2,493 1827.2,484 1827.2,475 1827.2,466 1827.2,457 1833.2,456 1833.2,450 1833.2,444 1833.2,438 1833.2,432 1833.2,426 1833.2,420 1833.2,414 1833.2,408 1833.2,402 1833.2,396 1833.2,390 1833.2,384 1833.2,378 1833.2,372 1833.2,366 1839.1,364 1839.1,358 1839.1,352 1839.1,346 1839.1,340 1839.1,334 1839.1,328 1839.1,322 1839.1,316 1839.1,310 1839.1,304 1839.1,298 1845.1,302.5 1845.1,307.9 1845.1,310 1845.1,304 1845.1,298 1845.1,292 1845.1,286 1845.1,280 1845.1,274 1845.1,268 1845.1,262 1845.1,256 1845.1,250 1851.1,254.2 1851.1,250 1851.1,244 1851.1,238 1851.1,232 1857.1,232 1857.1,238 1857.1,244 1857.1,250 1857.1,256 1863.1,259.9 1863.1,273 1863.1,285 1863.1,297 1863.1,309 1863.1,321 1863.1,333 1863.1,345 1863.1,357 1863.1,369 1863.1,380 1869,380 1869,392 1869,404 1869,416 1869,428 1869,440 1869,452 1869,464 1869,476 1869,488 1869,500 1869,512 1869,524 1869,527 1875,515.3 1875,503.6 1875,514 1875,526 1875,538 1875,550 1875,562 1875,574 1875,586 1875,598 1875,610 1875,614 1875,608.1 1875,602.1 1875,596.2 1881,590.2 1881,584.3 1881,578.3 1881,572.4 1881,566.4 1881,572 1881,578 1881,584 1881,590 1881,596 1881,602 1881,608 1881,614 1881,620 1881,626 1881,632 1881,638 1881,639 1881,645 1887,645 1887,639 1893,639 1893,633 1893,627.1 1893,617 1893,605 1893,593 1893,581 1893,569 1893,557 1893,545 1893,533 1893,521 1893,509 1893,500 1898.9,502 1898.9,484 1898.9,466 1898.9,448 1898.9,430 1898.9,412 1898.9,394 1898.9,376 1898.9,358 1898.9,340 1898.9,322 1898.9,315 1898.9,320.8 1904.9,326.6 1904.9,332.4 1904.9,337 1904.9,331 1904.9,325 1904.9,319 1904.9,313 1904.9,307 1904.9,301 1904.9,295 1904.9,289 1904.9,283 1904.9,280.2 1904.9,274.2 1910.9,274.2 1910.9,268.2 1910.9,262.3 1916.9,262.3 1916.9,256.3 1922.9,250.3 1922.9,244.3 1928.8,244.3 1928.8,238.3 1934.8,238.3 1940.8,238.3 1946.8,238.3 1952.8,238.3 1958.7,238.3 1964.7,238.3 1970.7,238.3 1976.7,238.3 1982.7,238.3 1982.7,244.3 1982.7,250.3 1988.6,250.3 1988.6,256.3 1988.6,262.3" fill="none" stroke="#f0f" stroke-width="2.5"/>
<path d="M236.5,244.8l-7,-12.8h14zM242.5,244.8l-7,-12.8h14zM248.5,244.8l-7,-12.8h14zM248.5,250.7l-7,-12.8h14zM254.4,250.7l-7,-12.8h14zM254.4,256.7l-7,-12.8h14zM260.4,256.7l-7,-12.8h14zM260.4,262.7l-7,-12.8h14zM266.4,262.7l-7,-12.8h14zM272.4,262.7l-7,-12.8h14zM272.4,268.7l-7,-12.8h14zM278.4,268.7l-7,-12.8h14zM278.4,274.6l-7,-12.8h14zM284.3,274.6l-7,-12.8h14zM290.3,274.6l-7,-12.8h14zM290.3,280.6l-7,-12.8h14zM296.3,280.6l-7,-12.8h14zM296.3,286.6l-7,-12.8h14zM302.3,286.6l-7,-12.8h14zM302.3,292.6l-7,-12.8h14zM308.3,292.6l-7,-12.8h14zM308.3,298.6l-7,-12.8h14zM314.2,298.6l-7,-12.8h14zM314.2,304.5l-7,-12.8h14zM320.2,304.5l-7,-12.8h14zM326.2,310.5l-7,-12.8h14zM332.2,310.5l-7,-12.8h14zM332.2,316.5l-7,-12.8h14zM338.2,316.5l-7,-12.8h14zM338.2,322.5l-7,-12.8h14zM344.1,322.5l-7,-12.8h14zM344.1,328.5l-7,-12.8h14zM350.1,328.5l-7,-12.8h14zM350.1,334.4l-7,-12.8h14zM350.1,340.4l-7,-12.8h14zM356.1,340.4l-7,-12.8h14zM356.1,346.4l-7,-12.8h14zM356.1,352.4l-7,-12.8h14zM362.1,352.4l-7,-12.8h14zM362.1,358.4l-7,-12.8h14zM362.1,364.3l-7,-12.8h14zM362.1,370.3l-7,-12.8h14zM368.1,370.3l-7,-12.8h14zM368.1,376.3l-7,-12.8h14zM368.1,382.3l-7,-12.8h14zM368.1,388.3l-7,-12.8h14zM374,388.3l-7,-12.8h14zM374,394.2l-7,-12.8h14zM374,400.2l-7,-12.8h14zM374,406.2l-7,-12.8h14zM380,406.2l-7,-12.8h14zM380,412.2l-7,-12.8h14zM380,418.2l-7,-12.8h14zM380,424.1l-7,-12.8h14zM386,430.1l-7,-12.8h14zM386,436.1l-7,-12.8h14zM386,442.1l-7,-12.8h14zM386,448.1l-7,-12.8h14zM386,454l-7,-12.8h14zM392,460l-7,-12.8h14zM392,466l-7,-12.8h14zM392,472l-7,-12.8h14zM392,478l-7,-12.8h14zM392,483.9l-7,-12.8h14zM392,489.9l-7,-12.8h14zM392,495.9l-7,-12.8h14zM392,501.9l-7,-12.8h14zM392,507.9l-7,-12.8h14zM398,507.9l-7,-12.8h14zM398,513.9l-7,-12.8h14zM398,519.8l-7,-12.8h14zM398,525.8l-7,-12.8h14zM398,531.8l-7,-12.8h14zM398,537.8l-7,-12.8h14zM398,543.8l-7,-12.8h14zM398,549.7l-7,-12.8h14zM398,555.7l-7,-12.8h14zM398,561.7l-7,-12.8h14zM398,567.7l-7,-12.8h14zM398,573.6l-7,-12.8h14zM403.9,573.6l-7,-12.8h14zM403.9,579.6l-7,-12.8h14zM403.9,585.6l-7,-12.8h14zM403.9,591.6l-7,-12.8h14zM403.9,597.6l-7,-12.8h14zM403.9,603.5l-7,-12.8h14zM403.9,609.5l-7,-12.8h14zM403.9,615.5l-7,-12.8h14zM403.9,621.5l-7,-12.8h14zM409.9,627.5l-7,-12.8h14zM409.9,633.5l-7,-12.8h14zM409.9,639.4l-7,-12.8h14zM409.9,645.4l-7,-12.8h14zM409.9,651.4l-7,-12.8h14zM409.9,657.4l-7,-12.8h14zM409.9,663.4l-7,-12.8h14zM409.9,669.3l-7,-12.8h14zM409.9,675.3l-7,-12.8h14zM409.9,681.3l-7,-12.8h14zM415.9,681.3l-7,-12.8h14zM415.9,687.3l-7,-12.8h14zM415.9,693.2l-7,-12.8h14zM415.9,699.2l-7,-12.8h14zM415.9,705.2l-7,-12.8h14zM415.9,711.2l-7,-12.8h14zM415.9,717.2l-7,-12.8h14zM421.9,717.2l-7,-12.8h14zM421.9,723.1l-7,-12.8h14zM421.9,729.1l-7,-12.8h14zM421.9,735.1l-7,-12.8h14zM421.9,741.1l-7,-12.8h14zM421.9,747.1l-7,-12.8h14zM427.9,747.1l-7,-12.8h14zM427.9,753l-7,-12.8h14zM427.9,759l-7,-12.8h14zM427.9,765l-7,-12.8h14zM427.9,771l-7,-12.8h14zM433.8,771l-7,-12.8h14zM433.8,777l-7,-12.8h14zM433.8,783l-7,-12.8h14zM433.8,788.9l-7,-12.8h14zM433.8,794.9l-7,-12.8h14zM433.8,800.9l-7,-12.8h14zM439.8,800.9l-7,-12.8h14zM439.8,806.9l-7,-12.8h14zM439.8,812.9l-7,-12.8h14zM439.8,818.8l-7,-12.8h14zM445.8,818.8l-7,-12.8h14zM445.8,824.8l-7,-12.8h14zM445.8,830.8l-7,-12.8h14zM445.8,836.8l-7,-12.8h14zM451.8,836.8l-7,-12.8h14zM451.8,842.8l-7,-12.8h14zM451.8,848.7l-7,-12.8h14zM451.8,854.7l-7,-12.8h14zM457.8,854.7l-7,-12.8h14zM457.8,860.7l-7,-12.8h14zM457.8,866.7l-7,-12.8h14zM463.7,866.7l-7,-12.8h14zM463.7,872.7l-7,-12.8h14zM463.7,878.6l-7,-12.8h14zM469.7,878.6l-7,-12.8h14zM469.7,884.6l-7,-12.8h14zM469.7,890.6l-7,-12.8h14zM475.7,896.6l-7,-12.8h14zM475.7,902.6l-7,-12.8h14zM481.7,902.6l-7,-12.8h14zM481.7,908.5l-7,-12.8h14zM481.7,914.5l-7,-12.8h14zM487.7,914.5l-7,-12.8h14zM487.7,920.5l-7,-12.8h14zM487.7,926.5l-7,-12.8h14zM493.6,926.5l-7,-12.8h14zM493.6,932.5l-7,-12.8h14zM493.6,938.4l-7,-12.8h14zM499.6,938.4l-7,-12.8h14zM499.6,944.4l-7,-12.8h14zM499.6,950.4l-7,-12.8h14zM505.6,950.4l-7,-12.8h14zM511.6,956.4l-7,-12.8h14zM517.6,956.4l-7,-12.8h14zM517.6,950.4l-7,-12.8h14zM523.5,950.4l-7,-12.8h14zM523.5,944.4l-7,-12.8h14zM523.5,938.4l-7,-12.8h14zM529.5,938.4l-7,-12.8h14zM529.5,932.5l-7,-12.8h14zM529.5,926.5l-7,-12.8h14zM535.5,926.5l-7,-12.8h14zM535.5,920.5l-7,-12.8h14zM535.5,914.5l-7,-12.8h14zM541.5,914.5l-7,-12.8h14zM541.5,908.5l-7,-12.8h14zM541.5,902.6l-7,-12.8h14zM541.5,896.6l-7,-12.8h14zM547.5,896.6l-7,-12.8h14zM547.5,890.6l-7,-12.8h14zM547.5,884.6l-7,-12.8h14zM553.4,884.6l-7,-12.8h14zM553.4,878.6l-7,-12.8h14zM553.4,872.7l-7,-12.8h14zM559.4,872.7l-7,-12.8h14zM559.4,866.7l-7,-12.8h14zM559.4,860.7l-7,-12.8h14zM559.4,854.7l-7,-12.8h14zM565.4,854.7l-7,-12.8h14zM565.4,848.7l-7,-12.8h14zM565.4,842.8l-7,-12.8h14zM571.4,842.8l-7,-12.8h14zM571.4,836.8l-7,-12.8h14zM571.4,830.8l-7,-12.8h14zM571.4,824.8l-7,-12.8h14zM577.4,824.8l-7,-12.8h14zM577.4,818.8l-7,-12.8h14zM577.4,812.9l-7,-12.8h14zM583.3,812.9l-7,-12.8h14zM583.3,806.9l-7,-12.8h14zM583.3,800.9l-7,-12.8h14zM583.3,794.9l-7,-12.8h14zM589.3,794.9l-7,-12.8h14zM589.3,788.9l-7,-12.8h14zM589.3,783l-7,-12.8h14zM595.3,783l-7,-12.8h14zM595.3,777l-7,-12.8h14zM595.3,771l-7,-12.8h14zM595.3,765l-7,-12.8h14zM601.3,765l-7,-12.8h14zM601.3,759l-7,-12.8h14zM601.3,753l-7,-12.8h14zM607.3,753l-7,-12.8h14zM607.3,747.1l-7,-12.8h14zM607.3,741.1l-7,-12.8h14zM607.3,735.1l-7,-12.8h14zM613.2,735.1l-7,-12.8h14zM613.2,729.1l-7,-12.8h14zM613.2,723.1l-7,-12.8h14zM619.2,723.1l-7,-12.8h14zM619.2,717.2l-7,-12.8h14zM619.2,711.2l-7,-12.8h14zM619.2,705.2l-7,-12.8h14zM625.2,705.2l-7,-12.8h14zM625.2,699.2l-7,-12.8h14zM625.2,693.2l-7,-12.8h14zM631.2,693.2l-7,-12.8h14zM631.2,687.3l-7,-12.8h14zM631.2,681.3l-7,-12.8h14zM631.2,675.3l-7,-12.8h14zM637.2,675.3l-7,-12.8h14zM637.2,669.3l-7,-12.8h14zM637.2,663.4l-7,-12.8h14zM637.2,657.4l-7,-12.8h14zM643.1,657.4l-7,-12.8h14zM643.1,651.4l-7,-12.8h14zM643.1,645.4l-7,-12.8h14zM649.1,645.4l-7,-12.8h14zM649.1,639.4l-7,-12.8h14zM649.1,633.5l-7,-12.8h14zM649.1,627.5l-7,-12.8h14zM649.1,621.5l-7,-12.8h14zM655.1,621.5l-7,-12.8h14zM655.1,615.5l-7,-12.8h14zM655.1,609.5l-7,-12.8h14zM655.1,603.5l-7,-12.8h14zM655.1,597.6l-7,-12.8h14zM661.1,597.6l-7,-12.8h14zM661.1,591.6l-7,-12.8h14zM661.1,585.6l-7,-12.8h14zM661.1,579.6l-7,-12.8h14zM661.1,573.6l-7,-12.8h14zM667.1,573.6l-7,-12.8h14zM667.1,567.7l-7,-12.8h14zM667.1,561.7l-7,-12.8h14zM667.1,555.7l-7,-12.8h14zM667.1,549.7l-7,-12.8h14zM673,549.7l-7,-12.8h14zM673,543.8l-7,-12.8h14zM673,537.8l-7,-12.8h14zM673,531.8l-7,-12.8h14zM679,525.8l-7,-12.8h14zM679,519.8l-7,-12.8h14zM679,513.9l-7,-12.8h14zM685,513.9l-7,-12.8h14zM685,507.9l-7,-12.8h14zM685,501.9l-7,-12.8h14zM691,501.9l-7,-12.8h14zM691,495.9l-7,-12.8h14zM691,489.9l-7,-12.8h14zM697,489.9l-7,-12.8h14zM697,483.9l-7,-12.8h14zM697,478l-7,-12.8h14zM702.9,478l-7,-12.8h14zM702.9,472l-7,-12.8h14zM708.9,472l-7,-12.8h14zM708.9,466l-7,-12.8h14zM708.9,460l-7,-12.8h14zM714.9,460l-7,-12.8h14zM714.9,454l-7,-12.8h14zM714.9,448.1l-7,-12.8h14zM720.9,448.1l-7,-12.8h14zM720.9,442.1l-7,-12.8h14zM726.9,442.1l-7,-12.8h14zM726.9,436.1l-7,-12.8h14zM732.8,430.1l-7,-12.8h14zM732.8,424.1l-7,-12.8h14zM738.8,424.1l-7,-12.8h14zM744.8,418.2l-7,-12.8h14zM750.8,418.2l-7,-12.8h14zM750.8,412.2l-7,-12.8h14zM756.8,412.2l-7,-12.8h14zM756.8,406.2l-7,-12.8h14zM762.7,400.2l-7,-12.8h14zM762.7,394.2l-7,-12.8h14zM768.7,394.2l-7,-12.8h14zM768.7,388.3l-7,-12.8h14zM774.7,388.3l-7,-12.8h14zM774.7,382.3l-7,-12.8h14zM780.7,382.3l-7,-12.8h14zM780.7,376.3l-7,-12.8h14zM786.7,376.3l-7,-12.8h14zM786.7,370.3l-7,-12.8h14zM786.7,364.3l-7,-12.8h14zM792.6,364.3l-7,-12.8h14zM792.6,358.4l-7,-12.8h14zM792.6,352.4l-7,-12.8h14zM798.6,352.4l-7,-12.8h14zM798.6,346.4l-7,-12.8h14zM798.6,340.4l-7,-12.8h14zM798.6,334.4l-7,-12.8h14zM804.6,334.4l-7,-12.8h14zM804.6,328.5l-7,-12.8h14zM810.6,328.5l-7,-12.8h14zM810.6,322.5l-7,-12.8h14zM816.6,322.5l-7,-12.8h14zM816.6,316.5l-7,-12.8h14zM822.5,316.5l-7,-12.8h14zM822.5,310.5l-7,-12.8h14zM822.5,304.5l-7,-12.8h14zM828.5,304.5l-7,-12.8h14zM828.5,298.6l-7,-12.8h14zM834.5,298.6l-7,-12.8h14zM834.5,292.6l-7,-12.8h14zM840.5,292.6l-7,-12.8h14zM840.5,286.6l-7,-12.8h14zM846.5,286.6l-7,-12.8h14zM846.5,280.6l-7,-12.8h14zM852.4,280.6l-7,-12.8h14zM852.4,274.6l-7,-12.8h14zM858.4,274.6l-7,-12.8h14zM858.4,268.7l-7,-12.8h14zM858.4,262.7l-7,-12.8h14zM864.4,262.7l-7,-12.8h14zM864.4,256.7l-7,-12.8h14zM870.4,256.7l-7,-12.8h14zM876.4,256.7l-7,-12.8h14zM882.3,256.7l-7,-12.8h14zM888.3,256.7l-7,-12.8h14zM894.3,256.7l-7,-12.8h14zM894.3,250.7l-7,-12.8h14zM900.3,250.7l-7,-12.8h14zM900.3,244.8l-7,-12.8h14zM906.3,244.8l-7,-12.8h14zM912.2,244.8l-7,-12.8h14zM918.2,244.8l-7,-12.8h14zM924.2,244.8l-7,-12.8h14zM930.2,244.8l-7,-12.8h14zM936.2,244.8l-7,-12.8h14zM942.1,244.8l-7,-12.8h14zM942.1,250.7l-7,-12.8h14zM948.1,250.7l-7,-12.8h14zM948.1,256.7l-7,-12.8h14zM954.1,256.7l-7,-12.8h14zM960.1,256.7l-7,-12.8h14zM960.1,262.7l-7,-12.8h14zM966.1,262.7l-7,-12.8h14zM972,262.7l-7,-12.8h14zM972,268.7l-7,-12.8h14zM978,268.7l-7,-12.8h14zM984,268.7l-7,-12.8h14zM990,268.7l-7,-12.8h14zM990,274.6l-7,-12.8h14zM996,274.6l-7,-12.8h14zM996,280.6l-7,-12.8h14zM1001.9,280.6l-7,-12.8h14zM1007.9,280.6l-7,-12.8h14zM1007.9,286.6l-7,-12.8h14zM1007.9,280.6l-7,-12.8h14zM1013.9,280.6l-7,-12.8h14zM1013.9,274.6l-7,-12.8h14zM1019.9,274.6l-7,-12.8h14zM1019.9,268.7l-7,-12.8h14zM1025.9,268.7l-7,-12.8h14zM1031.8,268.7l-7,-12.8h14zM1031.8,262.7l-7,-12.8h14zM1037.8,262.7l-7,-12.8h14zM1043.8,262.7l-7,-12.8h14zM1049.8,268.7l-7,-12.8h14zM1055.8,268.7l-7,-12.8h14zM1061.7,268.7l-7,-12.8h14zM1067.7,268.7l-7,-12.8h14zM1067.7,274.6l-7,-12.8h14zM1073.7,274.6l-7,-12.8h14zM1079.7,274.6l-7,-12.8h14zM1085.7,274.6l-7,-12.8h14zM1085.7,280.6l-7,-12.8h14zM1091.6,280.6l-7,-12.8h14zM1097.6,280.6l-7,-12.8h14zM1097.6,286.6l-7,-12.8h14zM1103.6,286.6l-7,-12.8h14zM1109.6,286.6l-7,-12.8h14zM1115.6,286.6l-7,-12.8h14zM1115.6,292.6l-7,-12.8h14zM1121.5,292.6l-7,-12.8h14zM1127.5,292.6l-7,-12.8h14zM1127.5,298.6l-7,-12.8h14zM1133.5,298.6l-7,-12.8h14zM1139.5,298.6l-7,-12.8h14zM1139.5,304.5l-7,-12.8h14zM1145.5,304.5l-7,-12.8h14zM1151.4,304.5l-7,-12.8h14zM1157.4,304.5l-7,-12.8h14zM1163.4,304.5l-7,-12.8h14zM1169.4,304.5l-7,-12.8h14zM1169.4,310.5l-7,-12.8h14zM1175.4,310.5l-7,-12.8h14zM1181.3,310.5l-7,-12.8h14zM1181.3,316.5l-7,-12.8h14zM1187.3,316.5l-7,-12.8h14zM1193.3,316.5l-7,-12.8h14zM1193.3,322.5l-7,-12.8h14zM1199.3,322.5l-7,-12.8h14zM1205.3,322.5l-7,-12.8h14zM1205.3,328.5l-7,-12.8h14zM1211.2,328.5l-7,-12.8h14zM1217.2,328.5l-7,-12.8h14zM1217.2,334.4l-7,-12.8h14zM1223.2,334.4l-7,-12.8h14zM1229.2,334.4l-7,-12.8h14zM1229.2,340.4l-7,-12.8h14zM1235.2,340.4l-7,-12.8h14zM1235.2,346.4l-7,-12.8h14zM1241.1,346.4l-7,-12.8h14zM1241.1,352.4l-7,-12.8h14zM1247.1,352.4l-7,-12.8h14zM1247.1,358.4l-7,-12.8h14zM1253.1,358.4l-7,-12.8h14zM1259.1,364.3l-7,-12.8h14zM1265.1,364.3l-7,-12.8h14zM1265.1,370.3l-7,-12.8h14zM1271,370.3l-7,-12.8h14zM1271,376.3l-7,-12.8h14zM1277,376.3l-7,-12.8h14zM1283,376.3l-7,-12.8h14zM1289,376.3l-7,-12.8h14zM1289,382.3l-7,-12.8h14zM1295,382.3l-7,-12.8h14zM1300.9,382.3l-7,-12.8h14zM1306.9,382.3l-7,-12.8h14zM1312.9,382.3l-7,-12.8h14zM1312.9,388.3l-7,-12.8h14zM1312.9,394.2l-7,-12.8h14zM1318.9,394.2l-7,-12.8h14zM1318.9,400.2l-7,-12.8h14zM1324.9,400.2l-7,-12.8h14zM1324.9,406.2l-7,-12.8h14zM1330.8,406.2l-7,-12.8h14zM1336.8,412.2l-7,-12.8h14zM1342.8,412.2l-7,-12.8h14zM1348.8,412.2l-7,-12.8h14zM1348.8,418.2l-7,-12.8h14zM1354.8,418.2l-7,-12.8h14zM1354.8,424.1l-7,-12.8h14zM1360.7,424.1l-7,-12.8h14zM1360.7,430.1l-7,-12.8h14zM1366.7,430.1l-7,-12.8h14zM1366.7,436.1l-7,-12.8h14zM1372.7,436.1l-7,-12.8h14zM1372.7,442.1l-7,-12.8h14zM1372.7,448.1l-7,-12.8h14zM1378.7,448.1l-7,-12.8h14zM1378.7,454l-7,-12.8h14zM1384.7,454l-7,-12.8h14zM1384.7,460l-7,-12.8h14zM1384.7,466l-7,-12.8h14zM1390.6,466l-7,-12.8h14zM1390.6,472l-7,-12.8h14zM1396.6,472l-7,-12.8h14zM1396.6,478l-7,-12.8h14zM1396.6,483.9l-7,-12.8h14zM1402.6,483.9l-7,-12.8h14zM1402.6,489.9l-7,-12.8h14zM1402.6,495.9l-7,-12.8h14zM1408.6,495.9l-7,-12.8h14zM1408.6,501.9l-7,-12.8h14zM1408.6,507.9l-7,-12.8h14zM1408.6,513.9l-7,-12.8h14zM1414.6,513.9l-7,-12.8h14zM1414.6,519.8l-7,-12.8h14zM1414.6,525.8l-7,-12.8h14zM1414.6,531.8l-7,-12.8h14zM1420.5,531.8l-7,-12.8h14zM1420.5,537.8l-7,-12.8h14zM1420.5,543.8l-7,-12.8h14zM1420.5,549.7l-7,-12.8h14zM1420.5,555.7l-7,-12.8h14zM1426.5,555.7l-7,-12.8h14zM1426.5,561.7l-7,-12.8h14zM1426.5,567.7l-7,-12.8h14zM1426.5,573.6l-7,-12.8h14zM1426.5,579.6l-7,-12.8h14zM1426.5,585.6l-7,-12.8h14zM1432.5,585.6l-7,-12.8h14zM1432.5,591.6l-7,-12.8h14zM1432.5,597.6l-7,-12.8h14zM1432.5,603.5l-7,-12.8h14zM1432.5,609.5l-7,-12.8h14zM1432.5,615.5l-7,-12.8h14zM1432.5,621.5l-7,-12.8h14zM1438.5,621.5l-7,-12.8h14zM1438.5,627.5l-7,-12.8h14zM1438.5,633.5l-7,-12.8h14zM1438.5,639.4l-7,-12.8h14zM1438.5,645.4l-7,-12.8h14zM1438.5,651.4l-7,-12.8h14zM1438.5,657.4l-7,-12.8h14zM1438.5,663.4l-7,-12.8h14zM1438.5,669.3l-7,-12.8h14zM1444.5,669.3l-7,-12.8h14zM1444.5,675.3l-7,-12.8h14zM1444.5,681.3l-7,-12.8h14zM1444.5,687.3l-7,-12.8h14zM1444.5,693.2l-7,-12.8h14zM1444.5,699.2l-7,-12.8h14zM1444.5,705.2l-7,-12.8h14zM1450.4,705.2l-7,-12.8h14zM1450.4,711.2l-7,-12.8h14zM1450.4,717.2l-7,-12.8h14zM1450.4,723.1l-7,-12.8h14zM1450.4,729.1l-7,-12.8h14zM1456.4,729.1l-7,-12.8h14zM1456.4,735.1l-7,-12.8h14zM1456.4,729.1l-7,-12.8h14zM1456.4,723.1l-7,-12.8h14zM1456.4,717.2l-7,-12.8h14zM1456.4,711.2l-7,-12.8h14zM1462.4,711.2l-7,-12.8h14zM1462.4,705.2l-7,-12.8h14zM1462.4,699.2l-7,-12.8h14zM1462.4,693.2l-7,-12.8h14zM1462.4,687.3l-7,-12.8h14zM1462.4,681.3l-7,-12.8h14zM1462.4,675.3l-7,-12.8h14zM1462.4,669.3l-7,-12.8h14zM1462.4,663.4l-7,-12.8h14zM1462.4,657.4l-7,-12.8h14zM1462.4,651.4l-7,-12.8h14zM1462.4,645.4l-7,-12.8h14zM1468.4,645.4l-7,-12.8h14zM1468.4,639.4l-7,-12.8h14zM1468.4,633.5l-7,-12.8h14zM1468.4,627.5l-7,-12.8h14zM1468.4,621.5l-7,-12.8h14zM1468.4,615.5l-7,-12.8h14zM1468.4,609.5l-7,-12.8h14zM1468.4,603.5l-7,-12.8h14zM1468.4,597.6l-7,-12.8h14zM1468.4,591.6l-7,-12.8h14zM1468.4,585.6l-7,-12.8h14zM1468.4,579.6l-7,-12.8h14zM1468.4,573.6l-7,-12.8h14zM1468.4,567.7l-7,-12.8h14zM1474.4,567.7l-7,-12.8h14zM1474.4,561.7l-7,-12.8h14zM1474.4,555.7l-7,-12.8h14zM1474.4,549.7l-7,-12.8h14zM1474.4,543.8l-7,-12.8h14zM1474.4,537.8l-7,-12.8h14zM1480.3,537.8l-7,-12.8h14zM1480.3,531.8l-7,-12.8h14zM1480.3,525.8l-7,-12.8h14zM1480.3,519.8l-7,-12.8h14zM1486.3,519.8l-7,-12.8h14zM1486.3,513.9l-7,-12.8h14zM1492.3,513.9l-7,-12.8h14zM1492.3,519.8l-7,-12.8h14zM1498.3,519.8l-7,-12.8h14zM1498.3,525.8l-7,-12.8h14zM1504.3,525.8l-7,-12.8h14zM1504.3,531.8l-7,-12.8h14zM1504.3,537.8l-7,-12.8h14zM1510.2,537.8l-7,-12.8h14zM1510.2,543.8l-7,-12.8h14zM1510.2,549.7l-7,-12.8h14zM1516.2,549.7l-7,-12.8h14zM1516.2,555.7l-7,-12.8h14zM1516.2,561.7l-7,-12.8h14zM1522.2,561.7l-7,-12.8h14zM1522.2,567.7l-7,-12.8h14zM1522.2,573.6l-7,-12.8h14zM1528.2,573.6l-7,-12.8h14zM1528.2,579.6l-7,-12.8h14zM1528.2,585.6l-7,-12.8h14zM1534.2,585.6l-7,-12.8h14zM1534.2,591.6l-7,-12.8h14zM1534.2,597.6l-7,-12.8h14zM1540.1,597.6l-7,-12.8h14zM1540.1,603.5l-7,-12.8h14zM1540.1,609.5l-7,-12.8h14zM1546.1,609.5l-7,-12.8h14zM1546.1,615.5l-7,-12.8h14zM1546.1,621.5l-7,-12.8h14zM1552.1,621.5l-7,-12.8h14zM1552.1,627.5l-7,-12.8h14zM1552.1,633.5l-7,-12.8h14zM1558.1,633.5l-7,-12.8h14zM1558.1,639.4l-7,-12.8h14zM1558.1,645.4l-7,-12.8h14zM1558.1,651.4l-7,-12.8h14zM1564.1,651.4l-7,-12.8h14zM1564.1,657.4l-7,-12.8h14zM1564.1,663.4l-7,-12.8h14zM1570,663.4l-7,-12.8h14zM1570,669.3l-7,-12.8h14zM1570,675.3l-7,-12.8h14zM1570,681.3l-7,-12.8h14zM1576,681.3l-7,-12.8h14zM1576,687.3l-7,-12.8h14zM1576,693.2l-7,-12.8h14zM1582,693.2l-7,-12.8h14zM1582,699.2l-7,-12.8h14zM1582,705.2l-7,-12.8h14zM1582,711.2l-7,-12.8h14zM1588,711.2l-7,-12.8h14zM1588,717.2l-7,-12.8h14zM1588,723.1l-7,-12.8h14zM1588,729.1l-7,-12.8h14zM1594,729.1l-7,-12.8h14zM1594,735.1l-7,-12.8h14zM1594,741.1l-7,-12.8h14zM1594,747.1l-7,-12.8h14zM1594,753l-7,-12.8h14zM1599.9,753l-7,-12.8h14zM1599.9,759l-7,-12.8h14zM1599.9,765l-7,-12.8h14zM1599.9,771l-7,-12.8h14zM1605.9,771l-7,-12.8h14zM1605.9,777l-7,-12.8h14zM1605.9,783l-7,-12.8h14zM1605.9,788.9l-7,-12.8h14zM1605.9,794.9l-7,-12.8h14zM1611.9,794.9l-7,-12.8h14zM1611.9,800.9l-7,-12.8h14zM1611.9,806.9l-7,-12.8h14zM1611.9,812.9l-7,-12.8h14zM1611.9,818.8l-7,-12.8h14zM1611.9,824.8l-7,-12.8h14zM1617.9,824.8l-7,-12.8h14zM1617.9,830.8l-7,-12.8h14zM1617.9,836.8l-7,-12.8h14zM1617.9,842.8l-7,-12.8h14zM1617.9,848.7l-7,-12.8h14zM1617.9,854.7l-7,-12.8h14zM1617.9,860.7l-7,-12.8h14zM1623.9,860.7l-7,-12.8h14zM1623.9,866.7l-7,-12.8h14zM1623.9,872.7l-7,-12.8h14zM1623.9,878.6l-7,-12.8h14zM1623.9,884.6l-7,-12.8h14zM1623.9,890.6l-7,-12.8h14zM1629.8,890.6l-7,-12.8h14zM1629.8,896.6l-7,-12.8h14zM1629.8,902.6l-7,-12.8h14zM1629.8,908.5l-7,-12.8h14zM1629.8,914.5l-7,-12.8h14zM1629.8,920.5l-7,-12.8h14zM1629.8,926.5l-7,-12.8h14zM1635.8,926.5l-7,-12.8h14zM1635.8,932.5l-7,-12.8h14zM1635.8,938.4l-7,-12.8h14zM1635.8,944.4l-7,-12.8h14zM1635.8,950.4l-7,-12.8h14zM1635.8,956.4l-7,-12.8h14zM1635.8,962.4l-7,-12.8h14zM1641.8,968.3l-7,-12.8h14zM1641.8,974.3l-7,-12.8h14zM1641.8,980.3l-7,-12.8h14zM1641.8,986.3l-7,-12.8h14zM1641.8,992.2l-7,-12.8h14zM1641.8,998.2l-7,-12.8h14zM1641.8,1004.2l-7,-12.8h14zM1641.8,1010.2l-7,-12.8h14zM1641.8,1016.2l-7,-12.8h14zM1641.8,1022.2l-7,-12.8h14zM1641.8,1028.1l-7,-12.8h14zM1641.8,1034.1l-7,-12.8h14zM1641.8,1040.1l-7,-12.8h14zM1641.8,1046.1l-7,-12.8h14zM1647.8,1046.1l-7,-12.8h14zM1647.8,1052.1l-7,-12.8h14zM1647.8,1058l-7,-12.8h14zM1647.8,1064l-7,-12.8h14zM1647.8,1070l-7,-12.8h14zM1647.8,1076l-7,-12.8h14zM1647.8,1082l-7,-12.8h14zM1647.8,1087.9l-7,-12.8h14zM1647.8,1093.9l-7,-12.8h14zM1647.8,1099.9l-7,-12.8h14zM1647.8,1105.9l-7,-12.8h14zM1647.8,1111.9l-7,-12.8h14zM1647.8,1117.8l-7,-12.8h14zM1647.8,1123.8l-7,-12.8h14zM1647.8,1129.8l-7,-12.8h14zM1653.8,1129.8l-7,-12.8h14zM1653.8,1135.8l-7,-12.8h14zM1653.8,1141.8l-7,-12.8h14zM1653.8,1147.7l-7,-12.8h14zM1653.8,1153.7l-7,-12.8h14zM1653.8,1159.7l-7,-12.8h14zM1653.8,1165.7l-7,-12.8h14zM1653.8,1171.7l-7,-12.8h14zM1653.8,1177.6l-7,-12.8h14zM1659.7,1177.6l-7,-12.8h14zM1659.7,1183.6l-7,-12.8h14zM1659.7,1189.6l-7,-12.8h14zM1659.7,1195.6l-7,-12.8h14zM1659.7,1201.6l-7,-12.8h14zM1659.7,1207.5l-7,-12.8h14zM1665.7,1213.5l-7,-12.8h14zM1665.7,1219.5l-7,-12.8h14zM1665.7,1225.5l-7,-12.8h14zM1665.7,1231.5l-7,-12.8h14zM1665.7,1237.4l-7,-12.8h14zM1671.7,1237.4l-7,-12.8h14zM1671.7,1243.4l-7,-12.8h14zM1671.7,1249.4l-7,-12.8h14zM1677.7,1249.4l-7,-12.8h14zM1677.7,1255.4l-7,-12.8h14zM1677.7,1261.4l-7,-12.8h14zM1683.7,1261.4l-7,-12.8h14zM1683.7,1267.3l-7,-12.8h14zM1683.7,1273.3l-7,-12.8h14zM1689.6,1273.3l-7,-12.8h14zM1689.6,1279.3l-7,-12.8h14zM1695.6,1279.3l-7,-12.8h14zM1695.6,1285.3l-7,-12.8h14zM1701.6,1291.2l-7,-12.8h14zM1707.6,1297.2l-7,-12.8h14zM1713.6,1303.2l-7,-12.8h14zM1713.6,1309.2l-7,-12.8h14zM1719.5,1309.2l-7,-12.8h14zM1719.5,1315.2l-7,-12.8h14zM1719.5,1321.2l-7,-12.8h14zM1725.5,1321.2l-7,-12.8h14zM1725.5,1327.1l-7,-12.8h14zM1725.5,1333.1l-7,-12.8h14zM1731.5,1333.1l-7,-12.8h14zM1731.5,1339.1l-7,-12.8h14zM1737.5,1339.1l-7,-12.8h14zM1743.5,1339.1l-7,-12.8h14zM1749.4,1339.1l-7,-12.8h14zM1749.4,1333.1l-7,-12.8h14zM1749.4,1327.1l-7,-12.8h14zM1755.4,1327.1l-7,-12.8h14zM1755.4,1321.2l-7,-12.8h14zM1755.4,1315.2l-7,-12.8h14zM1755.4,1309.2l-7,-12.8h14zM1755.4,1303.2l-7,-12.8h14zM1755.4,1297.2l-7,-12.8h14zM1755.4,1291.2l-7,-12.8h14zM1761.4,1291.2l-7,-12.8h14zM1761.4,1285.3l-7,-12.8h14zM1761.4,1279.3l-7,-12.8h14zM1761.4,1273.3l-7,-12.8h14zM1761.4,1267.3l-7,-12.8h14zM1761.4,1261.4l-7,-12.8h14zM1761.4,1255.4l-7,-12.8h14zM1761.4,1249.4l-7,-12.8h14zM1761.4,1243.4l-7,-12.8h14zM1761.4,1237.4l-7,-12.8h14zM1761.4,1231.5l-7,-12.8h14zM1767.4,1231.5l-7,-12.8h14zM1767.4,1225.5l-7,-12.8h14zM1767.4,1219.5l-7,-12.8h14zM1767.4,1213.5l-7,-12.8h14zM1767.4,1207.5l-7,-12.8h14zM1767.4,1201.6l-7,-12.8h14zM1767.4,1195.6l-7,-12.8h14zM1767.4,1189.6l-7,-12.8h14zM1767.4,1183.6l-7,-12.8h14zM1767.4,1177.6l-7,-12.8h14zM1767.4,1171.7l-7,-12.8h14zM1767.4,1165.7l-7,-12.8h14zM1767.4,1159.7l-7,-12.8h14zM1767.4,1153.7l-7,-12.8h14zM1767.4,1156.4l-7,-12.8h14zM1767.4,1138.4l-7,-12.8h14zM1767.4,1128.4l-7,-12.8h14zM1773.4,1111.2l-7,-12.8h14zM1773.4,1092.4l-7,-12.8h14zM1773.4,1074.4l-7,-12.8h14zM1773.4,1056.4l-7,-12.8h14zM1773.4,1038.4l-7,-12.8h14zM1773.4,1020.4l-7,-12.8h14zM1773.4,996.4l-7,-12.8h14zM1773.4,972.4l-7,-12.8h14zM1773.4,948.4l-7,-12.8h14zM1773.4,924.4l-7,-12.8h14zM1773.4,900.4l-7,-12.8h14zM1773.4,876.4l-7,-12.8h14zM1773.4,858.4l-7,-12.8h14zM1779.3,835.2l-7,-12.8h14zM1779.3,810.4l-7,-12.8h14zM1779.3,786.4l-7,-12.8h14zM1779.3,762.4l-7,-12.8h14zM1779.3,738.4l-7,-12.8h14zM1779.3,721.4l-7,-12.8h14zM1779.3,703.4l-7,-12.8h14zM1779.3,685.4l-7,-12.8h14zM1779.3,667.4l-7,-12.8h14zM1779.3,649.4l-7,-12.8h14zM1779.3,631.4l-7,-12.8h14zM1779.3,613.4l-7,-12.8h14zM1779.3,595.4l-7,-12.8h14zM1779.3,590.4l-7,-12.8h14zM1779.3,584.7l-7,-12.8h14zM1785.3,578.9l-7,-12.8h14zM1785.3,573.2l-7,-12.8h14zM1785.3,566.4l-7,-12.8h14zM1785.3,560.4l-7,-12.8h14zM1785.3,554.4l-7,-12.8h14zM1785.3,548.4l-7,-12.8h14zM1785.3,554.2l-7,-12.8h14zM1791.3,560l-7,-12.8h14zM1791.3,565.8l-7,-12.8h14zM1791.3,571.6l-7,-12.8h14zM1791.3,584.4l-7,-12.8h14zM1791.3,596.4l-7,-12.8h14zM1791.3,608.4l-7,-12.8h14zM1791.3,626.4l-7,-12.8h14zM1791.3,644.4l-7,-12.8h14zM1791.3,662.4l-7,-12.8h14zM1791.3,680.4l-7,-12.8h14zM1791.3,698.4l-7,-12.8h14zM1791.3,715.4l-7,-12.8h14zM1791.3,727.4l-7,-12.8h14zM1791.3,739.4l-7,-12.8h14zM1791.3,751.4l-7,-12.8h14zM1797.3,757.4l-7,-12.8h14zM1797.3,769.4l-7,-12.8h14zM1797.3,781.4l-7,-12.8h14zM1797.3,793.4l-7,-12.8h14zM1797.3,794.9l-7,-12.8h14zM1797.3,800.9l-7,-12.8h14zM1797.3,806.9l-7,-12.8h14zM1803.3,806.9l-7,-12.8h14zM1803.3,812.9l-7,-12.8h14zM1803.3,818.8l-7,-12.8h14zM1803.3,824.8l-7,-12.8h14zM1803.3,830.8l-7,-12.8h14zM1803.3,824.8l-7,-12.8h14zM1809.2,824.8l-7,-12.8h14zM1809.2,818.8l-7,-12.8h14zM1809.2,812.9l-7,-12.8h14zM1815.2,812.9l-7,-12.8h14zM1815.2,806.9l-7,-12.8h14zM1815.2,800.9l-7,-12.8h14zM1815.2,794.9l-7,-12.8h14zM1815.2,788.9l-7,-12.8h14zM1815.2,783l-7,-12.8h14zM1815.2,777l-7,-12.8h14zM1815.2,771l-7,-12.8h14zM1815.2,765l-7,-12.8h14zM1815.2,759l-7,-12.8h14zM1815.2,753l-7,-12.8h14zM1815.2,747.1l-7,-12.8h14zM1815.2,741.1l-7,-12.8h14zM1815.2,735.1l-7,-12.8h14zM1815.2,729.1l-7,-12.8h14zM1815.2,723.1l-7,-12.8h14zM1815.2,717.2l-7,-12.8h14zM1815.2,711.2l-7,-12.8h14zM1815.2,705.2l-7,-12.8h14zM1815.2,699.2l-7,-12.8h14zM1815.2,693.2l-7,-12.8h14zM1815.2,687.3l-7,-12.8h14zM1815.2,681.3l-7,-12.8h14zM1815.2,675.3l-7,-12.8h14zM1815.2,669.3l-7,-12.8h14zM1815.2,663.4l-7,-12.8h14zM1815.2,657.4l-7,-12.8h14zM1821.2,667.7l-7,-12.8h14zM1821.2,673.4l-7,-12.8h14zM1821.2,661.4l-7,-12.8h14zM1821.2,649.4l-7,-12.8h14zM1821.2,637.4l-7,-12.8h14zM1821.2,625.4l-7,-12.8h14zM1821.2,613.4l-7,-12.8h14zM1821.2,601.4l-7,-12.8h14zM1821.2,589.4l-7,-12.8h14zM1821.2,577.4l-7,-12.8h14zM1821.2,565.4l-7,-12.8h14zM1821.2,553.4l-7,-12.8h14zM1827.2,559.4l-7,-12.8h14zM1827.2,562.4l-7,-12.8h14zM1827.2,553.4l-7,-12.8h14zM1827.2,544.4l-7,-12.8h14zM1827.2,535.4l-7,-12.8h14zM1827.2,526.4l-7,-12.8h14zM1827.2,517.4l-7,-12.8h14zM1827.2,508.4l-7,-12.8h14zM1827.2,499.4l-7,-12.8h14zM1827.2,490.4l-7,-12.8h14zM1827.2,481.4l-7,-12.8h14zM1827.2,472.4l-7,-12.8h14zM1827.2,463.4l-7,-12.8h14zM1833.2,462.4l-7,-12.8h14zM1833.2,456.4l-7,-12.8h14zM1833.2,450.4l-7,-12.8h14zM1833.2,444.4l-7,-12.8h14zM1833.2,438.4l-7,-12.8h14zM1833.2,432.4l-7,-12.8h14zM1833.2,426.4l-7,-12.8h14zM1833.2,420.4l-7,-12.8h14zM1833.2,414.4l-7,-12.8h14zM1833.2,408.4l-7,-12.8h14zM1833.2,402.4l-7,-12.8h14zM1833.2,396.4l-7,-12.8h14zM1833.2,390.4l-7,-12.8h14zM1833.2,384.4l-7,-12.8h14zM1833.2,378.4l-7,-12.8h14zM1833.2,372.4l-7,-12.8h14zM1839.1,370.4l-7,-12.8h14zM1839.1,364.4l-7,-12.8h14zM1839.1,358.4l-7,-12.8h14zM1839.1,352.4l-7,-12.8h14zM1839.1,346.4l-7,-12.8h14zM1839.1,340.4l-7,-12.8h14zM1839.1,334.4l-7,-12.8h14zM1839.1,328.4l-7,-12.8h14zM1839.1,322.4l-7,-12.8h14zM1839.1,316.4l-7,-12.8h14zM1839.1,310.4l-7,-12.8h14zM1839.1,304.4l-7,-12.8h14zM1845.1,308.9l-7,-12.8h14zM1845.1,314.3l-7,-12.8h14zM1845.1,316.4l-7,-12.8h14zM1845.1,310.4l-7,-12.8h14zM1845.1,304.4l-7,-12.8h14zM1845.1,298.4l-7,-12.8h14zM1845.1,292.4l-7,-12.8h14zM1845.1,286.4l-7,-12.8h14zM1845.1,280.4l-7,-12.8h14zM1845.1,274.4l-7,-12.8h14zM1845.1,268.4l-7,-12.8h14zM1845.1,262.4l-7,-12.8h14zM1845.1,256.4l-7,-12.8h14zM1851.1,260.6l-7,-12.8h14zM1851.1,256.4l-7,-12.8h14zM1851.1,250.4l-7,-12.8h14zM1851.1,244.4l-7,-12.8h14zM1851.1,238.4l-7,-12.8h14zM1857.1,238.4l-7,-12.8h14zM1857.1,244.4l-7,-12.8h14zM1857.1,250.4l-7,-12.8h14zM1857.1,256.4l-7,-12.8h14zM1857.1,262.4l-7,-12.8h14zM1863.1,266.3l-7,-12.8h14zM1863.1,279.4l-7,-12.8h14zM1863.1,291.4l-7,-12.8h14zM1863.1,303.4l-7,-12.8h14zM1863.1,315.4l-7,-12.8h14zM1863.1,327.4l-7,-12.8h14zM1863.1,339.4l-7,-12.8h14zM1863.1,351.4l-7,-12.8h14zM1863.1,363.4l-7,-12.8h14zM1863.1,375.4l-7,-12.8h14zM1863.1,386.4l-7,-12.8h14zM1869,386.4l-7,-12.8h14zM1869,398.4l-7,-12.8h14zM1869,410.4l-7,-12.8h14zM1869,422.4l-7,-12.8h14zM1869,434.4l-7,-12.8h14zM1869,446.4l-7,-12.8h14zM1869,458.4l-7,-12.8h14zM1869,470.4l-7,-12.8h14zM1869,482.4l-7,-12.8h14zM1869,494.4l-7,-12.8h14zM1869,506.4l-7,-12.8h14zM1869,518.4l-7,-12.8h14zM1869,530.4l-7,-12.8h14zM1869,533.4l-7,-12.8h14zM1875,521.7l-7,-12.8h14zM1875,510l-7,-12.8h14zM1875,520.4l-7,-12.8h14zM1875,532.4l-7,-12.8h14zM1875,544.4l-7,-12.8h14zM1875,556.4l-7,-12.8h14zM1875,568.4l-7,-12.8h14zM1875,580.4l-7,-12.8h14zM1875,592.4l-7,-12.8h14zM1875,604.4l-7,-12.8h14zM1875,616.4l-7,-12.8h14zM1875,620.4l-7,-12.8h14zM1875,614.5l-7,-12.8h14zM1875,608.5l-7,-12.8h14zM1875,602.6l-7,-12.8h14zM1881,596.6l-7,-12.8h14zM1881,590.7l-7,-12.8h14zM1881,584.7l-7,-12.8h14zM1881,578.8l-7,-12.8h14zM1881,572.8l-7,-12.8h14zM1881,578.4l-7,-12.8h14zM1881,584.4l-7,-12.8h14zM1881,590.4l-7,-12.8h14zM1881,596.4l-7,-12.8h14zM1881,602.4l-7,-12.8h14zM1881,608.4l-7,-12.8h14zM1881,614.4l-7,-12.8h14zM1881,620.4l-7,-12.8h14zM1881,626.4l-7,-12.8h14zM1881,632.4l-7,-12.8h14zM1881,638.4l-7,-12.8h14zM1881,644.4l-7,-12.8h14zM1881,645.4l-7,-12.8h14zM1881,651.4l-7,-12.8h14zM1887,651.4l-7,-12.8h14zM1887,645.4l-7,-12.8h14zM1893,645.4l-7,-12.8h14zM1893,639.4l-7,-12.8h14zM1893,633.5l-7,-12.8h14zM1893,623.4l-7,-12.8h14zM1893,611.4l-7,-12.8h14zM1893,599.4l-7,-12.8h14zM1893,587.4l-7,-12.8h14zM1893,575.4l-7,-12.8h14zM1893,563.4l-7,-12.8h14zM1893,551.4l-7,-12.8h14zM1893,539.4l-7,-12.8h14zM1893,527.4l-7,-12.8h14zM1893,515.4l-7,-12.8h14zM1893,506.4l-7,-12.8h14zM1898.9,508.4l-7,-12.8h14zM1898.9,490.4l-7,-12.8h14zM1898.9,472.4l-7,-12.8h14zM1898.9,454.4l-7,-12.8h14zM1898.9,436.4l-7,-12.8h14zM1898.9,418.4l-7,-12.8h14zM1898.9,400.4l-7,-12.8h14zM1898.9,382.4l-7,-12.8h14zM1898.9,364.4l-7,-12.8h14zM1898.9,346.4l-7,-12.8h14zM1898.9,328.4l-7,-12.8h14zM1898.9,321.4l-7,-12.8h14zM1898.9,327.2l-7,-12.8h14zM1904.9,333l-7,-12.8h14zM1904.9,338.8l-7,-12.8h14zM1904.9,343.4l-7,-12.8h14zM1904.9,337.4l-7,-12.8h14zM1904.9,331.4l-7,-12.8h14zM1904.9,325.4l-7,-12.8h14zM1904.9,319.4l-7,-12.8h14zM1904.9,313.4l-7,-12.8h14zM1904.9,307.4l-7,-12.8h14zM1904.9,301.4l-7,-12.8h14zM1904.9,295.4l-7,-12.8h14zM1904.9,289.4l-7,-12.8h14zM1904.9,286.6l-7,-12.8h14zM1904.9,280.6l-7,-12.8h14zM1910.9,280.6l-7,-12.8h14zM1910.9,274.6l-7,-12.8h14zM1910.9,268.7l-7,-12.8h14zM1916.9,268.7l-7,-12.8h14zM1916.9,262.7l-7,-12.8h14zM1922.9,256.7l-7,-12.8h14zM1922.9,250.7l-7,-12.8h14zM1928.8,250.7l-7,-12.8h14zM1928.8,244.8l-7,-12.8h14zM1934.8,244.8l-7,-12.8h14zM1940.8,244.8l-7,-12.8h14zM1946.8,244.8l-7,-12.8h14zM1952.8,244.8l-7,-12.8h14zM1958.7,244.8l-7,-12.8h14zM1964.7,244.8l-7,-12.8h14zM1970.7,244.8l-7,-12.8h14zM1976.7,244.8l-7,-12.8h14zM1982.7,244.8l-7,-12.8h14zM1982.7,250.7l-7,-12.8h14zM1982.7,256.7l-7,-12.8h14zM1988.6,256.7l-7,-12.8h14zM1988.6,262.7l-7,-12.8h14zM1988.6,268.7l-7,-12.8h14zM236.5,244.8L229.5,231.9H249.5zM242.5,244.8L229.5,231.9H249.5zM242.5,244.8L235.5,231.9H255.5zM248.5,244.8L235.5,231.9H255.5zM248.5,250.7L241.5,237.9H261.4zM254.4,250.7L241.5,237.9H261.4zM254.4,256.7L247.4,243.9H267.4zM260.4,256.7L247.4,243.9H267.4zM260.4,262.7L253.4,249.9H273.4zM266.4,262.7L253.4,249.9H273.4zM266.4,262.7L259.4,249.9H279.4zM272.4,262.7L259.4,249.9H279.4zM272.4,268.7L265.4,255.9H285.4zM278.4,268.7L265.4,255.9H285.4zM278.4,274.6L271.4,261.9H291.3zM284.3,274.6L271.4,261.9H291.3zM284.3,274.6L277.3,261.9H297.3zM290.3,274.6L277.3,261.9H297.3zM290.3,280.6L283.3,267.8H303.3zM296.3,280.6L283.3,267.8H303.3zM296.3,286.6L289.3,273.8H309.3zM302.3,286.6L289.3,273.8H309.3zM302.3,292.6L295.3,279.8H315.3zM308.3,292.6L295.3,279.8H315.3zM308.3,298.6L301.3,285.8H321.2zM314.2,298.6L301.3,285.8H321.2zM314.2,304.5L307.2,291.8H327.2zM320.2,304.5L307.2,291.8H327.2zM326.2,310.5L319.2,297.7H339.2zM332.2,310.5L319.2,297.7H339.2zM332.2,316.5L325.2,303.7H345.2zM338.2,316.5L325.2,303.7H345.2zM338.2,322.5L331.2,309.7H351.1zM344.1,322.5L331.2,309.7H351.1zM344.1,328.5L337.1,315.7H357.1zM350.1,328.5L337.1,315.7H357.1zM350.1,340.4L343.1,327.6H363.1zM356.1,340.4L343.1,327.6H363.1zM356.1,352.4L349.1,339.6H369.1zM362.1,352.4L349.1,339.6H369.1zM362.1,370.3L355.1,357.5H375.1zM368.1,370.3L355.1,357.5H375.1zM368.1,388.3L361.1,375.5H381zM374,388.3L361.1,375.5H381zM374,406.2L367,393.4H387zM380,406.2L367,393.4H387zM392,507.9L385,495.1H405zM398,507.9L385,495.1H405zM398,573.6L391,560.9H410.9zM403.9,573.6L391,560.9H410.9zM409.9,681.3L402.9,668.5H422.9zM415.9,681.3L402.9,668.5H422.9zM415.9,717.2L408.9,704.4H428.9zM421.9,717.2L408.9,704.4H428.9zM421.9,747.1L414.9,734.3H434.9zM427.9,747.1L414.9,734.3H434.9zM427.9,771L420.9,758.2H440.8zM433.8,771L420.9,758.2H440.8zM433.8,800.9L426.8,788.1H446.8zM439.8,800.9L426.8,788.1H446.8zM439.8,818.8L432.8,806H452.8zM445.8,818.8L432.8,806H452.8zM445.8,836.8L438.8,824H458.8zM451.8,836.8L438.8,824H458.8zM451.8,854.7L444.8,841.9H464.8zM457.8,854.7L444.8,841.9H464.8zM457.8,866.7L450.8,853.9H470.7zM463.7,866.7L450.8,853.9H470.7zM463.7,878.6L456.7,865.8H476.7zM469.7,878.6L456.7,865.8H476.7zM475.7,902.6L468.7,889.8H488.7zM481.7,902.6L468.7,889.8H488.7zM481.7,914.5L474.7,901.7H494.7zM487.7,914.5L474.7,901.7H494.7zM487.7,926.5L480.7,913.7H500.6zM493.6,926.5L480.7,913.7H500.6zM493.6,938.4L486.6,925.6H506.6zM499.6,938.4L486.6,925.6H506.6zM499.6,950.4L492.6,937.6H512.6zM505.6,950.4L492.6,937.6H512.6zM511.6,956.4L504.6,943.6H524.6zM517.6,956.4L504.6,943.6H524.6zM517.6,950.4L510.6,937.6H530.5zM523.5,950.4L510.6,937.6H530.5zM523.5,938.4L516.5,925.6H536.5zM529.5,938.4L516.5,925.6H536.5zM529.5,926.5L522.5,913.7H542.5zM535.5,926.5L522.5,913.7H542.5zM535.5,914.5L528.5,901.7H548.5zM541.5,914.5L528.5,901.7H548.5zM541.5,896.6L534.5,883.8H554.5zM547.5,896.6L534.5,883.8H554.5zM547.5,884.6L540.5,871.8H560.4zM553.4,884.6L540.5,871.8H560.4zM553.4,872.7L546.4,859.9H566.4zM559.4,872.7L546.4,859.9H566.4zM559.4,854.7L552.4,841.9H572.4zM565.4,854.7L552.4,841.9H572.4zM565.4,842.8L558.4,830H578.4zM571.4,842.8L558.4,830H578.4zM571.4,824.8L564.4,812H584.4zM577.4,824.8L564.4,812H584.4zM577.4,812.9L570.4,800.1H590.3zM583.3,812.9L570.4,800.1H590.3zM583.3,794.9L576.3,782.1H596.3zM589.3,794.9L576.3,782.1H596.3zM589.3,783L582.3,770.2H602.3zM595.3,783L582.3,770.2H602.3zM595.3,765L588.3,752.2H608.3zM601.3,765L588.3,752.2H608.3zM601.3,753L594.3,740.2H614.3zM607.3,753L594.3,740.2H614.3zM607.3,735.1L600.3,722.3H620.2zM613.2,735.1L600.3,722.3H620.2zM613.2,723.1L606.2,710.4H626.2zM619.2,723.1L606.2,710.4H626.2zM619.2,705.2L612.2,692.4H632.2zM625.2,705.2L612.2,692.4H632.2zM625.2,693.2L618.2,680.5H638.2zM631.2,693.2L618.2,680.5H638.2zM631.2,675.3L624.2,662.5H644.2zM637.2,675.3L624.2,662.5H644.2zM637.2,657.4L630.2,644.6H650.1zM643.1,657.4L630.2,644.6H650.1zM643.1,645.4L636.1,632.6H656.1zM649.1,645.4L636.1,632.6H656.1zM649.1,621.5L642.1,608.7H662.1zM655.1,621.5L642.1,608.7H662.1zM655.1,597.6L648.1,584.8H668.1zM661.1,597.6L648.1,584.8H668.1zM661.1,573.6L654.1,560.9H674.1zM667.1,573.6L654.1,560.9H674.1zM667.1,549.7L660.1,536.9H680zM673,549.7L660.1,536.9H680zM679,513.9L672,501.1H692zM685,513.9L672,501.1H692zM685,501.9L678,489.1H698zM691,501.9L678,489.1H698zM691,489.9L684,477.1H704zM697,489.9L684,477.1H704zM697,478L690,465.2H709.9zM702.9,478L690,465.2H709.9zM702.9,472L695.9,459.2H715.9zM708.9,472L695.9,459.2H715.9zM708.9,460L701.9,447.2H721.9zM714.9,460L701.9,447.2H721.9zM714.9,448.1L707.9,435.3H727.9zM720.9,448.1L707.9,435.3H727.9zM720.9,442.1L713.9,429.3H733.9zM726.9,442.1L713.9,429.3H733.9zM732.8,424.1L725.8,411.4H745.8zM738.8,424.1L725.8,411.4H745.8zM744.8,418.2L737.8,405.4H757.8zM750.8,418.2L737.8,405.4H757.8zM750.8,412.2L743.8,399.4H763.8zM756.8,412.2L743.8,399.4H763.8zM762.7,394.2L755.7,381.5H775.7zM768.7,394.2L755.7,381.5H775.7zM768.7,388.3L761.7,375.5H781.7zM774.7,388.3L761.7,375.5H781.7zM774.7,382.3L767.7,369.5H787.7zM780.7,382.3L767.7,369.5H787.7zM780.7,376.3L773.7,363.5H793.7zM786.7,376.3L773.7,363.5H793.7zM786.7,364.3L779.7,351.6H799.6zM792.6,364.3L779.7,351.6H799.6zM792.6,352.4L785.6,339.6H805.6zM798.6,352.4L785.6,339.6H805.6zM798.6,334.4L791.6,321.7H811.6zM804.6,334.4L791.6,321.7H811.6zM804.6,328.5L797.6,315.7H817.6zM810.6,328.5L797.6,315.7H817.6zM810.6,322.5L803.6,309.7H823.6zM816.6,322.5L803.6,309.7H823.6zM816.6,316.5L809.6,303.7H829.5zM822.5,316.5L809.6,303.7H829.5zM822.5,304.5L815.5,291.8H835.5zM828.5,304.5L815.5,291.8H835.5zM828.5,298.6L821.5,285.8H841.5zM834.5,298.6L821.5,285.8H841.5zM834.5,292.6L827.5,279.8H847.5zM840.5,292.6L827.5,279.8H847.5zM840.5,286.6L833.5,273.8H853.5zM846.5,286.6L833.5,273.8H853.5zM846.5,280.6L839.5,267.8H859.4zM852.4,280.6L839.5,267.8H859.4zM852.4,274.6L845.4,261.9H865.4zM858.4,274.6L845.4,261.9H865.4zM858.4,262.7L851.4,249.9H871.4zM864.4,262.7L851.4,249.9H871.4zM864.4,256.7L857.4,243.9H877.4zM870.4,256.7L857.4,243.9H877.4zM870.4,256.7L863.4,243.9H883.4zM876.4,256.7L863.4,243.9H883.4zM876.4,256.7L869.4,243.9H889.3zM882.3,256.7L869.4,243.9H889.3zM882.3,256.7L875.3,243.9H895.3zM888.3,256.7L875.3,243.9H895.3zM888.3,256.7L881.3,243.9H901.3zM894.3,256.7L881.3,243.9H901.3zM894.3,250.7L887.3,237.9H907.3zM900.3,250.7L887.3,237.9H907.3zM900.3,244.8L893.3,231.9H913.3zM906.3,244.8L893.3,231.9H913.3zM906.3,244.8L899.3,231.9H919.2zM912.2,244.8L899.3,231.9H919.2zM912.2,244.8L905.2,231.9H925.2zM918.2,244.8L905.2,231.9H925.2zM918.2,244.8L911.2,231.9H931.2zM924.2,244.8L911.2,231.9H931.2zM924.2,244.8L917.2,231.9H937.2zM930.2,244.8L917.2,231.9H937.2zM930.2,244.8L923.2,231.9H943.2zM936.2,244.8L923.2,231.9H943.2zM936.2,244.8L929.2,231.9H949.1zM942.1,244.8L929.2,231.9H949.1zM942.1,250.7L935.1,237.9H955.1zM948.1,250.7L935.1,237.9H955.1zM948.1,256.7L941.1,243.9H961.1zM954.1,256.7L941.1,243.9H961.1zM954.1,256.7L947.1,243.9H967.1zM960.1,256.7L947.1,243.9H967.1zM960.1,262.7L953.1,249.9H973.1zM966.1,262.7L953.1,249.9H973.1zM966.1,262.7L959.1,249.9H979zM972,262.7L959.1,249.9H979zM972,268.7L965,255.9H985zM978,268.7L965,255.9H985zM978,268.7L971,255.9H991zM984,268.7L971,255.9H991zM984,268.7L977,255.9H997zM990,268.7L977,255.9H997zM990,274.6L983,261.9H1003zM996,274.6L983,261.9H1003zM996,280.6L989,267.8H1008.9zM1001.9,280.6L989,267.8H1008.9zM1001.9,280.6L994.9,267.8H1014.9zM1007.9,280.6L994.9,267.8H1014.9zM1007.9,280.6L1000.9,267.8H1020.9zM1013.9,280.6L1000.9,267.8H1020.9zM1013.9,274.6L1006.9,261.9H1026.9zM1019.9,274.6L1006.9,261.9H1026.9zM1019.9,268.7L1012.9,255.9H1032.9zM1025.9,268.7L1012.9,255.9H1032.9zM1025.9,268.7L1018.9,255.9H1038.8zM1031.8,268.7L1018.9,255.9H1038.8zM1031.8,262.7L1024.8,249.9H1044.8zM1037.8,262.7L1024.8,249.9H1044.8zM1037.8,262.7L1030.8,249.9H1050.8zM1043.8,262.7L1030.8,249.9H1050.8zM1049.8,268.7L1042.8,255.9H1062.8zM1055.8,268.7L1042.8,255.9H1062.8zM1055.8,268.7L1048.8,255.9H1068.7zM1061.7,268.7L1048.8,255.9H1068.7zM1061.7,268.7L1054.7,255.9H1074.7zM1067.7,268.7L1054.7,255.9H1074.7zM1067.7,274.6L1060.7,261.9H1080.7zM1073.7,274.6L1060.7,261.9H1080.7zM1073.7,274.6L1066.7,261.9H1086.7zM1079.7,274.6L1066.7,261.9H1086.7zM1079.7,274.6L1072.7,261.9H1092.7zM1085.7,274.6L1072.7,261.9H1092.7zM1085.7,280.6L1078.7,267.8H1098.6zM1091.6,280.6L1078.7,267.8H1098.6zM1091.6,280.6L1084.6,267.8H1104.6zM1097.6,280.6L1084.6,267.8H1104.6zM1097.6,286.6L1090.6,273.8H1110.6zM1103.6,286.6L1090.6,273.8H1110.6zM1103.6,286.6L1096.6,273.8H1116.6zM1109.6,286.6L1096.6,273.8H1116.6zM1109.6,286.6L1102.6,273.8H1122.6zM1115.6,286.6L1102.6,273.8H1122.6zM1115.6,292.6L1108.6,279.8H1128.5zM1121.5,292.6L1108.6,279.8H1128.5zM1121.5,292.6L1114.5,279.8H1134.5zM1127.5,292.6L1114.5,279.8H1134.5zM1127.5,298.6L1120.5,285.8H1140.5zM1133.5,298.6L1120.5,285.8H1140.5zM1133.5,298.6L1126.5,285.8H1146.5zM1139.5,298.6L1126.5,285.8H1146.5zM1139.5,304.5L1132.5,291.8H1152.5zM1145.5,304.5L1132.5,291.8H1152.5zM1145.5,304.5L1138.5,291.8H1158.4zM1151.4,304.5L1138.5,291.8H1158.4zM1151.4,304.5L1144.4,291.8H1164.4zM1157.4,304.5L1144.4,291.8H1164.4zM1157.4,304.5L1150.4,291.8H1170.4zM1163.4,304.5L1150.4,291.8H1170.4zM1163.4,304.5L1156.4,291.8H1176.4zM1169.4,304.5L1156.4,291.8H1176.4zM1169.4,310.5L1162.4,297.7H1182.4zM1175.4,310.5L1162.4,297.7H1182.4zM1175.4,310.5L1168.4,297.7H1188.3zM1181.3,310.5L1168.4,297.7H1188.3zM1181.3,316.5L1174.3,303.7H1194.3zM1187.3,316.5L1174.3,303.7H1194.3zM1187.3,316.5L1180.3,303.7H1200.3zM1193.3,316.5L1180.3,303.7H1200.3zM1193.3,322.5L1186.3,309.7H1206.3zM1199.3,322.5L1186.3,309.7H1206.3zM1199.3,322.5L1192.3,309.7H1212.3zM1205.3,322.5L1192.3,309.7H1212.3zM1205.3,328.5L1198.3,315.7H1218.2zM1211.2,328.5L1198.3,315.7H1218.2zM1211.2,328.5L1204.2,315.7H1224.2zM1217.2,328.5L1204.2,315.7H1224.2zM1217.2,334.4L1210.2,321.7H1230.2zM1223.2,334.4L1210.2,321.7H1230.2zM1223.2,334.4L1216.2,321.7H1236.2zM1229.2,334.4L1216.2,321.7H1236.2zM1229.2,340.4L1222.2,327.6H1242.2zM1235.2,340.4L1222.2,327.6H1242.2zM1235.2,346.4L1228.2,333.6H1248.1zM1241.1,346.4L1228.2,333.6H1248.1zM1241.1,352.4L1234.1,339.6H1254.1zM1247.1,352.4L1234.1,339.6H1254.1zM1247.1,358.4L1240.1,345.6H1260.1zM1253.1,358.4L1240.1,345.6H1260.1zM1259.1,364.3L1252.1,351.6H1272.1zM1265.1,364.3L1252.1,351.6H1272.1zM1265.1,370.3L1258.1,357.5H1278zM1271,370.3L1258.1,357.5H1278zM1271,376.3L1264,363.5H1284zM1277,376.3L1264,363.5H1284zM1277,376.3L1270,363.5H1290zM1283,376.3L1270,363.5H1290zM1283,376.3L1276,363.5H1296zM1289,376.3L1276,363.5H1296zM1289,382.3L1282,369.5H1302zM1295,382.3L1282,369.5H1302zM1295,382.3L1288,369.5H1307.9zM1300.9,382.3L1288,369.5H1307.9zM1300.9,382.3L1293.9,369.5H1313.9zM1306.9,382.3L1293.9,369.5H1313.9zM1306.9,382.3L1299.9,369.5H1319.9zM1312.9,382.3L1299.9,369.5H1319.9zM1312.9,394.2L1305.9,381.5H1325.9zM1318.9,394.2L1305.9,381.5H1325.9zM1318.9,400.2L1311.9,387.4H1331.9zM1324.9,400.2L1311.9,387.4H1331.9zM1324.9,406.2L1317.9,393.4H1337.8zM1330.8,406.2L1317.9,393.4H1337.8zM1336.8,412.2L1329.8,399.4H1349.8zM1342.8,412.2L1329.8,399.4H1349.8zM1342.8,412.2L1335.8,399.4H1355.8zM1348.8,412.2L1335.8,399.4H1355.8zM1348.8,418.2L1341.8,405.4H1361.8zM1354.8,418.2L1341.8,405.4H1361.8zM1354.8,424.1L1347.8,411.4H1367.7zM1360.7,424.1L1347.8,411.4H1367.7zM1360.7,430.1L1353.7,417.3H1373.7zM1366.7,430.1L1353.7,417.3H1373.7zM1366.7,436.1L1359.7,423.3H1379.7zM1372.7,436.1L1359.7,423.3H1379.7zM1372.7,448.1L1365.7,435.3H1385.7zM1378.7,448.1L1365.7,435.3H1385.7zM1378.7,454L1371.7,441.2H1391.7zM1384.7,454L1371.7,441.2H1391.7zM1384.7,466L1377.7,453.2H1397.6zM1390.6,466L1377.7,453.2H1397.6zM1390.6,472L1383.6,459.2H1403.6zM1396.6,472L1383.6,459.2H1403.6zM1396.6,483.9L1389.6,471.2H1409.6zM1402.6,483.9L1389.6,471.2H1409.6zM1402.6,495.9L1395.6,483.1H1415.6zM1408.6,495.9L1395.6,483.1H1415.6zM1408.6,513.9L1401.6,501.1H1421.6zM1414.6,513.9L1401.6,501.1H1421.6zM1414.6,531.8L1407.6,519H1427.5zM1420.5,531.8L1407.6,519H1427.5zM1420.5,555.7L1413.5,542.9H1433.5zM1426.5,555.7L1413.5,542.9H1433.5zM1426.5,585.6L1419.5,572.8H1439.5zM1432.5,585.6L1419.5,572.8H1439.5zM1432.5,621.5L1425.5,608.7H1445.5zM1438.5,621.5L1425.5,608.7H1445.5zM1438.5,669.3L1431.5,656.5H1451.5zM1444.5,669.3L1431.5,656.5H1451.5zM1444.5,705.2L1437.5,692.4H1457.4zM1450.4,705.2L1437.5,692.4H1457.4zM1450.4,729.1L1443.4,716.3H1463.4zM1456.4,729.1L1443.4,716.3H1463.4zM1456.4,711.2L1449.4,698.4H1469.4zM1462.4,711.2L1449.4,698.4H1469.4zM1462.4,645.4L1455.4,632.6H1475.4zM1468.4,645.4L1455.4,632.6H1475.4zM1468.4,567.7L1461.4,554.9H1481.4zM1474.4,567.7L1461.4,554.9H1481.4zM1474.4,537.8L1467.4,525H1487.3zM1480.3,537.8L1467.4,525H1487.3zM1480.3,519.8L1473.3,507H1493.3zM1486.3,519.8L1473.3,507H1493.3zM1486.3,513.9L1479.3,501.1H1499.3zM1492.3,513.9L1479.3,501.1H1499.3zM1492.3,519.8L1485.3,507H1505.3zM1498.3,519.8L1485.3,507H1505.3zM1498.3,525.8L1491.3,513H1511.3zM1504.3,525.8L1491.3,513H1511.3zM1504.3,537.8L1497.3,525H1517.2zM1510.2,537.8L1497.3,525H1517.2zM1510.2,549.7L1503.2,536.9H1523.2zM1516.2,549.7L1503.2,536.9H1523.2zM1516.2,561.7L1509.2,548.9H1529.2zM1522.2,561.7L1509.2,548.9H1529.2zM1522.2,573.6L1515.2,560.9H1535.2zM1528.2,573.6L1515.2,560.9H1535.2zM1528.2,585.6L1521.2,572.8H1541.2zM1534.2,585.6L1521.2,572.8H1541.2zM1534.2,597.6L1527.2,584.8H1547.1zM1540.1,597.6L1527.2,584.8H1547.1zM1540.1,609.5L1533.1,596.7H1553.1zM1546.1,609.5L1533.1,596.7H1553.1zM1546.1,621.5L1539.1,608.7H1559.1zM1552.1,621.5L1539.1,608.7H1559.1zM1552.1,633.5L1545.1,620.7H1565.1zM1558.1,633.5L1545.1,620.7H1565.1zM1558.1,651.4L1551.1,638.6H1571.1zM1564.1,651.4L1551.1,638.6H1571.1zM1564.1,663.4L1557.1,650.6H1577zM1570,663.4L1557.1,650.6H1577zM1570,681.3L1563,668.5H1583zM1576,681.3L1563,668.5H1583zM1576,693.2L1569,680.5H1589zM1582,693.2L1569,680.5H1589zM1582,711.2L1575,698.4H1595zM1588,711.2L1575,698.4H1595zM1588,729.1L1581,716.3H1601zM1594,729.1L1581,716.3H1601zM1594,753L1587,740.2H1606.9zM1599.9,753L1587,740.2H1606.9zM1599.9,771L1592.9,758.2H1612.9zM1605.9,771L1592.9,758.2H1612.9zM1605.9,794.9L1598.9,782.1H1618.9zM1611.9,794.9L1598.9,782.1H1618.9zM1611.9,824.8L1604.9,812H1624.9zM1617.9,824.8L1604.9,812H1624.9zM1617.9,860.7L1610.9,847.9H1630.9zM1623.9,860.7L1610.9,847.9H1630.9zM1623.9,890.6L1616.9,877.8H1636.8zM1629.8,890.6L1616.9,877.8H1636.8zM1629.8,926.5L1622.8,913.7H1642.8zM1635.8,926.5L1622.8,913.7H1642.8zM1641.8,1046.1L1634.8,1033.3H1654.8zM1647.8,1046.1L1634.8,1033.3H1654.8zM1647.8,1129.8L1640.8,1117H1660.8zM1653.8,1129.8L1640.8,1117H1660.8zM1653.8,1177.6L1646.8,1164.8H1666.7zM1659.7,1177.6L1646.8,1164.8H1666.7zM1665.7,1237.4L1658.7,1224.6H1678.7zM1671.7,1237.4L1658.7,1224.6H1678.7zM1671.7,1249.4L1664.7,1236.6H1684.7zM1677.7,1249.4L1664.7,1236.6H1684.7zM1677.7,1261.4L1670.7,1248.5H1690.7zM1683.7,1261.4L1670.7,1248.5H1690.7zM1683.7,1273.3L1676.7,1260.5H1696.6zM1689.6,1273.3L1676.7,1260.5H1696.6zM1689.6,1279.3L1682.6,1266.5H1702.6zM1695.6,1279.3L1682.6,1266.5H1702.6zM1713.6,1309.2L1706.6,1296.4H1726.5zM1719.5,1309.2L1706.6,1296.4H1726.5zM1719.5,1321.2L1712.5,1308.3H1732.5zM1725.5,1321.2L1712.5,1308.3H1732.5zM1725.5,1333.1L1718.5,1320.3H1738.5zM1731.5,1333.1L1718.5,1320.3H1738.5zM1731.5,1339.1L1724.5,1326.3H1744.5zM1737.5,1339.1L1724.5,1326.3H1744.5zM1737.5,1339.1L1730.5,1326.3H1750.5zM1743.5,1339.1L1730.5,1326.3H1750.5zM1743.5,1339.1L1736.5,1326.3H1756.4zM1749.4,1339.1L1736.5,1326.3H1756.4zM1749.4,1327.1L1742.4,1314.3H1762.4zM1755.4,1327.1L1742.4,1314.3H1762.4zM1755.4,1291.2L1748.4,1278.4H1768.4zM1761.4,1291.2L1748.4,1278.4H1768.4zM1761.4,1231.5L1754.4,1218.6H1774.4zM1767.4,1231.5L1754.4,1218.6H1774.4zM1797.3,806.9L1790.3,794.1H1810.3zM1803.3,806.9L1790.3,794.1H1810.3zM1803.3,824.8L1796.3,812H1816.2zM1809.2,824.8L1796.3,812H1816.2zM1809.2,812.9L1802.2,800.1H1822.2zM1815.2,812.9L1802.2,800.1H1822.2zM1851.1,238.4L1844.1,225.6H1864.1zM1857.1,238.4L1844.1,225.6H1864.1zM1863.1,386.4L1856.1,373.6H1876zM1869,386.4L1856.1,373.6H1876zM1881,651.4L1874,638.6H1894zM1887,651.4L1874,638.6H1894zM1887,645.4L1880,632.6H1900zM1893,645.4L1880,632.6H1900zM1904.9,280.6L1897.9,267.8H1917.9zM1910.9,280.6L1897.9,267.8H1917.9zM1910.9,268.7L1903.9,255.9H1923.9zM1916.9,268.7L1903.9,255.9H1923.9zM1922.9,250.7L1915.9,237.9H1935.8zM1928.8,250.7L1915.9,237.9H1935.8zM1928.8,244.8L1921.8,231.9H1941.8zM1934.8,244.8L1921.8,231.9H1941.8zM1934.8,244.8L1927.8,231.9H1947.8zM1940.8,244.8L1927.8,231.9H1947.8zM1940.8,244.8L1933.8,231.9H1953.8zM1946.8,244.8L1933.8,231.9H1953.8zM1946.8,244.8L1939.8,231.9H1959.8zM1952.8,244.8L1939.8,231.9H1959.8zM1952.8,244.8L1945.8,231.9H1965.7zM1958.7,244.8L1945.8,231.9H1965.7zM1958.7,244.8L1951.7,231.9H1971.7zM1964.7,244.8L1951.7,231.9H1971.7zM1964.7,244.8L1957.7,231.9H1977.7zM1970.7,244.8L1957.7,231.9H1977.7zM1970.7,244.8L1963.7,231.9H1983.7zM1976.7,244.8L1963.7,231.9H1983.7zM1976.7,244.8L1969.7,231.9H1989.7zM1982.7,244.8L1969.7,231.9H1989.7zM1982.7,256.7L1975.7,243.9H1995.6zM1988.6,256.7L1975.7,243.9H1995.6z" fill="#f0f"/>
</g>
<g>
<text transform="translate(129.07,64.64) scale(0.6065,0.6299)" font-size="100">60</text>
<text transform="translate(127.25,285.45) scale(0.6256,0.6269)" font-size="100">50</text>
<text transform="translate(129.80,500.46) scale(0.5989,0.6224)" font-size="100">40</text>
<text transform="translate(128.43,715.64) scale(0.6132,0.6299)" font-size="100">30</text>
<text transform="translate(128.55,936.06) scale(0.6120,0.6179)" font-size="100">20</text>
<text transform="translate(128.49,1151.27) scale(0.6126,0.6132)" font-size="100">10</text>
<text transform="translate(158.60,1366.45) scale(0.6238,0.6254)" font-size="100">0</text>
<text transform="translate(176.39,1551.66) scale(0.6072,0.6179)" font-size="100">4000</text>
<text transform="translate(431.52,1551.66) scale(0.6157,0.6179)" font-size="100">3500</text>
<text transform="translate(690.05,1551.66) scale(0.6105,0.6179)" font-size="100">3000</text>
<text transform="translate(946.96,1551.66) scale(0.6099,0.6179)" font-size="100">2500</text>
<text transform="translate(1204.26,1551.66) scale(0.6094,0.6179)" font-size="100">2000</text>
<text transform="translate(1466.03,1551.68) scale(0.6193,0.6088)" font-size="100">1500</text>
<text transform="translate(1723.55,1551.68) scale(0.6166,0.6088)" font-size="100">1000</text>
<text transform="translate(787.80,1700.99) scale(0.8396,0.7535)" font-size="100">Wavenumber</text>
<text transform="translate(1248.67,1702.37) scale(0.7820,0.7444)" font-size="100">(cm</text>
<text transform="translate(1372.27,1671.40) scale(0.5082,0.5045)" font-size="100">-1</text>
<text transform="translate(1415.87,1702.37) scale(0.6769,0.7444)" font-size="100">)</text>
<text transform="translate(94.23,1056.43) rotate(-90) scale(0.8142,0.7727)" font-size="100">Transmitance</text>
<text transform="translate(94.92,595.49) rotate(-90) scale(0.7482,0.7322)" font-size="100">(%)</text>
<text transform="translate(298.10,222.30) scale(0.7369,0.7478)" font-size="100">(a)</text>
<text transform="translate(285.96,520.06) scale(0.7602,0.7400)" font-size="100">(d)</text>
<text transform="translate(286.28,634.32) scale(0.6796,0.7467)" font-size="100">(c)</text>
<text transform="translate(279.97,795.40) scale(0.7583,0.7478)" font-size="100">(b)</text>
<text transform="translate(499.27,239.68) rotate(-90) scale(0.5259,0.5149)" font-size="100">Si-OH</text>
<text transform="translate(572.60,221.40) rotate(-90) scale(0.5337,0.5169)" font-size="100">N-H</text>
<text transform="translate(1438.37,233.58) rotate(-90) scale(0.5264,0.5149)" font-size="100">H-O-H</text>
<text transform="translate(1582.30,221.40) rotate(-90) scale(0.5337,0.5123)" font-size="100">N-H</text>
<text transform="translate(1731.66,216.88) rotate(-90) scale(0.4825,0.5179)" font-size="100">Si-O-Si</text>
<text transform="translate(1791.76,222.51) rotate(-90) scale(0.5295,0.5209)" font-size="100">Si-OH</text>
<text transform="translate(1879.97,216.84) rotate(-90) scale(0.4764,0.5149)" font-size="100">Si-O-Si</text>
<text transform="translate(1965.40,173.91) rotate(-90) scale(0.5703,0.5169)" font-size="100">N-H</text>
</g>
<path d="M517.5,50V186.5M516.5,186V421.5M515.5,421V656.5M514.5,656V891.5M513.5,891V1126.5M512.5,1126V1361.5M511.5,1361V1465M595.4,55V1465M1450.4,50V1465M1737.5,55V1465M1492.5,50V112.5M1493.5,112V347.5M1494.5,347V585.5M1495.5,585V822.5M1496.5,822V1060.5M1497.5,1060V1295.5M1498.5,1295V1470M1803.4,55V224.5M1804.4,224V460.5M1805.4,460V695.5M1806.4,695V930.5M1807.4,930V1164.5M1808.4,1164V1400.5M1809.4,1400V1465M1881.6,55V222.5M1882.6,222V458.5M1883.6,458V693.5M1884.6,693V928.5M1885.6,928V1162.5M1886.6,1162V1398.5M1887.6,1398V1465" stroke="#7f00ff" stroke-width="7.2" fill="none"/>
</svg></body></html>
